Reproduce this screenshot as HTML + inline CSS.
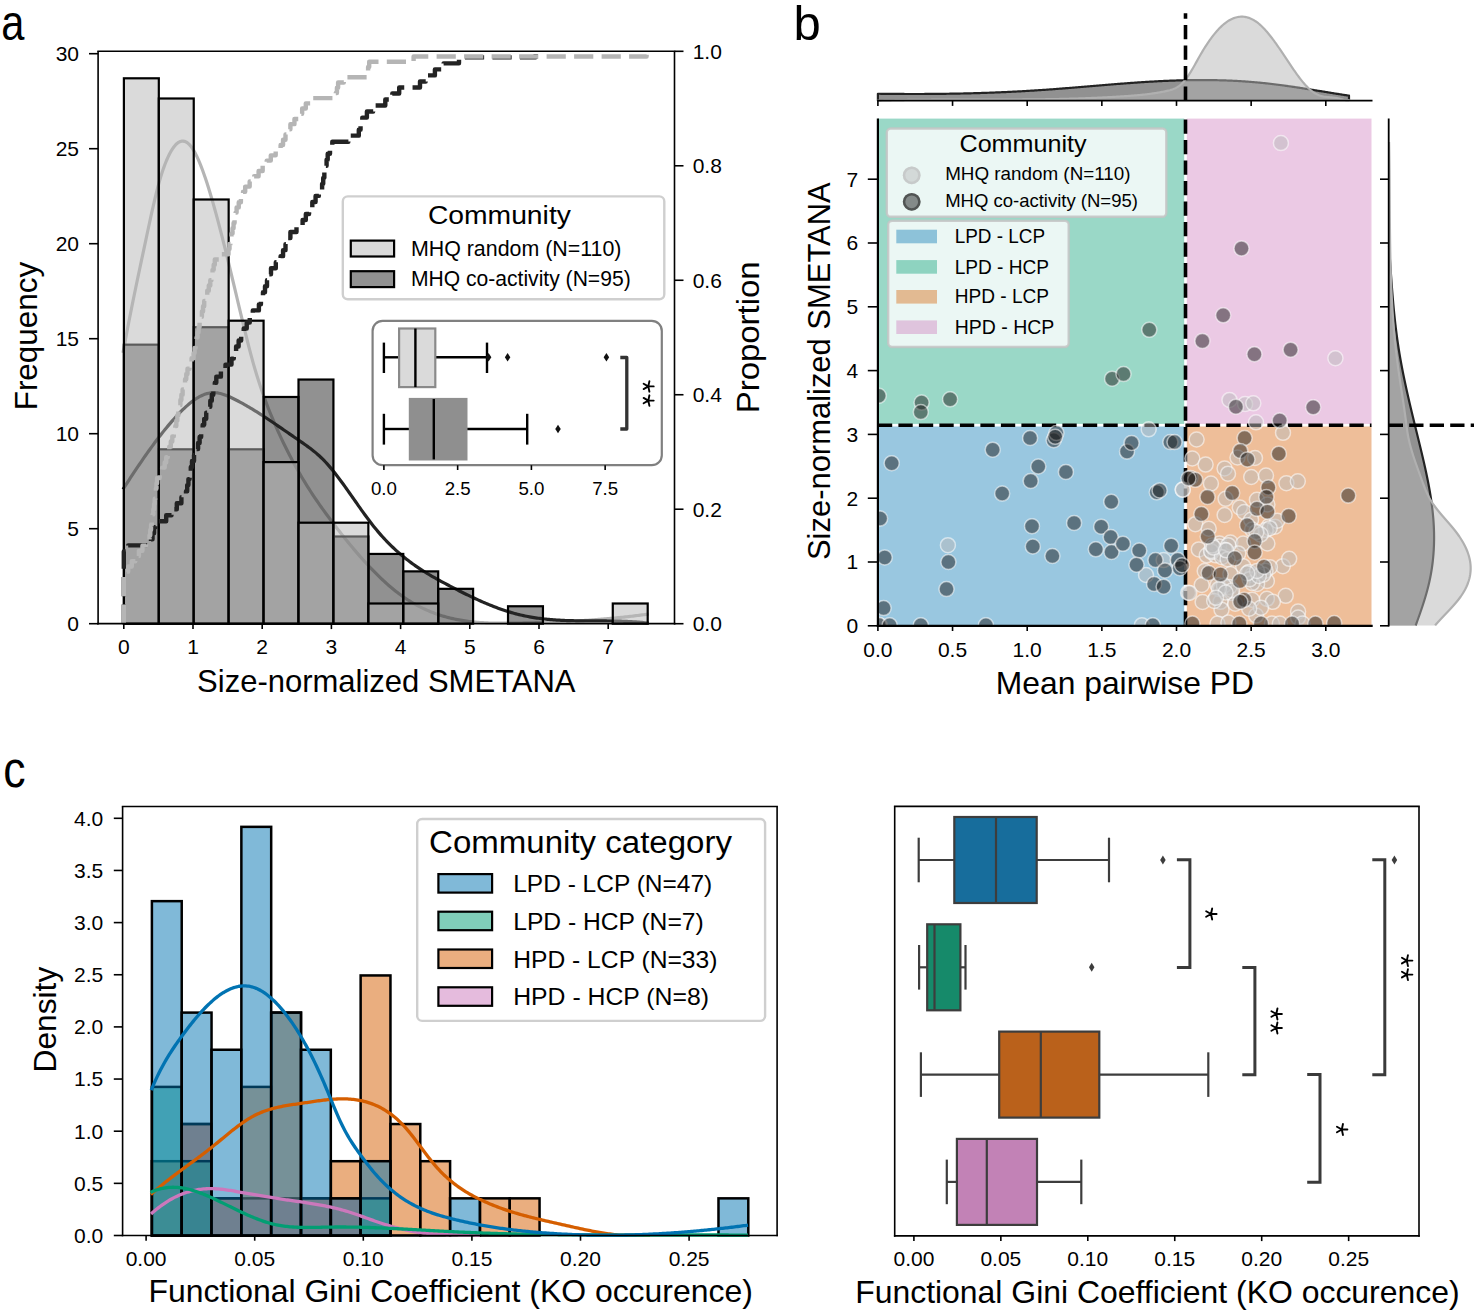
<!DOCTYPE html>
<html><head><meta charset="utf-8"><style>
html,body{margin:0;padding:0;background:#fff;}
svg{display:block;}
text{font-family:"Liberation Sans",sans-serif;}
</style></head><body>
<svg width="1474" height="1316" viewBox="0 0 1474 1316">
<rect x="0" y="0" width="1474" height="1316" fill="#fff"/>
<path d="M123.00,352.85 L124.50,344.66 L126.00,336.63 L127.50,328.76 L129.00,321.03 L130.50,313.42 L132.00,305.93 L133.50,298.54 L135.00,291.24 L136.50,284.02 L138.00,276.86 L139.50,269.74 L141.00,262.67 L142.50,255.62 L144.00,248.59 L145.50,241.55 L147.00,234.50 L148.50,227.48 L150.00,220.54 L151.50,213.70 L153.00,207.03 L154.50,200.56 L156.00,194.34 L157.50,188.42 L159.00,182.83 L160.50,177.62 L162.00,172.79 L163.50,168.34 L165.00,164.24 L166.50,160.49 L168.00,157.08 L169.50,154.00 L171.00,151.24 L172.50,148.81 L174.00,146.70 L175.50,144.93 L177.00,143.49 L178.50,142.39 L180.00,141.62 L181.50,141.19 L183.00,141.09 L184.50,141.35 L186.00,141.94 L187.50,142.88 L189.00,144.17 L190.50,145.81 L192.00,147.79 L193.50,150.10 L195.00,152.73 L196.50,155.66 L198.00,158.86 L199.50,162.33 L201.00,166.05 L202.50,170.01 L204.00,174.18 L205.50,178.55 L207.00,183.11 L208.50,187.84 L210.00,192.72 L211.50,197.75 L213.00,202.92 L214.50,208.22 L216.00,213.64 L217.50,219.18 L219.00,224.83 L220.50,230.57 L222.00,236.41 L223.50,242.32 L225.00,248.32 L226.50,254.38 L228.00,260.50 L229.50,266.67 L231.00,272.88 L232.50,279.13 L234.00,285.40 L235.50,291.70 L237.00,298.00 L238.50,304.31 L240.00,310.62 L241.50,316.91 L243.00,323.16 L244.50,329.36 L246.00,335.48 L247.50,341.50 L249.00,347.38 L250.50,353.12 L252.00,358.69 L253.50,364.06 L255.00,369.24 L256.50,374.24 L258.00,379.06 L259.50,383.72 L261.00,388.22 L262.50,392.58 L264.00,396.80 L265.50,400.89 L267.00,404.86 L268.50,408.72 L270.00,412.48 L271.50,416.14 L273.00,419.72 L274.50,423.23 L276.00,426.67 L277.50,430.04 L279.00,433.36 L280.50,436.62 L282.00,439.82 L283.50,442.96 L285.00,446.05 L286.50,449.08 L288.00,452.06 L289.50,454.99 L291.00,457.86 L292.50,460.69 L294.00,463.47 L295.50,466.20 L297.00,468.89 L298.50,471.53 L300.00,474.13 L301.50,476.69 L303.00,479.21 L304.50,481.69 L306.00,484.13 L307.50,486.53 L309.00,488.90 L310.50,491.24 L312.00,493.54 L313.50,495.81 L315.00,498.05 L316.50,500.26 L318.00,502.45 L319.50,504.60 L321.00,506.74 L322.50,508.85 L324.00,510.93 L325.50,513.00 L327.00,515.04 L328.50,517.07 L330.00,519.08 L331.50,521.07 L333.00,523.05 L334.50,525.01 L336.00,526.96 L337.50,528.90 L339.00,530.83 L340.50,532.75 L342.00,534.65 L343.50,536.54 L345.00,538.41 L346.50,540.27 L348.00,542.12 L349.50,543.95 L351.00,545.77 L352.50,547.57 L354.00,549.36 L355.50,551.13 L357.00,552.88 L358.50,554.62 L360.00,556.33 L361.50,558.03 L363.00,559.72 L364.50,561.38 L366.00,563.03 L367.50,564.65 L369.00,566.26 L370.50,567.85 L372.00,569.42 L373.50,570.96 L375.00,572.49 L376.50,573.99 L378.00,575.47 L379.50,576.93 L381.00,578.37 L382.50,579.78 L384.00,581.17 L385.50,582.54 L387.00,583.88 L388.50,585.20 L390.00,586.50 L391.50,587.77 L393.00,589.01 L394.50,590.23 L396.00,591.42 L397.50,592.59 L399.00,593.72 L400.50,594.83 L402.00,595.92 L403.50,596.97 L405.00,598.00 L406.50,599.00 L408.00,599.98 L409.50,600.93 L411.00,601.85 L412.50,602.75 L414.00,603.62 L415.50,604.47 L417.00,605.30 L418.50,606.10 L420.00,606.87 L421.50,607.63 L423.00,608.36 L424.50,609.07 L426.00,609.75 L427.50,610.41 L429.00,611.06 L430.50,611.68 L432.00,612.28 L433.50,612.86 L435.00,613.42 L436.50,613.95 L438.00,614.47 L439.50,614.98 L441.00,615.46 L442.50,615.92 L444.00,616.37 L445.50,616.79 L447.00,617.20 L448.50,617.60 L450.00,617.97 L451.50,618.33 L453.00,618.67 L454.50,619.00 L456.00,619.31 L457.50,619.61 L459.00,619.89 L460.50,620.16 L462.00,620.42 L463.50,620.66 L465.00,620.88 L466.50,621.10 L468.00,621.30 L469.50,621.49 L471.00,621.66 L472.50,621.83 L474.00,621.98 L475.50,622.13 L477.00,622.26 L478.50,622.38 L480.00,622.49 L481.50,622.60 L483.00,622.69 L484.50,622.77 L486.00,622.85 L487.50,622.92 L489.00,622.98 L490.50,623.00 L492.00,623.00 L493.50,623.00 L495.00,623.00 L496.50,623.00 L498.00,623.00 L499.50,623.00 L501.00,623.00 L502.50,623.00 L504.00,623.00 L505.50,623.00 L507.00,623.00 L508.50,623.00 L510.00,623.00 L511.50,623.00 L513.00,623.00 L514.50,623.00 L516.00,623.00 L517.50,623.00 L519.00,623.00 L520.50,623.00 L522.00,623.00 L523.50,622.97 L525.00,622.94 L526.50,622.91 L528.00,622.87 L529.50,622.84 L531.00,622.80 L532.50,622.76 L534.00,622.73 L535.50,622.69 L537.00,622.64 L538.50,622.60 L540.00,622.56 L541.50,622.51 L543.00,622.46 L544.50,622.41 L546.00,622.36 L547.50,622.31 L549.00,622.26 L550.50,622.20 L552.00,622.14 L553.50,622.09 L555.00,622.03 L556.50,621.96 L558.00,621.90 L559.50,621.83 L561.00,621.77 L562.50,621.70 L564.00,621.63 L565.50,621.55 L567.00,621.48 L568.50,621.40 L570.00,621.32 L571.50,621.24 L573.00,621.16 L574.50,621.08 L576.00,620.99 L577.50,620.90 L579.00,620.81 L580.50,620.72 L582.00,620.63 L583.50,620.53 L585.00,620.43 L586.50,620.33 L588.00,620.23 L589.50,620.12 L591.00,620.02 L592.50,619.91 L594.00,619.80 L595.50,619.68 L597.00,619.57 L598.50,619.45 L600.00,619.33 L601.50,619.21 L603.00,619.08 L604.50,618.95 L606.00,618.82 L607.50,618.69 L609.00,618.56 L610.50,618.42 L612.00,618.28 L613.50,618.14 L615.00,617.99 L616.50,617.85 L618.00,617.70 L619.50,617.54 L621.00,617.39 L622.50,617.23 L624.00,617.07 L625.50,616.91 L627.00,616.75 L628.50,616.58 L630.00,616.41 L631.50,616.23 L633.00,616.06 L634.50,615.88 L636.00,615.70 L637.50,615.51 L639.00,615.33 L640.50,615.14 L642.00,614.94 L643.50,614.75 L645.00,614.55 L646.50,614.35 L648.00,614.14 L648.80,614.03" fill="none" stroke="#b5b5b5" stroke-width="3.2" stroke-linejoin="round"/>
<path d="M123.00,489.35 L124.50,487.01 L126.00,484.68 L127.50,482.35 L129.00,480.04 L130.50,477.74 L132.00,475.46 L133.50,473.18 L135.00,470.92 L136.50,468.68 L138.00,466.45 L139.50,464.23 L141.00,462.03 L142.50,459.85 L144.00,457.68 L145.50,455.54 L147.00,453.41 L148.50,451.30 L150.00,449.21 L151.50,447.14 L153.00,445.09 L154.50,443.06 L156.00,441.06 L157.50,439.07 L159.00,437.11 L160.50,435.18 L162.00,433.27 L163.50,431.38 L165.00,429.52 L166.50,427.69 L168.00,425.88 L169.50,424.10 L171.00,422.35 L172.50,420.63 L174.00,418.94 L175.50,417.27 L177.00,415.64 L178.50,414.04 L180.00,412.48 L181.50,410.96 L183.00,409.48 L184.50,408.05 L186.00,406.66 L187.50,405.32 L189.00,404.03 L190.50,402.80 L192.00,401.62 L193.50,400.51 L195.00,399.46 L196.50,398.47 L198.00,397.55 L199.50,396.70 L201.00,395.93 L202.50,395.23 L204.00,394.61 L205.50,394.07 L207.00,393.61 L208.50,393.24 L210.00,392.96 L211.50,392.77 L213.00,392.67 L214.50,392.67 L216.00,392.76 L217.50,392.95 L219.00,393.21 L220.50,393.55 L222.00,393.95 L223.50,394.42 L225.00,394.95 L226.50,395.53 L228.00,396.15 L229.50,396.81 L231.00,397.51 L232.50,398.22 L234.00,398.96 L235.50,399.72 L237.00,400.48 L238.50,401.27 L240.00,402.07 L241.50,402.88 L243.00,403.71 L244.50,404.55 L246.00,405.41 L247.50,406.27 L249.00,407.15 L250.50,408.04 L252.00,408.94 L253.50,409.86 L255.00,410.78 L256.50,411.71 L258.00,412.65 L259.50,413.60 L261.00,414.56 L262.50,415.53 L264.00,416.51 L265.50,417.49 L267.00,418.48 L268.50,419.47 L270.00,420.48 L271.50,421.48 L273.00,422.49 L274.50,423.51 L276.00,424.53 L277.50,425.56 L279.00,426.59 L280.50,427.62 L282.00,428.65 L283.50,429.69 L285.00,430.72 L286.50,431.76 L288.00,432.80 L289.50,433.84 L291.00,434.88 L292.50,435.91 L294.00,436.95 L295.50,437.99 L297.00,439.02 L298.50,440.05 L300.00,441.08 L301.50,442.11 L303.00,443.15 L304.50,444.20 L306.00,445.26 L307.50,446.34 L309.00,447.44 L310.50,448.56 L312.00,449.72 L313.50,450.90 L315.00,452.13 L316.50,453.39 L318.00,454.70 L319.50,456.05 L321.00,457.46 L322.50,458.92 L324.00,460.44 L325.50,462.02 L327.00,463.66 L328.50,465.35 L330.00,467.09 L331.50,468.88 L333.00,470.72 L334.50,472.59 L336.00,474.51 L337.50,476.46 L339.00,478.44 L340.50,480.45 L342.00,482.49 L343.50,484.55 L345.00,486.64 L346.50,488.74 L348.00,490.85 L349.50,492.98 L351.00,495.12 L352.50,497.26 L354.00,499.40 L355.50,501.54 L357.00,503.69 L358.50,505.82 L360.00,507.94 L361.50,510.06 L363.00,512.15 L364.50,514.23 L366.00,516.29 L367.50,518.32 L369.00,520.33 L370.50,522.30 L372.00,524.24 L373.50,526.15 L375.00,528.02 L376.50,529.84 L378.00,531.63 L379.50,533.38 L381.00,535.09 L382.50,536.77 L384.00,538.40 L385.50,540.01 L387.00,541.58 L388.50,543.11 L390.00,544.62 L391.50,546.09 L393.00,547.52 L394.50,548.93 L396.00,550.31 L397.50,551.66 L399.00,552.98 L400.50,554.27 L402.00,555.53 L403.50,556.77 L405.00,557.98 L406.50,559.17 L408.00,560.34 L409.50,561.48 L411.00,562.59 L412.50,563.69 L414.00,564.76 L415.50,565.82 L417.00,566.85 L418.50,567.86 L420.00,568.86 L421.50,569.84 L423.00,570.80 L424.50,571.75 L426.00,572.68 L427.50,573.59 L429.00,574.50 L430.50,575.38 L432.00,576.26 L433.50,577.13 L435.00,577.98 L436.50,578.82 L438.00,579.66 L439.50,580.48 L441.00,581.30 L442.50,582.11 L444.00,582.91 L445.50,583.71 L447.00,584.50 L448.50,585.29 L450.00,586.08 L451.50,586.86 L453.00,587.64 L454.50,588.41 L456.00,589.18 L457.50,589.95 L459.00,590.71 L460.50,591.47 L462.00,592.22 L463.50,592.97 L465.00,593.71 L466.50,594.45 L468.00,595.18 L469.50,595.90 L471.00,596.62 L472.50,597.33 L474.00,598.04 L475.50,598.73 L477.00,599.42 L478.50,600.10 L480.00,600.78 L481.50,601.44 L483.00,602.10 L484.50,602.74 L486.00,603.38 L487.50,604.01 L489.00,604.63 L490.50,605.24 L492.00,605.84 L493.50,606.43 L495.00,607.01 L496.50,607.58 L498.00,608.13 L499.50,608.68 L501.00,609.21 L502.50,609.73 L504.00,610.24 L505.50,610.74 L507.00,611.22 L508.50,611.69 L510.00,612.15 L511.50,612.60 L513.00,613.03 L514.50,613.44 L516.00,613.84 L517.50,614.23 L519.00,614.60 L520.50,614.96 L522.00,615.31 L523.50,615.64 L525.00,615.96 L526.50,616.26 L528.00,616.55 L529.50,616.83 L531.00,617.10 L532.50,617.36 L534.00,617.60 L535.50,617.83 L537.00,618.05 L538.50,618.26 L540.00,618.46 L541.50,618.65 L543.00,618.83 L544.50,619.00 L546.00,619.16 L547.50,619.31 L549.00,619.45 L550.50,619.58 L552.00,619.70 L553.50,619.82 L555.00,619.93 L556.50,620.03 L558.00,620.12 L559.50,620.21 L561.00,620.29 L562.50,620.36 L564.00,620.43 L565.50,620.49 L567.00,620.55 L568.50,620.60 L570.00,620.65 L571.50,620.69 L573.00,620.72 L574.50,620.76 L576.00,620.78 L577.50,620.81 L579.00,620.83 L580.50,620.85 L582.00,620.86 L583.50,620.88 L585.00,620.89 L586.50,620.90 L588.00,620.91 L589.50,620.91 L591.00,620.92 L592.50,620.92 L594.00,620.92 L595.50,620.93 L597.00,620.93 L598.50,620.93 L600.00,620.94 L601.50,620.94 L603.00,620.95 L604.50,620.96 L606.00,620.97 L607.50,620.98 L609.00,620.99 L610.50,621.01 L612.00,621.03 L613.50,621.05 L615.00,621.07 L616.50,621.10 L618.00,621.14 L619.50,621.17 L621.00,621.22 L622.50,621.26 L624.00,621.31 L625.50,621.37 L627.00,621.43 L628.50,621.50 L630.00,621.58 L631.50,621.66 L633.00,621.74 L634.50,621.84 L636.00,621.94 L637.50,622.05 L639.00,622.17 L640.50,622.29 L642.00,622.43 L643.50,622.57 L645.00,622.72 L646.50,622.88 L648.00,623.00 L648.80,623.00" fill="none" stroke="#232323" stroke-width="3.2" stroke-linejoin="round"/>
<rect x="123.90" y="344.66" width="34.92" height="279.04" fill="#232323" stroke="#000" stroke-width="2.2" fill-opacity="0.5"/>
<rect x="158.82" y="449.30" width="34.92" height="174.40" fill="#232323" stroke="#000" stroke-width="2.2" fill-opacity="0.5"/>
<rect x="193.74" y="327.22" width="34.92" height="296.48" fill="#232323" stroke="#000" stroke-width="2.2" fill-opacity="0.5"/>
<rect x="228.66" y="449.30" width="34.92" height="174.40" fill="#232323" stroke="#000" stroke-width="2.2" fill-opacity="0.5"/>
<rect x="263.58" y="396.98" width="34.92" height="226.72" fill="#232323" stroke="#000" stroke-width="2.2" fill-opacity="0.5"/>
<rect x="298.50" y="379.54" width="34.92" height="244.16" fill="#232323" stroke="#000" stroke-width="2.2" fill-opacity="0.5"/>
<rect x="333.42" y="536.50" width="34.92" height="87.20" fill="#232323" stroke="#000" stroke-width="2.2" fill-opacity="0.5"/>
<rect x="368.34" y="553.94" width="34.92" height="69.76" fill="#232323" stroke="#000" stroke-width="2.2" fill-opacity="0.5"/>
<rect x="403.26" y="571.38" width="34.92" height="52.32" fill="#232323" stroke="#000" stroke-width="2.2" fill-opacity="0.5"/>
<rect x="438.18" y="588.82" width="34.92" height="34.88" fill="#232323" stroke="#000" stroke-width="2.2" fill-opacity="0.5"/>
<rect x="508.02" y="606.26" width="34.92" height="17.44" fill="#232323" stroke="#000" stroke-width="2.2" fill-opacity="0.5"/>
<rect x="123.90" y="78.30" width="34.92" height="545.40" fill="#b5b5b5" stroke="#000" stroke-width="2.2" fill-opacity="0.5"/>
<rect x="158.82" y="98.50" width="34.92" height="525.20" fill="#b5b5b5" stroke="#000" stroke-width="2.2" fill-opacity="0.5"/>
<rect x="193.74" y="199.50" width="34.92" height="424.20" fill="#b5b5b5" stroke="#000" stroke-width="2.2" fill-opacity="0.5"/>
<rect x="228.66" y="320.70" width="34.92" height="303.00" fill="#b5b5b5" stroke="#000" stroke-width="2.2" fill-opacity="0.5"/>
<rect x="263.58" y="462.10" width="34.92" height="161.60" fill="#b5b5b5" stroke="#000" stroke-width="2.2" fill-opacity="0.5"/>
<rect x="298.50" y="522.70" width="34.92" height="101.00" fill="#b5b5b5" stroke="#000" stroke-width="2.2" fill-opacity="0.5"/>
<rect x="333.42" y="522.70" width="34.92" height="101.00" fill="#b5b5b5" stroke="#000" stroke-width="2.2" fill-opacity="0.5"/>
<rect x="368.34" y="603.50" width="34.92" height="20.20" fill="#b5b5b5" stroke="#000" stroke-width="2.2" fill-opacity="0.5"/>
<rect x="403.26" y="603.50" width="34.92" height="20.20" fill="#b5b5b5" stroke="#000" stroke-width="2.2" fill-opacity="0.5"/>
<rect x="612.78" y="603.50" width="34.92" height="20.20" fill="#b5b5b5" stroke="#000" stroke-width="2.2" fill-opacity="0.5"/>
<path d="M123.80,623.70 L123.80,623.70 L123.80,617.67 L123.80,617.67 L123.80,611.65 L123.80,611.65 L123.80,605.62 L123.80,605.62 L123.80,599.60 L123.80,599.60 L123.80,593.57 L123.80,593.57 L123.80,587.55 L123.80,587.55 L123.80,581.52 L123.80,581.52 L123.80,575.50 L123.80,575.50 L123.80,569.47 L123.80,569.47 L123.80,563.45 L123.80,563.45 L123.80,557.42 L123.80,557.42 L123.80,551.40 L128.20,551.40 L128.20,545.37 L151.00,545.37 L151.00,539.35 L152.53,539.35 L152.53,533.32 L154.07,533.32 L154.07,527.30 L155.60,527.30 L155.60,521.27 L166.20,521.27 L166.20,515.25 L171.50,515.25 L171.50,509.22 L176.80,509.22 L176.80,503.19 L181.40,503.19 L181.40,497.17 L186.00,497.17 L186.00,491.14 L187.20,491.14 L187.20,485.12 L188.40,485.12 L188.40,479.09 L189.60,479.09 L189.60,473.07 L190.80,473.07 L190.80,467.04 L192.00,467.04 L192.00,461.02 L194.03,461.02 L194.03,454.99 L196.07,454.99 L196.07,448.97 L198.10,448.97 L198.10,442.94 L199.62,442.94 L199.62,436.92 L201.15,436.92 L201.15,430.89 L202.67,430.89 L202.67,424.87 L204.20,424.87 L204.20,418.84 L206.23,418.84 L206.23,412.82 L208.27,412.82 L208.27,406.79 L210.30,406.79 L210.30,400.77 L211.80,400.77 L211.80,394.74 L213.30,394.74 L213.30,388.71 L214.80,388.71 L214.80,382.69 L216.30,382.69 L216.30,376.66 L220.90,376.66 L220.90,370.64 L225.50,370.64 L225.50,364.61 L231.50,364.61 L231.50,358.59 L233.80,358.59 L233.80,352.56 L236.10,352.56 L236.10,346.54 L238.63,346.54 L238.63,340.51 L241.17,340.51 L241.17,334.49 L243.70,334.49 L243.70,328.46 L246.73,328.46 L246.73,322.44 L249.77,322.44 L249.77,316.41 L252.80,316.41 L252.80,310.39 L258.90,310.39 L258.90,304.36 L260.93,304.36 L260.93,298.34 L262.97,298.34 L262.97,292.31 L265.00,292.31 L265.00,286.29 L267.00,286.29 L267.00,280.26 L269.00,280.26 L269.00,274.23 L271.00,274.23 L271.00,268.21 L275.80,268.21 L275.80,262.18 L280.60,262.18 L280.60,256.16 L283.05,256.16 L283.05,250.13 L285.50,250.13 L285.50,244.11 L287.95,244.11 L287.95,238.08 L290.40,238.08 L290.40,232.06 L296.50,232.06 L296.50,226.03 L302.60,226.03 L302.60,220.01 L305.83,220.01 L305.83,213.98 L309.07,213.98 L309.07,207.96 L312.30,207.96 L312.30,201.93 L315.57,201.93 L315.57,195.91 L318.83,195.91 L318.83,189.88 L322.10,189.88 L322.10,183.86 L323.22,183.86 L323.22,177.83 L324.34,177.83 L324.34,171.81 L325.46,171.81 L325.46,165.78 L326.58,165.78 L326.58,159.75 L327.70,159.75 L327.70,153.73 L330.00,153.73 L330.00,147.70 L332.30,147.70 L332.30,141.68 L348.40,141.68 L348.40,135.65 L358.80,135.65 L358.80,129.63 L360.55,129.63 L360.55,123.60 L362.30,123.60 L362.30,117.58 L366.90,117.58 L366.90,111.55 L373.20,111.55 L373.20,105.53 L385.30,105.53 L385.30,99.50 L392.30,99.50 L392.30,93.48 L399.20,93.48 L399.20,87.45 L420.00,87.45 L420.00,81.43 L425.70,81.43 L425.70,75.40 L434.90,75.40 L434.90,69.38 L443.60,69.38 L443.60,63.35 L459.00,63.35 L459.00,57.33 L535.70,57.33 L535.70,51.30" fill="none" stroke="#232323" stroke-width="4.4" stroke-dasharray="19.2 8.3" stroke-linejoin="round"/>
<path d="M123.80,623.70 L123.80,623.70 L123.80,618.50 L123.80,618.50 L123.80,613.29 L123.80,613.29 L123.80,608.09 L123.80,608.09 L123.80,602.89 L123.80,602.89 L123.80,597.68 L123.80,597.68 L123.80,592.48 L123.80,592.48 L123.80,587.27 L123.80,587.27 L123.80,582.07 L123.80,582.07 L123.80,576.87 L126.00,576.87 L126.00,571.66 L128.20,571.66 L128.20,566.46 L131.77,566.46 L131.77,561.26 L135.33,561.26 L135.33,556.05 L138.90,556.05 L138.90,550.85 L142.43,550.85 L142.43,545.65 L145.97,545.65 L145.97,540.44 L149.50,540.44 L149.50,535.24 L150.27,535.24 L150.27,530.03 L151.03,530.03 L151.03,524.83 L151.80,524.83 L151.80,519.63 L152.57,519.63 L152.57,514.42 L153.33,514.42 L153.33,509.22 L154.10,509.22 L154.10,504.02 L154.70,504.02 L154.70,498.81 L155.30,498.81 L155.30,493.61 L155.90,493.61 L155.90,488.41 L156.50,488.41 L156.50,483.20 L157.10,483.20 L157.10,478.00 L159.63,478.00 L159.63,472.79 L162.17,472.79 L162.17,467.59 L164.70,467.59 L164.70,462.39 L166.22,462.39 L166.22,457.18 L167.75,457.18 L167.75,451.98 L169.28,451.98 L169.28,446.78 L170.80,446.78 L170.80,441.57 L172.30,441.57 L172.30,436.37 L173.80,436.37 L173.80,431.17 L175.30,431.17 L175.30,425.96 L176.32,425.96 L176.32,420.76 L177.33,420.76 L177.33,415.55 L178.35,415.55 L178.35,410.35 L179.37,410.35 L179.37,405.15 L180.38,405.15 L180.38,399.94 L181.40,399.94 L181.40,394.74 L182.62,394.74 L182.62,389.54 L183.84,389.54 L183.84,384.33 L185.06,384.33 L185.06,379.13 L186.28,379.13 L186.28,373.93 L187.50,373.93 L187.50,368.72 L189.53,368.72 L189.53,363.52 L191.57,363.52 L191.57,358.31 L193.60,358.31 L193.60,353.11 L194.60,353.11 L194.60,347.91 L195.60,347.91 L195.60,342.70 L196.60,342.70 L196.60,337.50 L197.60,337.50 L197.60,332.30 L198.60,332.30 L198.60,327.09 L199.60,327.09 L199.60,321.89 L200.75,321.89 L200.75,316.69 L201.90,316.69 L201.90,311.48 L203.05,311.48 L203.05,306.28 L204.20,306.28 L204.20,301.07 L205.72,301.07 L205.72,295.87 L207.25,295.87 L207.25,290.67 L208.78,290.67 L208.78,285.46 L210.30,285.46 L210.30,280.26 L211.43,280.26 L211.43,275.06 L212.55,275.06 L212.55,269.85 L213.68,269.85 L213.68,264.65 L214.80,264.65 L214.80,259.45 L221.65,259.45 L221.65,254.24 L228.50,254.24 L228.50,249.04 L229.51,249.04 L229.51,243.83 L230.53,243.83 L230.53,238.63 L231.54,238.63 L231.54,233.43 L232.55,233.43 L232.55,228.22 L233.56,228.22 L233.56,223.02 L234.57,223.02 L234.57,217.82 L235.59,217.82 L235.59,212.61 L236.60,212.61 L236.60,207.41 L238.75,207.41 L238.75,202.21 L240.90,202.21 L240.90,197.00 L243.05,197.00 L243.05,191.80 L245.20,191.80 L245.20,186.59 L249.67,186.59 L249.67,181.39 L254.13,181.39 L254.13,176.19 L258.60,176.19 L258.60,170.98 L262.67,170.98 L262.67,165.78 L266.73,165.78 L266.73,160.58 L270.80,160.58 L270.80,155.37 L275.70,155.37 L275.70,150.17 L280.60,150.17 L280.60,144.97 L283.05,144.97 L283.05,139.76 L285.50,139.76 L285.50,134.56 L287.95,134.56 L287.95,129.35 L290.40,129.35 L290.40,124.15 L294.45,124.15 L294.45,118.95 L298.50,118.95 L298.50,113.74 L302.15,113.74 L302.15,108.54 L305.80,108.54 L305.80,103.34 L311.50,103.34 L311.50,98.13 L335.77,98.13 L335.77,92.93 L336.93,92.93 L336.93,87.73 L338.10,87.73 L338.10,82.52 L343.80,82.52 L343.80,77.32 L367.00,77.32 L367.00,72.11 L368.10,72.11 L368.10,66.91 L369.20,66.91 L369.20,61.71 L413.60,61.71 L413.60,56.50 L646.60,56.50 L646.60,51.30" fill="none" stroke="#b5b5b5" stroke-width="4.4" stroke-dasharray="19.2 8.3" stroke-linejoin="round"/>
<line x1="98.10" y1="51.30" x2="98.10" y2="624.40" stroke="#000" stroke-width="1.6"/>
<line x1="674.50" y1="51.30" x2="674.50" y2="624.40" stroke="#000" stroke-width="1.6"/>
<line x1="97.30" y1="51.30" x2="675.30" y2="51.30" stroke="#000" stroke-width="1.6"/>
<line x1="97.30" y1="623.60" x2="675.30" y2="623.60" stroke="#000" stroke-width="1.6"/>
<line x1="89.00" y1="623.70" x2="98.10" y2="623.70" stroke="#000" stroke-width="1.6"/>
<text x="79.00" y="631.10" font-size="21" text-anchor="end" fill="#000">0</text>
<line x1="89.00" y1="528.70" x2="98.10" y2="528.70" stroke="#000" stroke-width="1.6"/>
<text x="79.00" y="536.10" font-size="21" text-anchor="end" fill="#000">5</text>
<line x1="89.00" y1="433.70" x2="98.10" y2="433.70" stroke="#000" stroke-width="1.6"/>
<text x="79.00" y="441.10" font-size="21" text-anchor="end" fill="#000">10</text>
<line x1="89.00" y1="338.70" x2="98.10" y2="338.70" stroke="#000" stroke-width="1.6"/>
<text x="79.00" y="346.10" font-size="21" text-anchor="end" fill="#000">15</text>
<line x1="89.00" y1="243.70" x2="98.10" y2="243.70" stroke="#000" stroke-width="1.6"/>
<text x="79.00" y="251.10" font-size="21" text-anchor="end" fill="#000">20</text>
<line x1="89.00" y1="148.70" x2="98.10" y2="148.70" stroke="#000" stroke-width="1.6"/>
<text x="79.00" y="156.10" font-size="21" text-anchor="end" fill="#000">25</text>
<line x1="89.00" y1="53.70" x2="98.10" y2="53.70" stroke="#000" stroke-width="1.6"/>
<text x="79.00" y="61.10" font-size="21" text-anchor="end" fill="#000">30</text>
<line x1="123.80" y1="623.60" x2="123.80" y2="629.10" stroke="#000" stroke-width="1.6"/>
<text x="123.80" y="653.90" font-size="21" text-anchor="middle" fill="#000">0</text>
<line x1="193.00" y1="623.60" x2="193.00" y2="629.10" stroke="#000" stroke-width="1.6"/>
<text x="193.00" y="653.90" font-size="21" text-anchor="middle" fill="#000">1</text>
<line x1="262.20" y1="623.60" x2="262.20" y2="629.10" stroke="#000" stroke-width="1.6"/>
<text x="262.20" y="653.90" font-size="21" text-anchor="middle" fill="#000">2</text>
<line x1="331.40" y1="623.60" x2="331.40" y2="629.10" stroke="#000" stroke-width="1.6"/>
<text x="331.40" y="653.90" font-size="21" text-anchor="middle" fill="#000">3</text>
<line x1="400.60" y1="623.60" x2="400.60" y2="629.10" stroke="#000" stroke-width="1.6"/>
<text x="400.60" y="653.90" font-size="21" text-anchor="middle" fill="#000">4</text>
<line x1="469.80" y1="623.60" x2="469.80" y2="629.10" stroke="#000" stroke-width="1.6"/>
<text x="469.80" y="653.90" font-size="21" text-anchor="middle" fill="#000">5</text>
<line x1="539.00" y1="623.60" x2="539.00" y2="629.10" stroke="#000" stroke-width="1.6"/>
<text x="539.00" y="653.90" font-size="21" text-anchor="middle" fill="#000">6</text>
<line x1="608.20" y1="623.60" x2="608.20" y2="629.10" stroke="#000" stroke-width="1.6"/>
<text x="608.20" y="653.90" font-size="21" text-anchor="middle" fill="#000">7</text>
<line x1="674.50" y1="623.70" x2="683.50" y2="623.70" stroke="#000" stroke-width="1.6"/>
<text x="692.70" y="631.10" font-size="21" text-anchor="start" fill="#000">0.0</text>
<line x1="674.50" y1="509.22" x2="683.50" y2="509.22" stroke="#000" stroke-width="1.6"/>
<text x="692.70" y="516.62" font-size="21" text-anchor="start" fill="#000">0.2</text>
<line x1="674.50" y1="394.74" x2="683.50" y2="394.74" stroke="#000" stroke-width="1.6"/>
<text x="692.70" y="402.14" font-size="21" text-anchor="start" fill="#000">0.4</text>
<line x1="674.50" y1="280.26" x2="683.50" y2="280.26" stroke="#000" stroke-width="1.6"/>
<text x="692.70" y="287.66" font-size="21" text-anchor="start" fill="#000">0.6</text>
<line x1="674.50" y1="165.78" x2="683.50" y2="165.78" stroke="#000" stroke-width="1.6"/>
<text x="692.70" y="173.18" font-size="21" text-anchor="start" fill="#000">0.8</text>
<line x1="674.50" y1="51.30" x2="683.50" y2="51.30" stroke="#000" stroke-width="1.6"/>
<text x="692.70" y="58.70" font-size="21" text-anchor="start" fill="#000">1.0</text>
<text x="386.30" y="691.70" font-size="31.5" text-anchor="middle" fill="#000" textLength="378.4" lengthAdjust="spacingAndGlyphs">Size-normalized SMETANA</text>
<text x="36.70" y="336.10" font-size="31.5" text-anchor="middle" fill="#000" textLength="148.4" lengthAdjust="spacingAndGlyphs" transform="rotate(-90 36.70 336.10)">Frequency</text>
<text x="759.00" y="337.30" font-size="31.5" text-anchor="middle" fill="#000" textLength="151.9" lengthAdjust="spacingAndGlyphs" transform="rotate(-90 759.00 337.30)">Proportion</text>
<text transform="translate(1.2,39.7) scale(0.85,1.02)" font-size="49" fill="#000">a</text>
<rect x="342.8" y="196.4" width="321.5" height="102.9" rx="5" ry="5" fill="#fff" fill-opacity="0.8" stroke="#cfcfcf" stroke-width="2.4"/>
<text x="499.40" y="223.90" font-size="26.5" text-anchor="middle" fill="#000" textLength="143.0" lengthAdjust="spacingAndGlyphs">Community</text>
<rect x="350.80" y="240.60" width="43.30" height="15.90" fill="#b5b5b5" stroke="#000" stroke-width="2.2" fill-opacity="0.5"/>
<rect x="350.80" y="271.20" width="43.30" height="15.90" fill="#232323" stroke="#000" stroke-width="2.2" fill-opacity="0.5"/>
<text x="410.90" y="255.90" font-size="21.3" text-anchor="start" fill="#000" textLength="210.6" lengthAdjust="spacingAndGlyphs">MHQ random (N=110)</text>
<text x="410.90" y="286.40" font-size="21.3" text-anchor="start" fill="#000" textLength="219.8" lengthAdjust="spacingAndGlyphs">MHQ co-activity (N=95)</text>
<rect x="372.6" y="320.9" width="289.2" height="144.3" rx="10" ry="10" fill="#fff" stroke="#808080" stroke-width="2.2"/>
<line x1="383.90" y1="357.30" x2="399.10" y2="357.30" stroke="#000" stroke-width="2.4"/>
<line x1="435.30" y1="357.30" x2="487.00" y2="357.30" stroke="#000" stroke-width="2.4"/>
<line x1="383.90" y1="342.60" x2="383.90" y2="373.00" stroke="#000" stroke-width="2.4"/>
<line x1="487.00" y1="342.60" x2="487.00" y2="373.00" stroke="#000" stroke-width="2.4"/>
<rect x="399.10" y="328.50" width="36.20" height="58.60" fill="#dadada" stroke="#8a8a8a" stroke-width="2.2"/>
<line x1="415.40" y1="328.50" x2="415.40" y2="387.10" stroke="#000" stroke-width="2.4"/>
<path d="M488.60,353.05 L491.35,357.30 L488.60,361.55 L485.85,357.30 Z" fill="#111"/>
<path d="M507.60,353.05 L510.35,357.30 L507.60,361.55 L504.85,357.30 Z" fill="#111"/>
<path d="M606.40,353.05 L609.15,357.30 L606.40,361.55 L603.65,357.30 Z" fill="#111"/>
<line x1="383.90" y1="429.00" x2="409.90" y2="429.00" stroke="#000" stroke-width="2.4"/>
<line x1="466.40" y1="429.00" x2="527.20" y2="429.00" stroke="#000" stroke-width="2.4"/>
<line x1="383.90" y1="413.80" x2="383.90" y2="444.60" stroke="#000" stroke-width="2.4"/>
<line x1="527.20" y1="413.80" x2="527.20" y2="444.60" stroke="#000" stroke-width="2.4"/>
<rect x="409.90" y="399.00" width="56.50" height="60.40" fill="#8f8f8f" stroke="#8f8f8f" stroke-width="2.2"/>
<line x1="433.80" y1="399.00" x2="433.80" y2="459.40" stroke="#000" stroke-width="2.4"/>
<path d="M558.00,424.75 L560.75,429.00 L558.00,433.25 L555.25,429.00 Z" fill="#111"/>
<line x1="383.90" y1="465.20" x2="383.90" y2="470.00" stroke="#000" stroke-width="1.6"/>
<text x="383.90" y="494.50" font-size="18.7" text-anchor="middle" fill="#000">0.0</text>
<line x1="457.65" y1="465.20" x2="457.65" y2="470.00" stroke="#000" stroke-width="1.6"/>
<text x="457.65" y="494.50" font-size="18.7" text-anchor="middle" fill="#000">2.5</text>
<line x1="531.40" y1="465.20" x2="531.40" y2="470.00" stroke="#000" stroke-width="1.6"/>
<text x="531.40" y="494.50" font-size="18.7" text-anchor="middle" fill="#000">5.0</text>
<line x1="605.15" y1="465.20" x2="605.15" y2="470.00" stroke="#000" stroke-width="1.6"/>
<text x="605.15" y="494.50" font-size="18.7" text-anchor="middle" fill="#000">7.5</text>
<path d="M620.3,357.5 L626.8,357.5 L626.8,429.0 L620.3,429.0" fill="none" stroke="#333" stroke-width="3.3" stroke-linejoin="round"/>
<path d="M648.30,386.40 L653.70,386.40 M648.30,386.40 L649.42,391.68 M648.30,386.40 L649.42,381.12 M648.30,386.40 L643.62,389.10 M648.30,386.40 L643.62,383.70 " stroke="#000" stroke-width="1.9" stroke-linecap="round" fill="none"/>
<path d="M648.30,400.60 L653.70,400.60 M648.30,400.60 L649.42,405.88 M648.30,400.60 L649.42,395.32 M648.30,400.60 L643.62,403.30 M648.30,400.60 L643.62,397.90 " stroke="#000" stroke-width="1.9" stroke-linecap="round" fill="none"/>
<rect x="877.90" y="118.60" width="306.30" height="305.30" fill="#9ad8c7" stroke="none" stroke-width="0"/>
<rect x="877.90" y="426.50" width="306.30" height="199.30" fill="#99c7e0" stroke="none" stroke-width="0"/>
<rect x="1186.80" y="118.60" width="184.70" height="305.30" fill="#ebc9e4" stroke="none" stroke-width="0"/>
<rect x="1186.80" y="426.50" width="184.70" height="199.30" fill="#eebe99" stroke="none" stroke-width="0"/>
<line x1="1185.5" y1="625.8" x2="1185.5" y2="118.6" stroke="#000" stroke-width="3.6" stroke-dasharray="14.3 6.2"/>
<line x1="877.9" y1="425.2" x2="1371.5" y2="425.2" stroke="#000" stroke-width="3.6" stroke-dasharray="14.3 6.2"/>
<clipPath id="clipb"><rect x="877.9" y="108.6" width="495.6" height="517.1999999999999"/></clipPath>
<g clip-path="url(#clipb)">
<circle cx="1280.9" cy="143.1" r="7.5" fill="#bbbbbb" fill-opacity="0.5" stroke="#fff" stroke-opacity="0.55" stroke-width="1.5"/>
<circle cx="1335.4" cy="358.2" r="7.5" fill="#bbbbbb" fill-opacity="0.5" stroke="#fff" stroke-opacity="0.55" stroke-width="1.5"/>
<circle cx="1229.5" cy="399.9" r="7.5" fill="#bbbbbb" fill-opacity="0.5" stroke="#fff" stroke-opacity="0.55" stroke-width="1.5"/>
<circle cx="1245.1" cy="404.0" r="7.5" fill="#bbbbbb" fill-opacity="0.5" stroke="#fff" stroke-opacity="0.55" stroke-width="1.5"/>
<circle cx="1253.3" cy="403.3" r="7.5" fill="#bbbbbb" fill-opacity="0.5" stroke="#fff" stroke-opacity="0.55" stroke-width="1.5"/>
<circle cx="1256.0" cy="422.3" r="7.5" fill="#bbbbbb" fill-opacity="0.5" stroke="#fff" stroke-opacity="0.55" stroke-width="1.5"/>
<circle cx="947.9" cy="545.2" r="7.5" fill="#bbbbbb" fill-opacity="0.5" stroke="#fff" stroke-opacity="0.55" stroke-width="1.5"/>
<circle cx="1148.7" cy="429.3" r="7.5" fill="#bbbbbb" fill-opacity="0.5" stroke="#fff" stroke-opacity="0.55" stroke-width="1.5"/>
<circle cx="1146.0" cy="575.0" r="7.5" fill="#bbbbbb" fill-opacity="0.5" stroke="#fff" stroke-opacity="0.55" stroke-width="1.5"/>
<circle cx="1141.9" cy="625.2" r="7.5" fill="#bbbbbb" fill-opacity="0.5" stroke="#fff" stroke-opacity="0.55" stroke-width="1.5"/>
<circle cx="1182.6" cy="489.6" r="7.5" fill="#bbbbbb" fill-opacity="0.5" stroke="#fff" stroke-opacity="0.55" stroke-width="1.5"/>
<circle cx="1188.1" cy="592.7" r="7.5" fill="#bbbbbb" fill-opacity="0.5" stroke="#fff" stroke-opacity="0.55" stroke-width="1.5"/>
<circle cx="1163.6" cy="560.1" r="7.5" fill="#bbbbbb" fill-opacity="0.5" stroke="#fff" stroke-opacity="0.55" stroke-width="1.5"/>
<circle cx="880.0" cy="625.5" r="7.5" fill="#bbbbbb" fill-opacity="0.5" stroke="#fff" stroke-opacity="0.55" stroke-width="1.5"/>
<circle cx="1283.0" cy="432.8" r="7.5" fill="#bbbbbb" fill-opacity="0.5" stroke="#fff" stroke-opacity="0.55" stroke-width="1.5"/>
<circle cx="1196.6" cy="439.5" r="7.5" fill="#bbbbbb" fill-opacity="0.5" stroke="#fff" stroke-opacity="0.55" stroke-width="1.5"/>
<circle cx="1192.3" cy="458.5" r="7.5" fill="#bbbbbb" fill-opacity="0.5" stroke="#fff" stroke-opacity="0.55" stroke-width="1.5"/>
<circle cx="1205.6" cy="464.6" r="7.5" fill="#bbbbbb" fill-opacity="0.5" stroke="#fff" stroke-opacity="0.55" stroke-width="1.5"/>
<circle cx="1237.5" cy="457.5" r="7.5" fill="#bbbbbb" fill-opacity="0.5" stroke="#fff" stroke-opacity="0.55" stroke-width="1.5"/>
<circle cx="1255.0" cy="458.0" r="7.5" fill="#bbbbbb" fill-opacity="0.5" stroke="#fff" stroke-opacity="0.55" stroke-width="1.5"/>
<circle cx="1224.6" cy="468.4" r="7.5" fill="#bbbbbb" fill-opacity="0.5" stroke="#fff" stroke-opacity="0.55" stroke-width="1.5"/>
<circle cx="1228.0" cy="473.7" r="7.5" fill="#bbbbbb" fill-opacity="0.5" stroke="#fff" stroke-opacity="0.55" stroke-width="1.5"/>
<circle cx="1251.2" cy="477.0" r="7.5" fill="#bbbbbb" fill-opacity="0.5" stroke="#fff" stroke-opacity="0.55" stroke-width="1.5"/>
<circle cx="1266.0" cy="475.6" r="7.5" fill="#bbbbbb" fill-opacity="0.5" stroke="#fff" stroke-opacity="0.55" stroke-width="1.5"/>
<circle cx="1286.4" cy="483.2" r="7.5" fill="#bbbbbb" fill-opacity="0.5" stroke="#fff" stroke-opacity="0.55" stroke-width="1.5"/>
<circle cx="1297.8" cy="481.3" r="7.5" fill="#bbbbbb" fill-opacity="0.5" stroke="#fff" stroke-opacity="0.55" stroke-width="1.5"/>
<circle cx="1210.9" cy="483.6" r="7.5" fill="#bbbbbb" fill-opacity="0.5" stroke="#fff" stroke-opacity="0.55" stroke-width="1.5"/>
<circle cx="1182.8" cy="489.8" r="7.5" fill="#bbbbbb" fill-opacity="0.5" stroke="#fff" stroke-opacity="0.55" stroke-width="1.5"/>
<circle cx="1225.6" cy="498.8" r="7.5" fill="#bbbbbb" fill-opacity="0.5" stroke="#fff" stroke-opacity="0.55" stroke-width="1.5"/>
<circle cx="1256.9" cy="499.8" r="7.5" fill="#bbbbbb" fill-opacity="0.5" stroke="#fff" stroke-opacity="0.55" stroke-width="1.5"/>
<circle cx="1239.8" cy="507.4" r="7.5" fill="#bbbbbb" fill-opacity="0.5" stroke="#fff" stroke-opacity="0.55" stroke-width="1.5"/>
<circle cx="1267.4" cy="504.5" r="7.5" fill="#bbbbbb" fill-opacity="0.5" stroke="#fff" stroke-opacity="0.55" stroke-width="1.5"/>
<circle cx="1224.6" cy="515.0" r="7.5" fill="#bbbbbb" fill-opacity="0.5" stroke="#fff" stroke-opacity="0.55" stroke-width="1.5"/>
<circle cx="1244.2" cy="512.1" r="7.5" fill="#bbbbbb" fill-opacity="0.5" stroke="#fff" stroke-opacity="0.55" stroke-width="1.5"/>
<circle cx="1195.3" cy="524.2" r="7.5" fill="#bbbbbb" fill-opacity="0.5" stroke="#fff" stroke-opacity="0.55" stroke-width="1.5"/>
<circle cx="1208.7" cy="528.7" r="7.5" fill="#bbbbbb" fill-opacity="0.5" stroke="#fff" stroke-opacity="0.55" stroke-width="1.5"/>
<circle cx="1251.1" cy="519.8" r="7.5" fill="#bbbbbb" fill-opacity="0.5" stroke="#fff" stroke-opacity="0.55" stroke-width="1.5"/>
<circle cx="1252.1" cy="529.6" r="7.5" fill="#bbbbbb" fill-opacity="0.5" stroke="#fff" stroke-opacity="0.55" stroke-width="1.5"/>
<circle cx="1268.9" cy="526.2" r="7.5" fill="#bbbbbb" fill-opacity="0.5" stroke="#fff" stroke-opacity="0.55" stroke-width="1.5"/>
<circle cx="1274.9" cy="526.7" r="7.5" fill="#bbbbbb" fill-opacity="0.5" stroke="#fff" stroke-opacity="0.55" stroke-width="1.5"/>
<circle cx="1277.3" cy="520.7" r="7.5" fill="#bbbbbb" fill-opacity="0.5" stroke="#fff" stroke-opacity="0.55" stroke-width="1.5"/>
<circle cx="1219.5" cy="543.5" r="7.5" fill="#bbbbbb" fill-opacity="0.5" stroke="#fff" stroke-opacity="0.55" stroke-width="1.5"/>
<circle cx="1230.4" cy="542.5" r="7.5" fill="#bbbbbb" fill-opacity="0.5" stroke="#fff" stroke-opacity="0.55" stroke-width="1.5"/>
<circle cx="1243.2" cy="543.5" r="7.5" fill="#bbbbbb" fill-opacity="0.5" stroke="#fff" stroke-opacity="0.55" stroke-width="1.5"/>
<circle cx="1267.4" cy="543.5" r="7.5" fill="#bbbbbb" fill-opacity="0.5" stroke="#fff" stroke-opacity="0.55" stroke-width="1.5"/>
<circle cx="1198.8" cy="549.4" r="7.5" fill="#bbbbbb" fill-opacity="0.5" stroke="#fff" stroke-opacity="0.55" stroke-width="1.5"/>
<circle cx="1206.7" cy="555.3" r="7.5" fill="#bbbbbb" fill-opacity="0.5" stroke="#fff" stroke-opacity="0.55" stroke-width="1.5"/>
<circle cx="1215.6" cy="555.3" r="7.5" fill="#bbbbbb" fill-opacity="0.5" stroke="#fff" stroke-opacity="0.55" stroke-width="1.5"/>
<circle cx="1221.5" cy="553.8" r="7.5" fill="#bbbbbb" fill-opacity="0.5" stroke="#fff" stroke-opacity="0.55" stroke-width="1.5"/>
<circle cx="1238.3" cy="553.4" r="7.5" fill="#bbbbbb" fill-opacity="0.5" stroke="#fff" stroke-opacity="0.55" stroke-width="1.5"/>
<circle cx="1204.7" cy="571.1" r="7.5" fill="#bbbbbb" fill-opacity="0.5" stroke="#fff" stroke-opacity="0.55" stroke-width="1.5"/>
<circle cx="1230.4" cy="574.1" r="7.5" fill="#bbbbbb" fill-opacity="0.5" stroke="#fff" stroke-opacity="0.55" stroke-width="1.5"/>
<circle cx="1243.2" cy="566.2" r="7.5" fill="#bbbbbb" fill-opacity="0.5" stroke="#fff" stroke-opacity="0.55" stroke-width="1.5"/>
<circle cx="1252.1" cy="575.1" r="7.5" fill="#bbbbbb" fill-opacity="0.5" stroke="#fff" stroke-opacity="0.55" stroke-width="1.5"/>
<circle cx="1266.9" cy="581.0" r="7.5" fill="#bbbbbb" fill-opacity="0.5" stroke="#fff" stroke-opacity="0.55" stroke-width="1.5"/>
<circle cx="1257.1" cy="584.0" r="7.5" fill="#bbbbbb" fill-opacity="0.5" stroke="#fff" stroke-opacity="0.55" stroke-width="1.5"/>
<circle cx="1282.8" cy="566.2" r="7.5" fill="#bbbbbb" fill-opacity="0.5" stroke="#fff" stroke-opacity="0.55" stroke-width="1.5"/>
<circle cx="1289.2" cy="558.8" r="7.5" fill="#bbbbbb" fill-opacity="0.5" stroke="#fff" stroke-opacity="0.55" stroke-width="1.5"/>
<circle cx="1269.9" cy="567.2" r="7.5" fill="#bbbbbb" fill-opacity="0.5" stroke="#fff" stroke-opacity="0.55" stroke-width="1.5"/>
<circle cx="1201.7" cy="585.0" r="7.5" fill="#bbbbbb" fill-opacity="0.5" stroke="#fff" stroke-opacity="0.55" stroke-width="1.5"/>
<circle cx="1217.5" cy="585.0" r="7.5" fill="#bbbbbb" fill-opacity="0.5" stroke="#fff" stroke-opacity="0.55" stroke-width="1.5"/>
<circle cx="1189.4" cy="592.9" r="7.5" fill="#bbbbbb" fill-opacity="0.5" stroke="#fff" stroke-opacity="0.55" stroke-width="1.5"/>
<circle cx="1231.4" cy="592.9" r="7.5" fill="#bbbbbb" fill-opacity="0.5" stroke="#fff" stroke-opacity="0.55" stroke-width="1.5"/>
<circle cx="1285.7" cy="595.8" r="7.5" fill="#bbbbbb" fill-opacity="0.5" stroke="#fff" stroke-opacity="0.55" stroke-width="1.5"/>
<circle cx="1266.9" cy="598.8" r="7.5" fill="#bbbbbb" fill-opacity="0.5" stroke="#fff" stroke-opacity="0.55" stroke-width="1.5"/>
<circle cx="1272.9" cy="601.8" r="7.5" fill="#bbbbbb" fill-opacity="0.5" stroke="#fff" stroke-opacity="0.55" stroke-width="1.5"/>
<circle cx="1220.5" cy="601.8" r="7.5" fill="#bbbbbb" fill-opacity="0.5" stroke="#fff" stroke-opacity="0.55" stroke-width="1.5"/>
<circle cx="1252.1" cy="599.8" r="7.5" fill="#bbbbbb" fill-opacity="0.5" stroke="#fff" stroke-opacity="0.55" stroke-width="1.5"/>
<circle cx="1221.5" cy="609.7" r="7.5" fill="#bbbbbb" fill-opacity="0.5" stroke="#fff" stroke-opacity="0.55" stroke-width="1.5"/>
<circle cx="1235.3" cy="603.7" r="7.5" fill="#bbbbbb" fill-opacity="0.5" stroke="#fff" stroke-opacity="0.55" stroke-width="1.5"/>
<circle cx="1256.1" cy="615.6" r="7.5" fill="#bbbbbb" fill-opacity="0.5" stroke="#fff" stroke-opacity="0.55" stroke-width="1.5"/>
<circle cx="1261.0" cy="607.7" r="7.5" fill="#bbbbbb" fill-opacity="0.5" stroke="#fff" stroke-opacity="0.55" stroke-width="1.5"/>
<circle cx="1298.1" cy="611.6" r="7.5" fill="#bbbbbb" fill-opacity="0.5" stroke="#fff" stroke-opacity="0.55" stroke-width="1.5"/>
<circle cx="1298.1" cy="617.6" r="7.5" fill="#bbbbbb" fill-opacity="0.5" stroke="#fff" stroke-opacity="0.55" stroke-width="1.5"/>
<circle cx="1249.2" cy="608.7" r="7.5" fill="#bbbbbb" fill-opacity="0.5" stroke="#fff" stroke-opacity="0.55" stroke-width="1.5"/>
<circle cx="1217.5" cy="623.5" r="7.5" fill="#bbbbbb" fill-opacity="0.5" stroke="#fff" stroke-opacity="0.55" stroke-width="1.5"/>
<circle cx="1228.4" cy="622.5" r="7.5" fill="#bbbbbb" fill-opacity="0.5" stroke="#fff" stroke-opacity="0.55" stroke-width="1.5"/>
<circle cx="1271.9" cy="623.5" r="7.5" fill="#bbbbbb" fill-opacity="0.5" stroke="#fff" stroke-opacity="0.55" stroke-width="1.5"/>
<circle cx="1279.8" cy="623.5" r="7.5" fill="#bbbbbb" fill-opacity="0.5" stroke="#fff" stroke-opacity="0.55" stroke-width="1.5"/>
<circle cx="1302.5" cy="623.5" r="7.5" fill="#bbbbbb" fill-opacity="0.5" stroke="#fff" stroke-opacity="0.55" stroke-width="1.5"/>
<circle cx="1219.1" cy="546.4" r="7.5" fill="#bbbbbb" fill-opacity="0.5" stroke="#fff" stroke-opacity="0.55" stroke-width="1.5"/>
<circle cx="1228.2" cy="545.2" r="7.5" fill="#bbbbbb" fill-opacity="0.5" stroke="#fff" stroke-opacity="0.55" stroke-width="1.5"/>
<circle cx="1225.0" cy="549.9" r="7.5" fill="#bbbbbb" fill-opacity="0.5" stroke="#fff" stroke-opacity="0.55" stroke-width="1.5"/>
<circle cx="1211.6" cy="552.1" r="7.5" fill="#bbbbbb" fill-opacity="0.5" stroke="#fff" stroke-opacity="0.55" stroke-width="1.5"/>
<circle cx="1211.0" cy="550.9" r="7.5" fill="#bbbbbb" fill-opacity="0.5" stroke="#fff" stroke-opacity="0.55" stroke-width="1.5"/>
<circle cx="1212.0" cy="545.5" r="7.5" fill="#bbbbbb" fill-opacity="0.5" stroke="#fff" stroke-opacity="0.55" stroke-width="1.5"/>
<circle cx="1221.9" cy="557.2" r="7.5" fill="#bbbbbb" fill-opacity="0.5" stroke="#fff" stroke-opacity="0.55" stroke-width="1.5"/>
<circle cx="1213.5" cy="547.6" r="7.5" fill="#bbbbbb" fill-opacity="0.5" stroke="#fff" stroke-opacity="0.55" stroke-width="1.5"/>
<circle cx="1227.6" cy="559.2" r="7.5" fill="#bbbbbb" fill-opacity="0.5" stroke="#fff" stroke-opacity="0.55" stroke-width="1.5"/>
<circle cx="1226.2" cy="550.3" r="7.5" fill="#bbbbbb" fill-opacity="0.5" stroke="#fff" stroke-opacity="0.55" stroke-width="1.5"/>
<circle cx="1265.5" cy="570.7" r="7.5" fill="#bbbbbb" fill-opacity="0.5" stroke="#fff" stroke-opacity="0.55" stroke-width="1.5"/>
<circle cx="1263.2" cy="574.6" r="7.5" fill="#bbbbbb" fill-opacity="0.5" stroke="#fff" stroke-opacity="0.55" stroke-width="1.5"/>
<circle cx="1248.9" cy="571.9" r="7.5" fill="#bbbbbb" fill-opacity="0.5" stroke="#fff" stroke-opacity="0.55" stroke-width="1.5"/>
<circle cx="1252.2" cy="583.1" r="7.5" fill="#bbbbbb" fill-opacity="0.5" stroke="#fff" stroke-opacity="0.55" stroke-width="1.5"/>
<circle cx="1249.6" cy="579.3" r="7.5" fill="#bbbbbb" fill-opacity="0.5" stroke="#fff" stroke-opacity="0.55" stroke-width="1.5"/>
<circle cx="1258.8" cy="576.0" r="7.5" fill="#bbbbbb" fill-opacity="0.5" stroke="#fff" stroke-opacity="0.55" stroke-width="1.5"/>
<circle cx="1257.0" cy="571.0" r="7.5" fill="#bbbbbb" fill-opacity="0.5" stroke="#fff" stroke-opacity="0.55" stroke-width="1.5"/>
<circle cx="1247.2" cy="573.3" r="7.5" fill="#bbbbbb" fill-opacity="0.5" stroke="#fff" stroke-opacity="0.55" stroke-width="1.5"/>
<circle cx="1229.3" cy="587.1" r="7.5" fill="#bbbbbb" fill-opacity="0.5" stroke="#fff" stroke-opacity="0.55" stroke-width="1.5"/>
<circle cx="1220.5" cy="589.0" r="7.5" fill="#bbbbbb" fill-opacity="0.5" stroke="#fff" stroke-opacity="0.55" stroke-width="1.5"/>
<circle cx="1223.9" cy="585.6" r="7.5" fill="#bbbbbb" fill-opacity="0.5" stroke="#fff" stroke-opacity="0.55" stroke-width="1.5"/>
<circle cx="1232.1" cy="590.4" r="7.5" fill="#bbbbbb" fill-opacity="0.5" stroke="#fff" stroke-opacity="0.55" stroke-width="1.5"/>
<circle cx="1218.9" cy="588.9" r="7.5" fill="#bbbbbb" fill-opacity="0.5" stroke="#fff" stroke-opacity="0.55" stroke-width="1.5"/>
<circle cx="1225.6" cy="592.5" r="7.5" fill="#bbbbbb" fill-opacity="0.5" stroke="#fff" stroke-opacity="0.55" stroke-width="1.5"/>
<circle cx="1265.7" cy="529.9" r="7.5" fill="#bbbbbb" fill-opacity="0.5" stroke="#fff" stroke-opacity="0.55" stroke-width="1.5"/>
<circle cx="1269.7" cy="528.2" r="7.5" fill="#bbbbbb" fill-opacity="0.5" stroke="#fff" stroke-opacity="0.55" stroke-width="1.5"/>
<circle cx="1260.7" cy="534.6" r="7.5" fill="#bbbbbb" fill-opacity="0.5" stroke="#fff" stroke-opacity="0.55" stroke-width="1.5"/>
<circle cx="1256.4" cy="531.9" r="7.5" fill="#bbbbbb" fill-opacity="0.5" stroke="#fff" stroke-opacity="0.55" stroke-width="1.5"/>
<circle cx="1202.6" cy="602.0" r="7.5" fill="#bbbbbb" fill-opacity="0.5" stroke="#fff" stroke-opacity="0.55" stroke-width="1.5"/>
<circle cx="1214.2" cy="600.9" r="7.5" fill="#bbbbbb" fill-opacity="0.5" stroke="#fff" stroke-opacity="0.55" stroke-width="1.5"/>
<circle cx="1216.0" cy="597.8" r="7.5" fill="#bbbbbb" fill-opacity="0.5" stroke="#fff" stroke-opacity="0.55" stroke-width="1.5"/>
<circle cx="1149.3" cy="329.8" r="7.5" fill="#1e1e1e" fill-opacity="0.5" stroke="#fff" stroke-opacity="0.55" stroke-width="1.5"/>
<circle cx="1112.1" cy="378.7" r="7.5" fill="#1e1e1e" fill-opacity="0.5" stroke="#fff" stroke-opacity="0.55" stroke-width="1.5"/>
<circle cx="1123.5" cy="374.1" r="7.5" fill="#1e1e1e" fill-opacity="0.5" stroke="#fff" stroke-opacity="0.55" stroke-width="1.5"/>
<circle cx="878.7" cy="395.8" r="7.5" fill="#1e1e1e" fill-opacity="0.5" stroke="#fff" stroke-opacity="0.55" stroke-width="1.5"/>
<circle cx="921.6" cy="402.6" r="7.5" fill="#1e1e1e" fill-opacity="0.5" stroke="#fff" stroke-opacity="0.55" stroke-width="1.5"/>
<circle cx="920.8" cy="412.1" r="7.5" fill="#1e1e1e" fill-opacity="0.5" stroke="#fff" stroke-opacity="0.55" stroke-width="1.5"/>
<circle cx="950.1" cy="399.3" r="7.5" fill="#1e1e1e" fill-opacity="0.5" stroke="#fff" stroke-opacity="0.55" stroke-width="1.5"/>
<circle cx="1241.5" cy="248.4" r="7.5" fill="#1e1e1e" fill-opacity="0.5" stroke="#fff" stroke-opacity="0.55" stroke-width="1.5"/>
<circle cx="1223.2" cy="315.3" r="7.5" fill="#1e1e1e" fill-opacity="0.5" stroke="#fff" stroke-opacity="0.55" stroke-width="1.5"/>
<circle cx="1202.4" cy="340.9" r="7.5" fill="#1e1e1e" fill-opacity="0.5" stroke="#fff" stroke-opacity="0.55" stroke-width="1.5"/>
<circle cx="1254.4" cy="354.2" r="7.5" fill="#1e1e1e" fill-opacity="0.5" stroke="#fff" stroke-opacity="0.55" stroke-width="1.5"/>
<circle cx="1290.6" cy="349.7" r="7.5" fill="#1e1e1e" fill-opacity="0.5" stroke="#fff" stroke-opacity="0.55" stroke-width="1.5"/>
<circle cx="1235.9" cy="406.7" r="7.5" fill="#1e1e1e" fill-opacity="0.5" stroke="#fff" stroke-opacity="0.55" stroke-width="1.5"/>
<circle cx="1313.2" cy="407.3" r="7.5" fill="#1e1e1e" fill-opacity="0.5" stroke="#fff" stroke-opacity="0.55" stroke-width="1.5"/>
<circle cx="1279.7" cy="420.6" r="7.5" fill="#1e1e1e" fill-opacity="0.5" stroke="#fff" stroke-opacity="0.55" stroke-width="1.5"/>
<circle cx="880.1" cy="518.6" r="7.5" fill="#1e1e1e" fill-opacity="0.5" stroke="#fff" stroke-opacity="0.55" stroke-width="1.5"/>
<circle cx="891.7" cy="463.2" r="7.5" fill="#1e1e1e" fill-opacity="0.5" stroke="#fff" stroke-opacity="0.55" stroke-width="1.5"/>
<circle cx="884.7" cy="557.4" r="7.5" fill="#1e1e1e" fill-opacity="0.5" stroke="#fff" stroke-opacity="0.55" stroke-width="1.5"/>
<circle cx="883.6" cy="608.1" r="7.5" fill="#1e1e1e" fill-opacity="0.5" stroke="#fff" stroke-opacity="0.55" stroke-width="1.5"/>
<circle cx="878.7" cy="624.7" r="7.5" fill="#1e1e1e" fill-opacity="0.5" stroke="#fff" stroke-opacity="0.55" stroke-width="1.5"/>
<circle cx="889.6" cy="625.2" r="7.5" fill="#1e1e1e" fill-opacity="0.5" stroke="#fff" stroke-opacity="0.55" stroke-width="1.5"/>
<circle cx="920.8" cy="625.2" r="7.5" fill="#1e1e1e" fill-opacity="0.5" stroke="#fff" stroke-opacity="0.55" stroke-width="1.5"/>
<circle cx="992.7" cy="449.7" r="7.5" fill="#1e1e1e" fill-opacity="0.5" stroke="#fff" stroke-opacity="0.55" stroke-width="1.5"/>
<circle cx="1002.2" cy="493.6" r="7.5" fill="#1e1e1e" fill-opacity="0.5" stroke="#fff" stroke-opacity="0.55" stroke-width="1.5"/>
<circle cx="946.5" cy="589.1" r="7.5" fill="#1e1e1e" fill-opacity="0.5" stroke="#fff" stroke-opacity="0.55" stroke-width="1.5"/>
<circle cx="948.4" cy="562.0" r="7.5" fill="#1e1e1e" fill-opacity="0.5" stroke="#fff" stroke-opacity="0.55" stroke-width="1.5"/>
<circle cx="985.9" cy="625.2" r="7.5" fill="#1e1e1e" fill-opacity="0.5" stroke="#fff" stroke-opacity="0.55" stroke-width="1.5"/>
<circle cx="1030.1" cy="438.0" r="7.5" fill="#1e1e1e" fill-opacity="0.5" stroke="#fff" stroke-opacity="0.55" stroke-width="1.5"/>
<circle cx="1038.3" cy="466.5" r="7.5" fill="#1e1e1e" fill-opacity="0.5" stroke="#fff" stroke-opacity="0.55" stroke-width="1.5"/>
<circle cx="1030.7" cy="480.9" r="7.5" fill="#1e1e1e" fill-opacity="0.5" stroke="#fff" stroke-opacity="0.55" stroke-width="1.5"/>
<circle cx="1032.0" cy="526.2" r="7.5" fill="#1e1e1e" fill-opacity="0.5" stroke="#fff" stroke-opacity="0.55" stroke-width="1.5"/>
<circle cx="1032.8" cy="546.5" r="7.5" fill="#1e1e1e" fill-opacity="0.5" stroke="#fff" stroke-opacity="0.55" stroke-width="1.5"/>
<circle cx="1052.4" cy="556.0" r="7.5" fill="#1e1e1e" fill-opacity="0.5" stroke="#fff" stroke-opacity="0.55" stroke-width="1.5"/>
<circle cx="1053.7" cy="440.2" r="7.5" fill="#1e1e1e" fill-opacity="0.5" stroke="#fff" stroke-opacity="0.55" stroke-width="1.5"/>
<circle cx="1056.4" cy="433.1" r="7.5" fill="#1e1e1e" fill-opacity="0.5" stroke="#fff" stroke-opacity="0.55" stroke-width="1.5"/>
<circle cx="1055.2" cy="436.8" r="7.5" fill="#1e1e1e" fill-opacity="0.5" stroke="#fff" stroke-opacity="0.55" stroke-width="1.5"/>
<circle cx="1065.9" cy="471.9" r="7.5" fill="#1e1e1e" fill-opacity="0.5" stroke="#fff" stroke-opacity="0.55" stroke-width="1.5"/>
<circle cx="1074.1" cy="522.9" r="7.5" fill="#1e1e1e" fill-opacity="0.5" stroke="#fff" stroke-opacity="0.55" stroke-width="1.5"/>
<circle cx="1101.2" cy="526.7" r="7.5" fill="#1e1e1e" fill-opacity="0.5" stroke="#fff" stroke-opacity="0.55" stroke-width="1.5"/>
<circle cx="1095.8" cy="549.3" r="7.5" fill="#1e1e1e" fill-opacity="0.5" stroke="#fff" stroke-opacity="0.55" stroke-width="1.5"/>
<circle cx="1110.7" cy="537.0" r="7.5" fill="#1e1e1e" fill-opacity="0.5" stroke="#fff" stroke-opacity="0.55" stroke-width="1.5"/>
<circle cx="1111.5" cy="552.0" r="7.5" fill="#1e1e1e" fill-opacity="0.5" stroke="#fff" stroke-opacity="0.55" stroke-width="1.5"/>
<circle cx="1111.3" cy="501.8" r="7.5" fill="#1e1e1e" fill-opacity="0.5" stroke="#fff" stroke-opacity="0.55" stroke-width="1.5"/>
<circle cx="1122.9" cy="543.8" r="7.5" fill="#1e1e1e" fill-opacity="0.5" stroke="#fff" stroke-opacity="0.55" stroke-width="1.5"/>
<circle cx="1127.0" cy="451.6" r="7.5" fill="#1e1e1e" fill-opacity="0.5" stroke="#fff" stroke-opacity="0.55" stroke-width="1.5"/>
<circle cx="1131.6" cy="442.9" r="7.5" fill="#1e1e1e" fill-opacity="0.5" stroke="#fff" stroke-opacity="0.55" stroke-width="1.5"/>
<circle cx="1139.2" cy="550.6" r="7.5" fill="#1e1e1e" fill-opacity="0.5" stroke="#fff" stroke-opacity="0.55" stroke-width="1.5"/>
<circle cx="1136.5" cy="564.7" r="7.5" fill="#1e1e1e" fill-opacity="0.5" stroke="#fff" stroke-opacity="0.55" stroke-width="1.5"/>
<circle cx="1154.1" cy="584.0" r="7.5" fill="#1e1e1e" fill-opacity="0.5" stroke="#fff" stroke-opacity="0.55" stroke-width="1.5"/>
<circle cx="1163.6" cy="586.7" r="7.5" fill="#1e1e1e" fill-opacity="0.5" stroke="#fff" stroke-opacity="0.55" stroke-width="1.5"/>
<circle cx="1155.5" cy="560.1" r="7.5" fill="#1e1e1e" fill-opacity="0.5" stroke="#fff" stroke-opacity="0.55" stroke-width="1.5"/>
<circle cx="1165.0" cy="570.4" r="7.5" fill="#1e1e1e" fill-opacity="0.5" stroke="#fff" stroke-opacity="0.55" stroke-width="1.5"/>
<circle cx="1171.2" cy="545.7" r="7.5" fill="#1e1e1e" fill-opacity="0.5" stroke="#fff" stroke-opacity="0.55" stroke-width="1.5"/>
<circle cx="1177.7" cy="560.1" r="7.5" fill="#1e1e1e" fill-opacity="0.5" stroke="#fff" stroke-opacity="0.55" stroke-width="1.5"/>
<circle cx="1179.9" cy="568.2" r="7.5" fill="#1e1e1e" fill-opacity="0.5" stroke="#fff" stroke-opacity="0.55" stroke-width="1.5"/>
<circle cx="1156.8" cy="492.3" r="7.5" fill="#1e1e1e" fill-opacity="0.5" stroke="#fff" stroke-opacity="0.55" stroke-width="1.5"/>
<circle cx="1159.6" cy="490.4" r="7.5" fill="#1e1e1e" fill-opacity="0.5" stroke="#fff" stroke-opacity="0.55" stroke-width="1.5"/>
<circle cx="1170.4" cy="442.1" r="7.5" fill="#1e1e1e" fill-opacity="0.5" stroke="#fff" stroke-opacity="0.55" stroke-width="1.5"/>
<circle cx="1174.5" cy="442.1" r="7.5" fill="#1e1e1e" fill-opacity="0.5" stroke="#fff" stroke-opacity="0.55" stroke-width="1.5"/>
<circle cx="1152.8" cy="625.2" r="7.5" fill="#1e1e1e" fill-opacity="0.5" stroke="#fff" stroke-opacity="0.55" stroke-width="1.5"/>
<circle cx="1182.0" cy="565.2" r="7.5" fill="#1e1e1e" fill-opacity="0.5" stroke="#fff" stroke-opacity="0.55" stroke-width="1.5"/>
<circle cx="1244.6" cy="438.0" r="7.5" fill="#1e1e1e" fill-opacity="0.5" stroke="#fff" stroke-opacity="0.55" stroke-width="1.5"/>
<circle cx="1240.3" cy="450.9" r="7.5" fill="#1e1e1e" fill-opacity="0.5" stroke="#fff" stroke-opacity="0.55" stroke-width="1.5"/>
<circle cx="1247.4" cy="459.4" r="7.5" fill="#1e1e1e" fill-opacity="0.5" stroke="#fff" stroke-opacity="0.55" stroke-width="1.5"/>
<circle cx="1278.8" cy="453.7" r="7.5" fill="#1e1e1e" fill-opacity="0.5" stroke="#fff" stroke-opacity="0.55" stroke-width="1.5"/>
<circle cx="1190.4" cy="477.9" r="7.5" fill="#1e1e1e" fill-opacity="0.5" stroke="#fff" stroke-opacity="0.55" stroke-width="1.5"/>
<circle cx="1195.2" cy="479.8" r="7.5" fill="#1e1e1e" fill-opacity="0.5" stroke="#fff" stroke-opacity="0.55" stroke-width="1.5"/>
<circle cx="1207.5" cy="496.9" r="7.5" fill="#1e1e1e" fill-opacity="0.5" stroke="#fff" stroke-opacity="0.55" stroke-width="1.5"/>
<circle cx="1232.2" cy="493.1" r="7.5" fill="#1e1e1e" fill-opacity="0.5" stroke="#fff" stroke-opacity="0.55" stroke-width="1.5"/>
<circle cx="1268.3" cy="487.4" r="7.5" fill="#1e1e1e" fill-opacity="0.5" stroke="#fff" stroke-opacity="0.55" stroke-width="1.5"/>
<circle cx="1266.4" cy="496.9" r="7.5" fill="#1e1e1e" fill-opacity="0.5" stroke="#fff" stroke-opacity="0.55" stroke-width="1.5"/>
<circle cx="1256.9" cy="508.8" r="7.5" fill="#1e1e1e" fill-opacity="0.5" stroke="#fff" stroke-opacity="0.55" stroke-width="1.5"/>
<circle cx="1267.4" cy="511.7" r="7.5" fill="#1e1e1e" fill-opacity="0.5" stroke="#fff" stroke-opacity="0.55" stroke-width="1.5"/>
<circle cx="1201.4" cy="514.0" r="7.5" fill="#1e1e1e" fill-opacity="0.5" stroke="#fff" stroke-opacity="0.55" stroke-width="1.5"/>
<circle cx="1288.7" cy="515.9" r="7.5" fill="#1e1e1e" fill-opacity="0.5" stroke="#fff" stroke-opacity="0.55" stroke-width="1.5"/>
<circle cx="1247.2" cy="525.2" r="7.5" fill="#1e1e1e" fill-opacity="0.5" stroke="#fff" stroke-opacity="0.55" stroke-width="1.5"/>
<circle cx="1207.7" cy="536.6" r="7.5" fill="#1e1e1e" fill-opacity="0.5" stroke="#fff" stroke-opacity="0.55" stroke-width="1.5"/>
<circle cx="1254.6" cy="541.0" r="7.5" fill="#1e1e1e" fill-opacity="0.5" stroke="#fff" stroke-opacity="0.55" stroke-width="1.5"/>
<circle cx="1254.6" cy="552.4" r="7.5" fill="#1e1e1e" fill-opacity="0.5" stroke="#fff" stroke-opacity="0.55" stroke-width="1.5"/>
<circle cx="1234.8" cy="558.3" r="7.5" fill="#1e1e1e" fill-opacity="0.5" stroke="#fff" stroke-opacity="0.55" stroke-width="1.5"/>
<circle cx="1264.0" cy="566.7" r="7.5" fill="#1e1e1e" fill-opacity="0.5" stroke="#fff" stroke-opacity="0.55" stroke-width="1.5"/>
<circle cx="1208.7" cy="573.1" r="7.5" fill="#1e1e1e" fill-opacity="0.5" stroke="#fff" stroke-opacity="0.55" stroke-width="1.5"/>
<circle cx="1220.5" cy="574.6" r="7.5" fill="#1e1e1e" fill-opacity="0.5" stroke="#fff" stroke-opacity="0.55" stroke-width="1.5"/>
<circle cx="1239.8" cy="581.0" r="7.5" fill="#1e1e1e" fill-opacity="0.5" stroke="#fff" stroke-opacity="0.55" stroke-width="1.5"/>
<circle cx="1244.2" cy="599.8" r="7.5" fill="#1e1e1e" fill-opacity="0.5" stroke="#fff" stroke-opacity="0.55" stroke-width="1.5"/>
<circle cx="1240.3" cy="601.8" r="7.5" fill="#1e1e1e" fill-opacity="0.5" stroke="#fff" stroke-opacity="0.55" stroke-width="1.5"/>
<circle cx="1192.4" cy="623.5" r="7.5" fill="#1e1e1e" fill-opacity="0.5" stroke="#fff" stroke-opacity="0.55" stroke-width="1.5"/>
<circle cx="1239.3" cy="623.5" r="7.5" fill="#1e1e1e" fill-opacity="0.5" stroke="#fff" stroke-opacity="0.55" stroke-width="1.5"/>
<circle cx="1261.0" cy="623.5" r="7.5" fill="#1e1e1e" fill-opacity="0.5" stroke="#fff" stroke-opacity="0.55" stroke-width="1.5"/>
<circle cx="1292.1" cy="623.5" r="7.5" fill="#1e1e1e" fill-opacity="0.5" stroke="#fff" stroke-opacity="0.55" stroke-width="1.5"/>
<circle cx="1315.4" cy="623.5" r="7.5" fill="#1e1e1e" fill-opacity="0.5" stroke="#fff" stroke-opacity="0.55" stroke-width="1.5"/>
<circle cx="1334.2" cy="623.1" r="7.5" fill="#1e1e1e" fill-opacity="0.5" stroke="#fff" stroke-opacity="0.55" stroke-width="1.5"/>
<circle cx="1348.2" cy="495.6" r="7.5" fill="#1e1e1e" fill-opacity="0.5" stroke="#fff" stroke-opacity="0.55" stroke-width="1.5"/>
<circle cx="1188.5" cy="478.5" r="7.5" fill="#1e1e1e" fill-opacity="0.5" stroke="#fff" stroke-opacity="0.55" stroke-width="1.5"/>
</g>
<line x1="877.90" y1="118.60" x2="877.90" y2="626.90" stroke="#000" stroke-width="2.2"/>
<line x1="876.80" y1="625.80" x2="1372.70" y2="625.80" stroke="#000" stroke-width="2.2"/>
<line x1="867.80" y1="625.80" x2="877.90" y2="625.80" stroke="#000" stroke-width="1.6"/>
<text x="858.30" y="633.20" font-size="21" text-anchor="end" fill="#000">0</text>
<line x1="867.80" y1="562.00" x2="877.90" y2="562.00" stroke="#000" stroke-width="1.6"/>
<text x="858.30" y="569.40" font-size="21" text-anchor="end" fill="#000">1</text>
<line x1="867.80" y1="498.20" x2="877.90" y2="498.20" stroke="#000" stroke-width="1.6"/>
<text x="858.30" y="505.60" font-size="21" text-anchor="end" fill="#000">2</text>
<line x1="867.80" y1="434.40" x2="877.90" y2="434.40" stroke="#000" stroke-width="1.6"/>
<text x="858.30" y="441.80" font-size="21" text-anchor="end" fill="#000">3</text>
<line x1="867.80" y1="370.60" x2="877.90" y2="370.60" stroke="#000" stroke-width="1.6"/>
<text x="858.30" y="378.00" font-size="21" text-anchor="end" fill="#000">4</text>
<line x1="867.80" y1="306.80" x2="877.90" y2="306.80" stroke="#000" stroke-width="1.6"/>
<text x="858.30" y="314.20" font-size="21" text-anchor="end" fill="#000">5</text>
<line x1="867.80" y1="243.00" x2="877.90" y2="243.00" stroke="#000" stroke-width="1.6"/>
<text x="858.30" y="250.40" font-size="21" text-anchor="end" fill="#000">6</text>
<line x1="867.80" y1="179.20" x2="877.90" y2="179.20" stroke="#000" stroke-width="1.6"/>
<text x="858.30" y="186.60" font-size="21" text-anchor="end" fill="#000">7</text>
<line x1="877.90" y1="625.80" x2="877.90" y2="631.00" stroke="#000" stroke-width="1.6"/>
<text x="877.90" y="656.60" font-size="21" text-anchor="middle" fill="#000">0.0</text>
<line x1="952.55" y1="625.80" x2="952.55" y2="631.00" stroke="#000" stroke-width="1.6"/>
<text x="952.55" y="656.60" font-size="21" text-anchor="middle" fill="#000">0.5</text>
<line x1="1027.20" y1="625.80" x2="1027.20" y2="631.00" stroke="#000" stroke-width="1.6"/>
<text x="1027.20" y="656.60" font-size="21" text-anchor="middle" fill="#000">1.0</text>
<line x1="1101.85" y1="625.80" x2="1101.85" y2="631.00" stroke="#000" stroke-width="1.6"/>
<text x="1101.85" y="656.60" font-size="21" text-anchor="middle" fill="#000">1.5</text>
<line x1="1176.50" y1="625.80" x2="1176.50" y2="631.00" stroke="#000" stroke-width="1.6"/>
<text x="1176.50" y="656.60" font-size="21" text-anchor="middle" fill="#000">2.0</text>
<line x1="1251.15" y1="625.80" x2="1251.15" y2="631.00" stroke="#000" stroke-width="1.6"/>
<text x="1251.15" y="656.60" font-size="21" text-anchor="middle" fill="#000">2.5</text>
<line x1="1325.80" y1="625.80" x2="1325.80" y2="631.00" stroke="#000" stroke-width="1.6"/>
<text x="1325.80" y="656.60" font-size="21" text-anchor="middle" fill="#000">3.0</text>
<text x="830.30" y="371.20" font-size="31.5" text-anchor="middle" fill="#000" textLength="377.7" lengthAdjust="spacingAndGlyphs" transform="rotate(-90 830.30 371.20)">Size-normalized SMETANA</text>
<text x="1124.90" y="694.20" font-size="31.5" text-anchor="middle" fill="#000" textLength="258.2" lengthAdjust="spacingAndGlyphs">Mean pairwise PD</text>
<text x="793.50" y="39.80" font-size="49" text-anchor="start" fill="#000">b</text>
<path d="M877.90,100.70 L877.90,93.74 L878.90,93.76 L879.90,93.77 L880.90,93.78 L881.90,93.79 L882.90,93.80 L883.90,93.82 L884.90,93.83 L885.90,93.84 L886.90,93.85 L887.90,93.86 L888.90,93.87 L889.90,93.88 L890.90,93.89 L891.90,93.90 L892.90,93.91 L893.90,93.91 L894.90,93.92 L895.90,93.93 L896.90,93.94 L897.90,93.94 L898.90,93.95 L899.90,93.95 L900.90,93.96 L901.90,93.96 L902.90,93.97 L903.90,93.97 L904.90,93.98 L905.90,93.98 L906.90,93.98 L907.90,93.99 L908.90,93.99 L909.90,93.99 L910.90,93.99 L911.90,93.99 L912.90,93.99 L913.90,93.99 L914.90,93.99 L915.90,93.99 L916.90,93.99 L917.90,93.99 L918.90,93.99 L919.90,93.99 L920.90,93.99 L921.90,93.98 L922.90,93.98 L923.90,93.98 L924.90,93.97 L925.90,93.97 L926.90,93.96 L927.90,93.96 L928.90,93.95 L929.90,93.94 L930.90,93.94 L931.90,93.93 L932.90,93.92 L933.90,93.91 L934.90,93.90 L935.90,93.90 L936.90,93.89 L937.90,93.88 L938.90,93.87 L939.90,93.85 L940.90,93.84 L941.90,93.83 L942.90,93.82 L943.90,93.81 L944.90,93.79 L945.90,93.78 L946.90,93.77 L947.90,93.75 L948.90,93.74 L949.90,93.72 L950.90,93.70 L951.90,93.69 L952.90,93.67 L953.90,93.65 L954.90,93.64 L955.90,93.62 L956.90,93.60 L957.90,93.58 L958.90,93.56 L959.90,93.54 L960.90,93.52 L961.90,93.50 L962.90,93.48 L963.90,93.45 L964.90,93.43 L965.90,93.41 L966.90,93.38 L967.90,93.36 L968.90,93.33 L969.90,93.31 L970.90,93.28 L971.90,93.26 L972.90,93.23 L973.90,93.20 L974.90,93.17 L975.90,93.14 L976.90,93.12 L977.90,93.09 L978.90,93.06 L979.90,93.03 L980.90,92.99 L981.90,92.96 L982.90,92.93 L983.90,92.90 L984.90,92.86 L985.90,92.83 L986.90,92.80 L987.90,92.76 L988.90,92.73 L989.90,92.69 L990.90,92.65 L991.90,92.62 L992.90,92.58 L993.90,92.54 L994.90,92.50 L995.90,92.46 L996.90,92.42 L997.90,92.38 L998.90,92.34 L999.90,92.30 L1000.90,92.26 L1001.90,92.21 L1002.90,92.17 L1003.90,92.13 L1004.90,92.08 L1005.90,92.04 L1006.90,91.99 L1007.90,91.94 L1008.90,91.90 L1009.90,91.85 L1010.90,91.80 L1011.90,91.75 L1012.90,91.70 L1013.90,91.65 L1014.90,91.60 L1015.90,91.55 L1016.90,91.50 L1017.90,91.45 L1018.90,91.40 L1019.90,91.34 L1020.90,91.29 L1021.90,91.23 L1022.90,91.18 L1023.90,91.12 L1024.90,91.07 L1025.90,91.01 L1026.90,90.95 L1027.90,90.89 L1028.90,90.83 L1029.90,90.77 L1030.90,90.71 L1031.90,90.65 L1032.90,90.59 L1033.90,90.53 L1034.90,90.47 L1035.90,90.40 L1036.90,90.34 L1037.90,90.27 L1038.90,90.21 L1039.90,90.14 L1040.90,90.08 L1041.90,90.01 L1042.90,89.94 L1043.90,89.87 L1044.90,89.80 L1045.90,89.73 L1046.90,89.66 L1047.90,89.59 L1048.90,89.52 L1049.90,89.45 L1050.90,89.37 L1051.90,89.30 L1052.90,89.23 L1053.90,89.15 L1054.90,89.08 L1055.90,89.00 L1056.90,88.93 L1057.90,88.85 L1058.90,88.77 L1059.90,88.69 L1060.90,88.62 L1061.90,88.54 L1062.90,88.46 L1063.90,88.38 L1064.90,88.30 L1065.90,88.22 L1066.90,88.14 L1067.90,88.06 L1068.90,87.98 L1069.90,87.90 L1070.90,87.82 L1071.90,87.74 L1072.90,87.66 L1073.90,87.57 L1074.90,87.49 L1075.90,87.41 L1076.90,87.33 L1077.90,87.24 L1078.90,87.16 L1079.90,87.08 L1080.90,87.00 L1081.90,86.91 L1082.90,86.83 L1083.90,86.74 L1084.90,86.66 L1085.90,86.58 L1086.90,86.49 L1087.90,86.41 L1088.90,86.33 L1089.90,86.24 L1090.90,86.16 L1091.90,86.07 L1092.90,85.99 L1093.90,85.91 L1094.90,85.82 L1095.90,85.74 L1096.90,85.66 L1097.90,85.57 L1098.90,85.49 L1099.90,85.40 L1100.90,85.32 L1101.90,85.24 L1102.90,85.16 L1103.90,85.07 L1104.90,84.99 L1105.90,84.91 L1106.90,84.83 L1107.90,84.74 L1108.90,84.66 L1109.90,84.58 L1110.90,84.50 L1111.90,84.42 L1112.90,84.34 L1113.90,84.26 L1114.90,84.18 L1115.90,84.10 L1116.90,84.02 L1117.90,83.94 L1118.90,83.86 L1119.90,83.79 L1120.90,83.71 L1121.90,83.63 L1122.90,83.56 L1123.90,83.48 L1124.90,83.40 L1125.90,83.33 L1126.90,83.25 L1127.90,83.18 L1128.90,83.11 L1129.90,83.03 L1130.90,82.96 L1131.90,82.89 L1132.90,82.82 L1133.90,82.75 L1134.90,82.68 L1135.90,82.61 L1136.90,82.54 L1137.90,82.47 L1138.90,82.40 L1139.90,82.34 L1140.90,82.27 L1141.90,82.20 L1142.90,82.14 L1143.90,82.08 L1144.90,82.01 L1145.90,81.95 L1146.90,81.89 L1147.90,81.83 L1148.90,81.77 L1149.90,81.71 L1150.90,81.65 L1151.90,81.59 L1152.90,81.53 L1153.90,81.48 L1154.90,81.42 L1155.90,81.37 L1156.90,81.32 L1157.90,81.26 L1158.90,81.21 L1159.90,81.16 L1160.90,81.11 L1161.90,81.07 L1162.90,81.02 L1163.90,80.97 L1164.90,80.93 L1165.90,80.88 L1166.90,80.84 L1167.90,80.80 L1168.90,80.76 L1169.90,80.72 L1170.90,80.68 L1171.90,80.64 L1172.90,80.60 L1173.90,80.57 L1174.90,80.53 L1175.90,80.50 L1176.90,80.47 L1177.90,80.43 L1178.90,80.40 L1179.90,80.38 L1180.90,80.35 L1181.90,80.32 L1182.90,80.30 L1183.90,80.27 L1184.90,80.25 L1185.90,80.23 L1186.90,80.21 L1187.90,80.19 L1188.90,80.17 L1189.90,80.15 L1190.90,80.14 L1191.90,80.12 L1192.90,80.11 L1193.90,80.10 L1194.90,80.09 L1195.90,80.08 L1196.90,80.07 L1197.90,80.07 L1198.90,80.06 L1199.90,80.06 L1200.90,80.06 L1201.90,80.05 L1202.90,80.06 L1203.90,80.06 L1204.90,80.06 L1205.90,80.07 L1206.90,80.07 L1207.90,80.08 L1208.90,80.09 L1209.90,80.10 L1210.90,80.11 L1211.90,80.12 L1212.90,80.14 L1213.90,80.16 L1214.90,80.17 L1215.90,80.19 L1216.90,80.21 L1217.90,80.24 L1218.90,80.26 L1219.90,80.29 L1220.90,80.31 L1221.90,80.34 L1222.90,80.37 L1223.90,80.40 L1224.90,80.44 L1225.90,80.47 L1226.90,80.51 L1227.90,80.55 L1228.90,80.59 L1229.90,80.63 L1230.90,80.67 L1231.90,80.72 L1232.90,80.76 L1233.90,80.81 L1234.90,80.86 L1235.90,80.91 L1236.90,80.97 L1237.90,81.02 L1238.90,81.08 L1239.90,81.14 L1240.90,81.20 L1241.90,81.26 L1242.90,81.32 L1243.90,81.39 L1244.90,81.46 L1245.90,81.53 L1246.90,81.60 L1247.90,81.67 L1248.90,81.74 L1249.90,81.82 L1250.90,81.90 L1251.90,81.98 L1252.90,82.06 L1253.90,82.15 L1254.90,82.23 L1255.90,82.32 L1256.90,82.41 L1257.90,82.50 L1258.90,82.59 L1259.90,82.69 L1260.90,82.79 L1261.90,82.89 L1262.90,82.99 L1263.90,83.09 L1264.90,83.20 L1265.90,83.30 L1266.90,83.41 L1267.90,83.52 L1268.90,83.64 L1269.90,83.75 L1270.90,83.87 L1271.90,83.99 L1272.90,84.11 L1273.90,84.23 L1274.90,84.35 L1275.90,84.48 L1276.90,84.60 L1277.90,84.73 L1278.90,84.86 L1279.90,84.99 L1280.90,85.12 L1281.90,85.26 L1282.90,85.39 L1283.90,85.53 L1284.90,85.66 L1285.90,85.80 L1286.90,85.94 L1287.90,86.09 L1288.90,86.23 L1289.90,86.37 L1290.90,86.52 L1291.90,86.66 L1292.90,86.81 L1293.90,86.96 L1294.90,87.11 L1295.90,87.26 L1296.90,87.41 L1297.90,87.56 L1298.90,87.71 L1299.90,87.86 L1300.90,88.02 L1301.90,88.17 L1302.90,88.33 L1303.90,88.48 L1304.90,88.64 L1305.90,88.80 L1306.90,88.95 L1307.90,89.11 L1308.90,89.27 L1309.90,89.43 L1310.90,89.59 L1311.90,89.75 L1312.90,89.91 L1313.90,90.07 L1314.90,90.23 L1315.90,90.39 L1316.90,90.56 L1317.90,90.72 L1318.90,90.88 L1319.90,91.04 L1320.90,91.20 L1321.90,91.37 L1322.90,91.53 L1323.90,91.69 L1324.90,91.85 L1325.90,92.02 L1326.90,92.18 L1327.90,92.34 L1328.90,92.50 L1329.90,92.66 L1330.90,92.82 L1331.90,92.99 L1332.90,93.15 L1333.90,93.31 L1334.90,93.47 L1335.90,93.63 L1336.90,93.79 L1337.90,93.94 L1338.90,94.10 L1339.90,94.26 L1340.90,94.42 L1341.90,94.57 L1342.90,94.73 L1343.90,94.88 L1344.90,95.04 L1345.90,95.19 L1346.90,95.35 L1347.90,95.50 L1348.90,95.65 L1349.00,95.66 L1349.00,100.70 Z" fill="#232323" fill-opacity="0.5" stroke="none"/>
<path d="M877.90,100.70 L877.90,93.74 L878.90,93.76 L879.90,93.77 L880.90,93.78 L881.90,93.79 L882.90,93.80 L883.90,93.82 L884.90,93.83 L885.90,93.84 L886.90,93.85 L887.90,93.86 L888.90,93.87 L889.90,93.88 L890.90,93.89 L891.90,93.90 L892.90,93.91 L893.90,93.91 L894.90,93.92 L895.90,93.93 L896.90,93.94 L897.90,93.94 L898.90,93.95 L899.90,93.95 L900.90,93.96 L901.90,93.96 L902.90,93.97 L903.90,93.97 L904.90,93.98 L905.90,93.98 L906.90,93.98 L907.90,93.99 L908.90,93.99 L909.90,93.99 L910.90,93.99 L911.90,93.99 L912.90,93.99 L913.90,93.99 L914.90,93.99 L915.90,93.99 L916.90,93.99 L917.90,93.99 L918.90,93.99 L919.90,93.99 L920.90,93.99 L921.90,93.98 L922.90,93.98 L923.90,93.98 L924.90,93.97 L925.90,93.97 L926.90,93.96 L927.90,93.96 L928.90,93.95 L929.90,93.94 L930.90,93.94 L931.90,93.93 L932.90,93.92 L933.90,93.91 L934.90,93.90 L935.90,93.90 L936.90,93.89 L937.90,93.88 L938.90,93.87 L939.90,93.85 L940.90,93.84 L941.90,93.83 L942.90,93.82 L943.90,93.81 L944.90,93.79 L945.90,93.78 L946.90,93.77 L947.90,93.75 L948.90,93.74 L949.90,93.72 L950.90,93.70 L951.90,93.69 L952.90,93.67 L953.90,93.65 L954.90,93.64 L955.90,93.62 L956.90,93.60 L957.90,93.58 L958.90,93.56 L959.90,93.54 L960.90,93.52 L961.90,93.50 L962.90,93.48 L963.90,93.45 L964.90,93.43 L965.90,93.41 L966.90,93.38 L967.90,93.36 L968.90,93.33 L969.90,93.31 L970.90,93.28 L971.90,93.26 L972.90,93.23 L973.90,93.20 L974.90,93.17 L975.90,93.14 L976.90,93.12 L977.90,93.09 L978.90,93.06 L979.90,93.03 L980.90,92.99 L981.90,92.96 L982.90,92.93 L983.90,92.90 L984.90,92.86 L985.90,92.83 L986.90,92.80 L987.90,92.76 L988.90,92.73 L989.90,92.69 L990.90,92.65 L991.90,92.62 L992.90,92.58 L993.90,92.54 L994.90,92.50 L995.90,92.46 L996.90,92.42 L997.90,92.38 L998.90,92.34 L999.90,92.30 L1000.90,92.26 L1001.90,92.21 L1002.90,92.17 L1003.90,92.13 L1004.90,92.08 L1005.90,92.04 L1006.90,91.99 L1007.90,91.94 L1008.90,91.90 L1009.90,91.85 L1010.90,91.80 L1011.90,91.75 L1012.90,91.70 L1013.90,91.65 L1014.90,91.60 L1015.90,91.55 L1016.90,91.50 L1017.90,91.45 L1018.90,91.40 L1019.90,91.34 L1020.90,91.29 L1021.90,91.23 L1022.90,91.18 L1023.90,91.12 L1024.90,91.07 L1025.90,91.01 L1026.90,90.95 L1027.90,90.89 L1028.90,90.83 L1029.90,90.77 L1030.90,90.71 L1031.90,90.65 L1032.90,90.59 L1033.90,90.53 L1034.90,90.47 L1035.90,90.40 L1036.90,90.34 L1037.90,90.27 L1038.90,90.21 L1039.90,90.14 L1040.90,90.08 L1041.90,90.01 L1042.90,89.94 L1043.90,89.87 L1044.90,89.80 L1045.90,89.73 L1046.90,89.66 L1047.90,89.59 L1048.90,89.52 L1049.90,89.45 L1050.90,89.37 L1051.90,89.30 L1052.90,89.23 L1053.90,89.15 L1054.90,89.08 L1055.90,89.00 L1056.90,88.93 L1057.90,88.85 L1058.90,88.77 L1059.90,88.69 L1060.90,88.62 L1061.90,88.54 L1062.90,88.46 L1063.90,88.38 L1064.90,88.30 L1065.90,88.22 L1066.90,88.14 L1067.90,88.06 L1068.90,87.98 L1069.90,87.90 L1070.90,87.82 L1071.90,87.74 L1072.90,87.66 L1073.90,87.57 L1074.90,87.49 L1075.90,87.41 L1076.90,87.33 L1077.90,87.24 L1078.90,87.16 L1079.90,87.08 L1080.90,87.00 L1081.90,86.91 L1082.90,86.83 L1083.90,86.74 L1084.90,86.66 L1085.90,86.58 L1086.90,86.49 L1087.90,86.41 L1088.90,86.33 L1089.90,86.24 L1090.90,86.16 L1091.90,86.07 L1092.90,85.99 L1093.90,85.91 L1094.90,85.82 L1095.90,85.74 L1096.90,85.66 L1097.90,85.57 L1098.90,85.49 L1099.90,85.40 L1100.90,85.32 L1101.90,85.24 L1102.90,85.16 L1103.90,85.07 L1104.90,84.99 L1105.90,84.91 L1106.90,84.83 L1107.90,84.74 L1108.90,84.66 L1109.90,84.58 L1110.90,84.50 L1111.90,84.42 L1112.90,84.34 L1113.90,84.26 L1114.90,84.18 L1115.90,84.10 L1116.90,84.02 L1117.90,83.94 L1118.90,83.86 L1119.90,83.79 L1120.90,83.71 L1121.90,83.63 L1122.90,83.56 L1123.90,83.48 L1124.90,83.40 L1125.90,83.33 L1126.90,83.25 L1127.90,83.18 L1128.90,83.11 L1129.90,83.03 L1130.90,82.96 L1131.90,82.89 L1132.90,82.82 L1133.90,82.75 L1134.90,82.68 L1135.90,82.61 L1136.90,82.54 L1137.90,82.47 L1138.90,82.40 L1139.90,82.34 L1140.90,82.27 L1141.90,82.20 L1142.90,82.14 L1143.90,82.08 L1144.90,82.01 L1145.90,81.95 L1146.90,81.89 L1147.90,81.83 L1148.90,81.77 L1149.90,81.71 L1150.90,81.65 L1151.90,81.59 L1152.90,81.53 L1153.90,81.48 L1154.90,81.42 L1155.90,81.37 L1156.90,81.32 L1157.90,81.26 L1158.90,81.21 L1159.90,81.16 L1160.90,81.11 L1161.90,81.07 L1162.90,81.02 L1163.90,80.97 L1164.90,80.93 L1165.90,80.88 L1166.90,80.84 L1167.90,80.80 L1168.90,80.76 L1169.90,80.72 L1170.90,80.68 L1171.90,80.64 L1172.90,80.60 L1173.90,80.57 L1174.90,80.53 L1175.90,80.50 L1176.90,80.47 L1177.90,80.43 L1178.90,80.40 L1179.90,80.38 L1180.90,80.35 L1181.90,80.32 L1182.90,80.30 L1183.90,80.27 L1184.90,80.25 L1185.90,80.23 L1186.90,80.21 L1187.90,80.19 L1188.90,80.17 L1189.90,80.15 L1190.90,80.14 L1191.90,80.12 L1192.90,80.11 L1193.90,80.10 L1194.90,80.09 L1195.90,80.08 L1196.90,80.07 L1197.90,80.07 L1198.90,80.06 L1199.90,80.06 L1200.90,80.06 L1201.90,80.05 L1202.90,80.06 L1203.90,80.06 L1204.90,80.06 L1205.90,80.07 L1206.90,80.07 L1207.90,80.08 L1208.90,80.09 L1209.90,80.10 L1210.90,80.11 L1211.90,80.12 L1212.90,80.14 L1213.90,80.16 L1214.90,80.17 L1215.90,80.19 L1216.90,80.21 L1217.90,80.24 L1218.90,80.26 L1219.90,80.29 L1220.90,80.31 L1221.90,80.34 L1222.90,80.37 L1223.90,80.40 L1224.90,80.44 L1225.90,80.47 L1226.90,80.51 L1227.90,80.55 L1228.90,80.59 L1229.90,80.63 L1230.90,80.67 L1231.90,80.72 L1232.90,80.76 L1233.90,80.81 L1234.90,80.86 L1235.90,80.91 L1236.90,80.97 L1237.90,81.02 L1238.90,81.08 L1239.90,81.14 L1240.90,81.20 L1241.90,81.26 L1242.90,81.32 L1243.90,81.39 L1244.90,81.46 L1245.90,81.53 L1246.90,81.60 L1247.90,81.67 L1248.90,81.74 L1249.90,81.82 L1250.90,81.90 L1251.90,81.98 L1252.90,82.06 L1253.90,82.15 L1254.90,82.23 L1255.90,82.32 L1256.90,82.41 L1257.90,82.50 L1258.90,82.59 L1259.90,82.69 L1260.90,82.79 L1261.90,82.89 L1262.90,82.99 L1263.90,83.09 L1264.90,83.20 L1265.90,83.30 L1266.90,83.41 L1267.90,83.52 L1268.90,83.64 L1269.90,83.75 L1270.90,83.87 L1271.90,83.99 L1272.90,84.11 L1273.90,84.23 L1274.90,84.35 L1275.90,84.48 L1276.90,84.60 L1277.90,84.73 L1278.90,84.86 L1279.90,84.99 L1280.90,85.12 L1281.90,85.26 L1282.90,85.39 L1283.90,85.53 L1284.90,85.66 L1285.90,85.80 L1286.90,85.94 L1287.90,86.09 L1288.90,86.23 L1289.90,86.37 L1290.90,86.52 L1291.90,86.66 L1292.90,86.81 L1293.90,86.96 L1294.90,87.11 L1295.90,87.26 L1296.90,87.41 L1297.90,87.56 L1298.90,87.71 L1299.90,87.86 L1300.90,88.02 L1301.90,88.17 L1302.90,88.33 L1303.90,88.48 L1304.90,88.64 L1305.90,88.80 L1306.90,88.95 L1307.90,89.11 L1308.90,89.27 L1309.90,89.43 L1310.90,89.59 L1311.90,89.75 L1312.90,89.91 L1313.90,90.07 L1314.90,90.23 L1315.90,90.39 L1316.90,90.56 L1317.90,90.72 L1318.90,90.88 L1319.90,91.04 L1320.90,91.20 L1321.90,91.37 L1322.90,91.53 L1323.90,91.69 L1324.90,91.85 L1325.90,92.02 L1326.90,92.18 L1327.90,92.34 L1328.90,92.50 L1329.90,92.66 L1330.90,92.82 L1331.90,92.99 L1332.90,93.15 L1333.90,93.31 L1334.90,93.47 L1335.90,93.63 L1336.90,93.79 L1337.90,93.94 L1338.90,94.10 L1339.90,94.26 L1340.90,94.42 L1341.90,94.57 L1342.90,94.73 L1343.90,94.88 L1344.90,95.04 L1345.90,95.19 L1346.90,95.35 L1347.90,95.50 L1348.90,95.65 L1349.00,95.66 L1349.00,100.70" fill="none" stroke="#232323" stroke-width="2.2" stroke-linejoin="round"/>
<path d="M877.90,100.70 L877.90,100.64 L878.90,100.61 L879.90,100.58 L880.90,100.55 L881.90,100.52 L882.90,100.49 L883.90,100.46 L884.90,100.44 L885.90,100.41 L886.90,100.39 L887.90,100.36 L888.90,100.34 L889.90,100.31 L890.90,100.29 L891.90,100.27 L892.90,100.25 L893.90,100.23 L894.90,100.20 L895.90,100.18 L896.90,100.16 L897.90,100.14 L898.90,100.12 L899.90,100.11 L900.90,100.09 L901.90,100.07 L902.90,100.05 L903.90,100.04 L904.90,100.02 L905.90,100.00 L906.90,99.99 L907.90,99.97 L908.90,99.96 L909.90,99.94 L910.90,99.93 L911.90,99.92 L912.90,99.90 L913.90,99.89 L914.90,99.88 L915.90,99.87 L916.90,99.86 L917.90,99.84 L918.90,99.83 L919.90,99.82 L920.90,99.81 L921.90,99.80 L922.90,99.79 L923.90,99.78 L924.90,99.77 L925.90,99.77 L926.90,99.76 L927.90,99.75 L928.90,99.74 L929.90,99.74 L930.90,99.73 L931.90,99.72 L932.90,99.71 L933.90,99.71 L934.90,99.70 L935.90,99.70 L936.90,99.69 L937.90,99.69 L938.90,99.68 L939.90,99.68 L940.90,99.67 L941.90,99.67 L942.90,99.66 L943.90,99.66 L944.90,99.66 L945.90,99.65 L946.90,99.65 L947.90,99.65 L948.90,99.64 L949.90,99.64 L950.90,99.64 L951.90,99.63 L952.90,99.63 L953.90,99.63 L954.90,99.63 L955.90,99.63 L956.90,99.62 L957.90,99.62 L958.90,99.62 L959.90,99.62 L960.90,99.62 L961.90,99.62 L962.90,99.62 L963.90,99.61 L964.90,99.61 L965.90,99.61 L966.90,99.61 L967.90,99.61 L968.90,99.61 L969.90,99.61 L970.90,99.61 L971.90,99.61 L972.90,99.61 L973.90,99.61 L974.90,99.61 L975.90,99.60 L976.90,99.60 L977.90,99.60 L978.90,99.60 L979.90,99.60 L980.90,99.60 L981.90,99.60 L982.90,99.60 L983.90,99.60 L984.90,99.60 L985.90,99.60 L986.90,99.60 L987.90,99.60 L988.90,99.59 L989.90,99.59 L990.90,99.59 L991.90,99.59 L992.90,99.59 L993.90,99.59 L994.90,99.59 L995.90,99.58 L996.90,99.58 L997.90,99.58 L998.90,99.58 L999.90,99.58 L1000.90,99.57 L1001.90,99.57 L1002.90,99.57 L1003.90,99.57 L1004.90,99.56 L1005.90,99.56 L1006.90,99.56 L1007.90,99.55 L1008.90,99.55 L1009.90,99.55 L1010.90,99.54 L1011.90,99.54 L1012.90,99.53 L1013.90,99.53 L1014.90,99.52 L1015.90,99.52 L1016.90,99.51 L1017.90,99.51 L1018.90,99.50 L1019.90,99.49 L1020.90,99.49 L1021.90,99.48 L1022.90,99.47 L1023.90,99.47 L1024.90,99.46 L1025.90,99.45 L1026.90,99.44 L1027.90,99.43 L1028.90,99.42 L1029.90,99.42 L1030.90,99.41 L1031.90,99.40 L1032.90,99.39 L1033.90,99.38 L1034.90,99.36 L1035.90,99.35 L1036.90,99.34 L1037.90,99.33 L1038.90,99.32 L1039.90,99.30 L1040.90,99.29 L1041.90,99.28 L1042.90,99.26 L1043.90,99.25 L1044.90,99.24 L1045.90,99.22 L1046.90,99.20 L1047.90,99.19 L1048.90,99.17 L1049.90,99.16 L1050.90,99.14 L1051.90,99.12 L1052.90,99.10 L1053.90,99.08 L1054.90,99.06 L1055.90,99.04 L1056.90,99.02 L1057.90,99.00 L1058.90,98.98 L1059.90,98.96 L1060.90,98.94 L1061.90,98.92 L1062.90,98.89 L1063.90,98.87 L1064.90,98.85 L1065.90,98.82 L1066.90,98.80 L1067.90,98.77 L1068.90,98.74 L1069.90,98.72 L1070.90,98.69 L1071.90,98.66 L1072.90,98.63 L1073.90,98.60 L1074.90,98.57 L1075.90,98.54 L1076.90,98.51 L1077.90,98.48 L1078.90,98.45 L1079.90,98.41 L1080.90,98.38 L1081.90,98.35 L1082.90,98.31 L1083.90,98.28 L1084.90,98.24 L1085.90,98.20 L1086.90,98.17 L1087.90,98.13 L1088.90,98.09 L1089.90,98.05 L1090.90,98.01 L1091.90,97.97 L1092.90,97.93 L1093.90,97.88 L1094.90,97.84 L1095.90,97.80 L1096.90,97.75 L1097.90,97.71 L1098.90,97.66 L1099.90,97.61 L1100.90,97.57 L1101.90,97.52 L1102.90,97.47 L1103.90,97.42 L1104.90,97.37 L1105.90,97.32 L1106.90,97.27 L1107.90,97.21 L1108.90,97.16 L1109.90,97.10 L1110.90,97.05 L1111.90,96.99 L1112.90,96.94 L1113.90,96.88 L1114.90,96.82 L1115.90,96.76 L1116.90,96.70 L1117.90,96.64 L1118.90,96.58 L1119.90,96.51 L1120.90,96.45 L1121.90,96.39 L1122.90,96.32 L1123.90,96.25 L1124.90,96.19 L1125.90,96.12 L1126.90,96.05 L1127.90,95.98 L1128.90,95.91 L1129.90,95.83 L1130.90,95.76 L1131.90,95.68 L1132.90,95.60 L1133.90,95.52 L1134.90,95.44 L1135.90,95.35 L1136.90,95.27 L1137.90,95.18 L1138.90,95.09 L1139.90,94.99 L1140.90,94.89 L1141.90,94.79 L1142.90,94.69 L1143.90,94.58 L1144.90,94.47 L1145.90,94.35 L1146.90,94.24 L1147.90,94.12 L1148.90,93.99 L1149.90,93.86 L1150.90,93.73 L1151.90,93.59 L1152.90,93.45 L1153.90,93.30 L1154.90,93.15 L1155.90,92.99 L1156.90,92.83 L1157.90,92.66 L1158.90,92.49 L1159.90,92.31 L1160.90,92.13 L1161.90,91.94 L1162.90,91.75 L1163.90,91.55 L1164.90,91.34 L1165.90,91.13 L1166.90,90.91 L1167.90,90.69 L1168.90,90.45 L1169.90,90.19 L1170.90,89.90 L1171.90,89.59 L1172.90,89.24 L1173.90,88.85 L1174.90,88.41 L1175.90,87.93 L1176.90,87.39 L1177.90,86.78 L1178.90,86.11 L1179.90,85.37 L1180.90,84.55 L1181.90,83.64 L1182.90,82.65 L1183.90,81.56 L1184.90,80.38 L1185.90,79.10 L1186.90,77.73 L1187.90,76.29 L1188.90,74.78 L1189.90,73.21 L1190.90,71.58 L1191.90,69.90 L1192.90,68.19 L1193.90,66.44 L1194.90,64.68 L1195.90,62.89 L1196.90,61.10 L1197.90,59.31 L1198.90,57.54 L1199.90,55.77 L1200.90,54.03 L1201.90,52.33 L1202.90,50.65 L1203.90,49.01 L1204.90,47.41 L1205.90,45.84 L1206.90,44.31 L1207.90,42.81 L1208.90,41.35 L1209.90,39.92 L1210.90,38.53 L1211.90,37.19 L1212.90,35.88 L1213.90,34.60 L1214.90,33.37 L1215.90,32.18 L1216.90,31.03 L1217.90,29.92 L1218.90,28.85 L1219.90,27.82 L1220.90,26.84 L1221.90,25.90 L1222.90,25.00 L1223.90,24.15 L1224.90,23.34 L1225.90,22.57 L1226.90,21.85 L1227.90,21.18 L1228.90,20.55 L1229.90,19.97 L1230.90,19.43 L1231.90,18.95 L1232.90,18.51 L1233.90,18.11 L1234.90,17.76 L1235.90,17.46 L1236.90,17.21 L1237.90,17.01 L1238.90,16.85 L1239.90,16.74 L1240.90,16.67 L1241.90,16.66 L1242.90,16.69 L1243.90,16.77 L1244.90,16.90 L1245.90,17.07 L1246.90,17.30 L1247.90,17.57 L1248.90,17.89 L1249.90,18.26 L1250.90,18.68 L1251.90,19.14 L1252.90,19.66 L1253.90,20.22 L1254.90,20.83 L1255.90,21.49 L1256.90,22.20 L1257.90,22.96 L1258.90,23.76 L1259.90,24.62 L1260.90,25.52 L1261.90,26.47 L1262.90,27.46 L1263.90,28.49 L1264.90,29.56 L1265.90,30.67 L1266.90,31.81 L1267.90,32.99 L1268.90,34.20 L1269.90,35.44 L1270.90,36.71 L1271.90,38.01 L1272.90,39.34 L1273.90,40.69 L1274.90,42.06 L1275.90,43.46 L1276.90,44.87 L1277.90,46.30 L1278.90,47.75 L1279.90,49.21 L1280.90,50.68 L1281.90,52.17 L1282.90,53.66 L1283.90,55.16 L1284.90,56.66 L1285.90,58.17 L1286.90,59.68 L1287.90,61.18 L1288.90,62.68 L1289.90,64.18 L1290.90,65.67 L1291.90,67.14 L1292.90,68.61 L1293.90,70.05 L1294.90,71.49 L1295.90,72.90 L1296.90,74.29 L1297.90,75.66 L1298.90,77.00 L1299.90,78.32 L1300.90,79.60 L1301.90,80.86 L1302.90,82.08 L1303.90,83.26 L1304.90,84.40 L1305.90,85.51 L1306.90,86.57 L1307.90,87.59 L1308.90,88.56 L1309.90,89.48 L1310.90,90.35 L1311.90,91.16 L1312.90,91.92 L1313.90,92.63 L1314.90,93.27 L1315.90,93.85 L1316.90,94.37 L1317.90,94.83 L1318.90,95.23 L1319.90,95.58 L1320.90,95.88 L1321.90,96.15 L1322.90,96.37 L1323.90,96.56 L1324.90,96.72 L1325.90,96.86 L1326.90,96.98 L1327.90,97.09 L1328.90,97.18 L1329.90,97.27 L1330.90,97.36 L1331.90,97.45 L1332.90,97.54 L1333.90,97.65 L1334.90,97.78 L1335.90,97.93 L1336.90,98.10 L1337.90,98.31 L1338.90,98.54 L1339.90,98.79 L1340.90,99.05 L1341.90,99.31 L1342.90,99.56 L1343.90,99.78 L1344.90,99.97 L1345.90,100.11 L1346.90,100.19 L1347.90,100.21 L1348.90,100.15 L1349.00,100.14 L1349.00,100.70 Z" fill="#b5b5b5" fill-opacity="0.5" stroke="none"/>
<path d="M877.90,100.70 L877.90,100.64 L878.90,100.61 L879.90,100.58 L880.90,100.55 L881.90,100.52 L882.90,100.49 L883.90,100.46 L884.90,100.44 L885.90,100.41 L886.90,100.39 L887.90,100.36 L888.90,100.34 L889.90,100.31 L890.90,100.29 L891.90,100.27 L892.90,100.25 L893.90,100.23 L894.90,100.20 L895.90,100.18 L896.90,100.16 L897.90,100.14 L898.90,100.12 L899.90,100.11 L900.90,100.09 L901.90,100.07 L902.90,100.05 L903.90,100.04 L904.90,100.02 L905.90,100.00 L906.90,99.99 L907.90,99.97 L908.90,99.96 L909.90,99.94 L910.90,99.93 L911.90,99.92 L912.90,99.90 L913.90,99.89 L914.90,99.88 L915.90,99.87 L916.90,99.86 L917.90,99.84 L918.90,99.83 L919.90,99.82 L920.90,99.81 L921.90,99.80 L922.90,99.79 L923.90,99.78 L924.90,99.77 L925.90,99.77 L926.90,99.76 L927.90,99.75 L928.90,99.74 L929.90,99.74 L930.90,99.73 L931.90,99.72 L932.90,99.71 L933.90,99.71 L934.90,99.70 L935.90,99.70 L936.90,99.69 L937.90,99.69 L938.90,99.68 L939.90,99.68 L940.90,99.67 L941.90,99.67 L942.90,99.66 L943.90,99.66 L944.90,99.66 L945.90,99.65 L946.90,99.65 L947.90,99.65 L948.90,99.64 L949.90,99.64 L950.90,99.64 L951.90,99.63 L952.90,99.63 L953.90,99.63 L954.90,99.63 L955.90,99.63 L956.90,99.62 L957.90,99.62 L958.90,99.62 L959.90,99.62 L960.90,99.62 L961.90,99.62 L962.90,99.62 L963.90,99.61 L964.90,99.61 L965.90,99.61 L966.90,99.61 L967.90,99.61 L968.90,99.61 L969.90,99.61 L970.90,99.61 L971.90,99.61 L972.90,99.61 L973.90,99.61 L974.90,99.61 L975.90,99.60 L976.90,99.60 L977.90,99.60 L978.90,99.60 L979.90,99.60 L980.90,99.60 L981.90,99.60 L982.90,99.60 L983.90,99.60 L984.90,99.60 L985.90,99.60 L986.90,99.60 L987.90,99.60 L988.90,99.59 L989.90,99.59 L990.90,99.59 L991.90,99.59 L992.90,99.59 L993.90,99.59 L994.90,99.59 L995.90,99.58 L996.90,99.58 L997.90,99.58 L998.90,99.58 L999.90,99.58 L1000.90,99.57 L1001.90,99.57 L1002.90,99.57 L1003.90,99.57 L1004.90,99.56 L1005.90,99.56 L1006.90,99.56 L1007.90,99.55 L1008.90,99.55 L1009.90,99.55 L1010.90,99.54 L1011.90,99.54 L1012.90,99.53 L1013.90,99.53 L1014.90,99.52 L1015.90,99.52 L1016.90,99.51 L1017.90,99.51 L1018.90,99.50 L1019.90,99.49 L1020.90,99.49 L1021.90,99.48 L1022.90,99.47 L1023.90,99.47 L1024.90,99.46 L1025.90,99.45 L1026.90,99.44 L1027.90,99.43 L1028.90,99.42 L1029.90,99.42 L1030.90,99.41 L1031.90,99.40 L1032.90,99.39 L1033.90,99.38 L1034.90,99.36 L1035.90,99.35 L1036.90,99.34 L1037.90,99.33 L1038.90,99.32 L1039.90,99.30 L1040.90,99.29 L1041.90,99.28 L1042.90,99.26 L1043.90,99.25 L1044.90,99.24 L1045.90,99.22 L1046.90,99.20 L1047.90,99.19 L1048.90,99.17 L1049.90,99.16 L1050.90,99.14 L1051.90,99.12 L1052.90,99.10 L1053.90,99.08 L1054.90,99.06 L1055.90,99.04 L1056.90,99.02 L1057.90,99.00 L1058.90,98.98 L1059.90,98.96 L1060.90,98.94 L1061.90,98.92 L1062.90,98.89 L1063.90,98.87 L1064.90,98.85 L1065.90,98.82 L1066.90,98.80 L1067.90,98.77 L1068.90,98.74 L1069.90,98.72 L1070.90,98.69 L1071.90,98.66 L1072.90,98.63 L1073.90,98.60 L1074.90,98.57 L1075.90,98.54 L1076.90,98.51 L1077.90,98.48 L1078.90,98.45 L1079.90,98.41 L1080.90,98.38 L1081.90,98.35 L1082.90,98.31 L1083.90,98.28 L1084.90,98.24 L1085.90,98.20 L1086.90,98.17 L1087.90,98.13 L1088.90,98.09 L1089.90,98.05 L1090.90,98.01 L1091.90,97.97 L1092.90,97.93 L1093.90,97.88 L1094.90,97.84 L1095.90,97.80 L1096.90,97.75 L1097.90,97.71 L1098.90,97.66 L1099.90,97.61 L1100.90,97.57 L1101.90,97.52 L1102.90,97.47 L1103.90,97.42 L1104.90,97.37 L1105.90,97.32 L1106.90,97.27 L1107.90,97.21 L1108.90,97.16 L1109.90,97.10 L1110.90,97.05 L1111.90,96.99 L1112.90,96.94 L1113.90,96.88 L1114.90,96.82 L1115.90,96.76 L1116.90,96.70 L1117.90,96.64 L1118.90,96.58 L1119.90,96.51 L1120.90,96.45 L1121.90,96.39 L1122.90,96.32 L1123.90,96.25 L1124.90,96.19 L1125.90,96.12 L1126.90,96.05 L1127.90,95.98 L1128.90,95.91 L1129.90,95.83 L1130.90,95.76 L1131.90,95.68 L1132.90,95.60 L1133.90,95.52 L1134.90,95.44 L1135.90,95.35 L1136.90,95.27 L1137.90,95.18 L1138.90,95.09 L1139.90,94.99 L1140.90,94.89 L1141.90,94.79 L1142.90,94.69 L1143.90,94.58 L1144.90,94.47 L1145.90,94.35 L1146.90,94.24 L1147.90,94.12 L1148.90,93.99 L1149.90,93.86 L1150.90,93.73 L1151.90,93.59 L1152.90,93.45 L1153.90,93.30 L1154.90,93.15 L1155.90,92.99 L1156.90,92.83 L1157.90,92.66 L1158.90,92.49 L1159.90,92.31 L1160.90,92.13 L1161.90,91.94 L1162.90,91.75 L1163.90,91.55 L1164.90,91.34 L1165.90,91.13 L1166.90,90.91 L1167.90,90.69 L1168.90,90.45 L1169.90,90.19 L1170.90,89.90 L1171.90,89.59 L1172.90,89.24 L1173.90,88.85 L1174.90,88.41 L1175.90,87.93 L1176.90,87.39 L1177.90,86.78 L1178.90,86.11 L1179.90,85.37 L1180.90,84.55 L1181.90,83.64 L1182.90,82.65 L1183.90,81.56 L1184.90,80.38 L1185.90,79.10 L1186.90,77.73 L1187.90,76.29 L1188.90,74.78 L1189.90,73.21 L1190.90,71.58 L1191.90,69.90 L1192.90,68.19 L1193.90,66.44 L1194.90,64.68 L1195.90,62.89 L1196.90,61.10 L1197.90,59.31 L1198.90,57.54 L1199.90,55.77 L1200.90,54.03 L1201.90,52.33 L1202.90,50.65 L1203.90,49.01 L1204.90,47.41 L1205.90,45.84 L1206.90,44.31 L1207.90,42.81 L1208.90,41.35 L1209.90,39.92 L1210.90,38.53 L1211.90,37.19 L1212.90,35.88 L1213.90,34.60 L1214.90,33.37 L1215.90,32.18 L1216.90,31.03 L1217.90,29.92 L1218.90,28.85 L1219.90,27.82 L1220.90,26.84 L1221.90,25.90 L1222.90,25.00 L1223.90,24.15 L1224.90,23.34 L1225.90,22.57 L1226.90,21.85 L1227.90,21.18 L1228.90,20.55 L1229.90,19.97 L1230.90,19.43 L1231.90,18.95 L1232.90,18.51 L1233.90,18.11 L1234.90,17.76 L1235.90,17.46 L1236.90,17.21 L1237.90,17.01 L1238.90,16.85 L1239.90,16.74 L1240.90,16.67 L1241.90,16.66 L1242.90,16.69 L1243.90,16.77 L1244.90,16.90 L1245.90,17.07 L1246.90,17.30 L1247.90,17.57 L1248.90,17.89 L1249.90,18.26 L1250.90,18.68 L1251.90,19.14 L1252.90,19.66 L1253.90,20.22 L1254.90,20.83 L1255.90,21.49 L1256.90,22.20 L1257.90,22.96 L1258.90,23.76 L1259.90,24.62 L1260.90,25.52 L1261.90,26.47 L1262.90,27.46 L1263.90,28.49 L1264.90,29.56 L1265.90,30.67 L1266.90,31.81 L1267.90,32.99 L1268.90,34.20 L1269.90,35.44 L1270.90,36.71 L1271.90,38.01 L1272.90,39.34 L1273.90,40.69 L1274.90,42.06 L1275.90,43.46 L1276.90,44.87 L1277.90,46.30 L1278.90,47.75 L1279.90,49.21 L1280.90,50.68 L1281.90,52.17 L1282.90,53.66 L1283.90,55.16 L1284.90,56.66 L1285.90,58.17 L1286.90,59.68 L1287.90,61.18 L1288.90,62.68 L1289.90,64.18 L1290.90,65.67 L1291.90,67.14 L1292.90,68.61 L1293.90,70.05 L1294.90,71.49 L1295.90,72.90 L1296.90,74.29 L1297.90,75.66 L1298.90,77.00 L1299.90,78.32 L1300.90,79.60 L1301.90,80.86 L1302.90,82.08 L1303.90,83.26 L1304.90,84.40 L1305.90,85.51 L1306.90,86.57 L1307.90,87.59 L1308.90,88.56 L1309.90,89.48 L1310.90,90.35 L1311.90,91.16 L1312.90,91.92 L1313.90,92.63 L1314.90,93.27 L1315.90,93.85 L1316.90,94.37 L1317.90,94.83 L1318.90,95.23 L1319.90,95.58 L1320.90,95.88 L1321.90,96.15 L1322.90,96.37 L1323.90,96.56 L1324.90,96.72 L1325.90,96.86 L1326.90,96.98 L1327.90,97.09 L1328.90,97.18 L1329.90,97.27 L1330.90,97.36 L1331.90,97.45 L1332.90,97.54 L1333.90,97.65 L1334.90,97.78 L1335.90,97.93 L1336.90,98.10 L1337.90,98.31 L1338.90,98.54 L1339.90,98.79 L1340.90,99.05 L1341.90,99.31 L1342.90,99.56 L1343.90,99.78 L1344.90,99.97 L1345.90,100.11 L1346.90,100.19 L1347.90,100.21 L1348.90,100.15 L1349.00,100.14 L1349.00,100.70" fill="none" stroke="#b0b0b0" stroke-width="2.2" stroke-linejoin="round"/>
<line x1="1185.5" y1="100.7" x2="1185.5" y2="13.2" stroke="#000" stroke-width="3.6" stroke-dasharray="14.3 6.2"/>
<line x1="877.10" y1="100.70" x2="1372.50" y2="100.70" stroke="#000" stroke-width="1.8"/>
<line x1="877.90" y1="100.70" x2="877.90" y2="105.90" stroke="#000" stroke-width="1.6"/>
<line x1="952.55" y1="100.70" x2="952.55" y2="105.90" stroke="#000" stroke-width="1.6"/>
<line x1="1027.20" y1="100.70" x2="1027.20" y2="105.90" stroke="#000" stroke-width="1.6"/>
<line x1="1101.85" y1="100.70" x2="1101.85" y2="105.90" stroke="#000" stroke-width="1.6"/>
<line x1="1176.50" y1="100.70" x2="1176.50" y2="105.90" stroke="#000" stroke-width="1.6"/>
<line x1="1251.15" y1="100.70" x2="1251.15" y2="105.90" stroke="#000" stroke-width="1.6"/>
<line x1="1325.80" y1="100.70" x2="1325.80" y2="105.90" stroke="#000" stroke-width="1.6"/>
<path d="M1388.70,246.00 L1389.02,246.00 L1389.09,247.00 L1389.16,248.00 L1389.23,249.00 L1389.30,250.00 L1389.37,251.00 L1389.43,252.00 L1389.50,253.00 L1389.57,254.00 L1389.64,255.00 L1389.71,256.00 L1389.77,257.00 L1389.84,258.00 L1389.91,259.00 L1389.98,260.00 L1390.05,261.00 L1390.11,262.00 L1390.18,263.00 L1390.25,264.00 L1390.32,265.00 L1390.39,266.00 L1390.46,267.00 L1390.52,268.00 L1390.59,269.00 L1390.66,270.00 L1390.73,271.00 L1390.80,272.00 L1390.87,273.00 L1390.94,274.00 L1391.01,275.00 L1391.08,276.00 L1391.16,277.00 L1391.23,278.00 L1391.30,279.00 L1391.37,280.00 L1391.45,281.00 L1391.52,282.00 L1391.59,283.00 L1391.67,284.00 L1391.74,285.00 L1391.82,286.00 L1391.90,287.00 L1391.97,288.00 L1392.05,289.00 L1392.13,290.00 L1392.21,291.00 L1392.29,292.00 L1392.37,293.00 L1392.45,294.00 L1392.53,295.00 L1392.62,296.00 L1392.70,297.00 L1392.79,298.00 L1392.87,299.00 L1392.96,300.00 L1393.05,301.00 L1393.13,302.00 L1393.22,303.00 L1393.31,304.00 L1393.40,305.00 L1393.50,306.00 L1393.59,307.00 L1393.68,308.00 L1393.78,309.00 L1393.88,310.00 L1393.97,311.00 L1394.07,312.00 L1394.17,313.00 L1394.27,314.00 L1394.38,315.00 L1394.48,316.00 L1394.58,317.00 L1394.69,318.00 L1394.80,319.00 L1394.91,320.00 L1395.02,321.00 L1395.13,322.00 L1395.24,323.00 L1395.35,324.00 L1395.47,325.00 L1395.59,326.00 L1395.70,327.00 L1395.82,328.00 L1395.95,329.00 L1396.07,330.00 L1396.19,331.00 L1396.32,332.00 L1396.45,333.00 L1396.58,334.00 L1396.71,335.00 L1396.84,336.00 L1396.98,337.00 L1397.11,338.00 L1397.25,339.00 L1397.39,340.00 L1397.53,341.00 L1397.67,342.00 L1397.82,343.00 L1397.97,344.00 L1398.11,345.00 L1398.27,346.00 L1398.42,347.00 L1398.57,348.00 L1398.73,349.00 L1398.89,350.00 L1399.05,351.00 L1399.21,352.00 L1399.37,353.00 L1399.54,354.00 L1399.71,355.00 L1399.88,356.00 L1400.05,357.00 L1400.22,358.00 L1400.40,359.00 L1400.58,360.00 L1400.76,361.00 L1400.94,362.00 L1401.12,363.00 L1401.31,364.00 L1401.49,365.00 L1401.68,366.00 L1401.87,367.00 L1402.06,368.00 L1402.25,369.00 L1402.45,370.00 L1402.64,371.00 L1402.84,372.00 L1403.04,373.00 L1403.24,374.00 L1403.44,375.00 L1403.65,376.00 L1403.85,377.00 L1404.06,378.00 L1404.27,379.00 L1404.48,380.00 L1404.69,381.00 L1404.90,382.00 L1405.11,383.00 L1405.32,384.00 L1405.54,385.00 L1405.76,386.00 L1405.97,387.00 L1406.19,388.00 L1406.41,389.00 L1406.63,390.00 L1406.85,391.00 L1407.08,392.00 L1407.30,393.00 L1407.53,394.00 L1407.75,395.00 L1407.98,396.00 L1408.21,397.00 L1408.44,398.00 L1408.67,399.00 L1408.90,400.00 L1409.13,401.00 L1409.36,402.00 L1409.59,403.00 L1409.83,404.00 L1410.06,405.00 L1410.30,406.00 L1410.53,407.00 L1410.77,408.00 L1411.01,409.00 L1411.25,410.00 L1411.48,411.00 L1411.72,412.00 L1411.96,413.00 L1412.20,414.00 L1412.44,415.00 L1412.68,416.00 L1412.93,417.00 L1413.17,418.00 L1413.41,419.00 L1413.65,420.00 L1413.90,421.00 L1414.14,422.00 L1414.38,423.00 L1414.63,424.00 L1414.87,425.00 L1415.11,426.00 L1415.36,427.00 L1415.60,428.00 L1415.85,429.00 L1416.09,430.00 L1416.34,431.00 L1416.58,432.00 L1416.83,433.00 L1417.08,434.00 L1417.32,435.00 L1417.57,436.00 L1417.81,437.00 L1418.06,438.00 L1418.30,439.00 L1418.55,440.00 L1418.79,441.00 L1419.04,442.00 L1419.28,443.00 L1419.52,444.00 L1419.77,445.00 L1420.01,446.00 L1420.25,447.00 L1420.50,448.00 L1420.74,449.00 L1420.98,450.00 L1421.22,451.00 L1421.46,452.00 L1421.70,453.00 L1421.94,454.00 L1422.17,455.00 L1422.41,456.00 L1422.64,457.00 L1422.88,458.00 L1423.11,459.00 L1423.34,460.00 L1423.58,461.00 L1423.81,462.00 L1424.03,463.00 L1424.26,464.00 L1424.49,465.00 L1424.71,466.00 L1424.93,467.00 L1425.16,468.00 L1425.38,469.00 L1425.59,470.00 L1425.81,471.00 L1426.03,472.00 L1426.24,473.00 L1426.45,474.00 L1426.66,475.00 L1426.87,476.00 L1427.07,477.00 L1427.28,478.00 L1427.48,479.00 L1427.68,480.00 L1427.88,481.00 L1428.07,482.00 L1428.27,483.00 L1428.46,484.00 L1428.65,485.00 L1428.83,486.00 L1429.02,487.00 L1429.20,488.00 L1429.38,489.00 L1429.55,490.00 L1429.73,491.00 L1429.90,492.00 L1430.07,493.00 L1430.23,494.00 L1430.40,495.00 L1430.56,496.00 L1430.71,497.00 L1430.87,498.00 L1431.02,499.00 L1431.17,500.00 L1431.31,501.00 L1431.45,502.00 L1431.59,503.00 L1431.73,504.00 L1431.86,505.00 L1431.99,506.00 L1432.12,507.00 L1432.24,508.00 L1432.36,509.00 L1432.47,510.00 L1432.58,511.00 L1432.69,512.00 L1432.79,513.00 L1432.89,514.00 L1432.99,515.00 L1433.08,516.00 L1433.17,517.00 L1433.26,518.00 L1433.34,519.00 L1433.42,520.00 L1433.49,521.00 L1433.56,522.00 L1433.62,523.00 L1433.68,524.00 L1433.74,525.00 L1433.79,526.00 L1433.84,527.00 L1433.88,528.00 L1433.92,529.00 L1433.96,530.00 L1433.99,531.00 L1434.02,532.00 L1434.04,533.00 L1434.06,534.00 L1434.07,535.00 L1434.08,536.00 L1434.08,537.00 L1434.08,538.00 L1434.08,539.00 L1434.07,540.00 L1434.06,541.00 L1434.04,542.00 L1434.02,543.00 L1433.99,544.00 L1433.96,545.00 L1433.92,546.00 L1433.88,547.00 L1433.83,548.00 L1433.78,549.00 L1433.73,550.00 L1433.67,551.00 L1433.60,552.00 L1433.53,553.00 L1433.46,554.00 L1433.38,555.00 L1433.29,556.00 L1433.20,557.00 L1433.11,558.00 L1433.01,559.00 L1432.90,560.00 L1432.80,561.00 L1432.68,562.00 L1432.56,563.00 L1432.44,564.00 L1432.31,565.00 L1432.17,566.00 L1432.03,567.00 L1431.89,568.00 L1431.73,569.00 L1431.58,570.00 L1431.42,571.00 L1431.25,572.00 L1431.08,573.00 L1430.90,574.00 L1430.72,575.00 L1430.53,576.00 L1430.34,577.00 L1430.14,578.00 L1429.93,579.00 L1429.72,580.00 L1429.51,581.00 L1429.29,582.00 L1429.06,583.00 L1428.83,584.00 L1428.59,585.00 L1428.35,586.00 L1428.10,587.00 L1427.85,588.00 L1427.59,589.00 L1427.32,590.00 L1427.06,591.00 L1426.78,592.00 L1426.50,593.00 L1426.22,594.00 L1425.93,595.00 L1425.64,596.00 L1425.35,597.00 L1425.05,598.00 L1424.74,599.00 L1424.44,600.00 L1424.13,601.00 L1423.81,602.00 L1423.49,603.00 L1423.17,604.00 L1422.85,605.00 L1422.52,606.00 L1422.19,607.00 L1421.85,608.00 L1421.52,609.00 L1421.18,610.00 L1420.84,611.00 L1420.49,612.00 L1420.15,613.00 L1419.80,614.00 L1419.45,615.00 L1419.09,616.00 L1418.74,617.00 L1418.38,618.00 L1418.03,619.00 L1417.67,620.00 L1417.31,621.00 L1416.95,622.00 L1416.58,623.00 L1416.22,624.00 L1415.85,625.00 L1415.71,625.40 L1388.70,625.40 Z" fill="#232323" fill-opacity="0.5" stroke="none"/>
<path d="M1389.02,246.00 L1389.09,247.00 L1389.16,248.00 L1389.23,249.00 L1389.30,250.00 L1389.37,251.00 L1389.43,252.00 L1389.50,253.00 L1389.57,254.00 L1389.64,255.00 L1389.71,256.00 L1389.77,257.00 L1389.84,258.00 L1389.91,259.00 L1389.98,260.00 L1390.05,261.00 L1390.11,262.00 L1390.18,263.00 L1390.25,264.00 L1390.32,265.00 L1390.39,266.00 L1390.46,267.00 L1390.52,268.00 L1390.59,269.00 L1390.66,270.00 L1390.73,271.00 L1390.80,272.00 L1390.87,273.00 L1390.94,274.00 L1391.01,275.00 L1391.08,276.00 L1391.16,277.00 L1391.23,278.00 L1391.30,279.00 L1391.37,280.00 L1391.45,281.00 L1391.52,282.00 L1391.59,283.00 L1391.67,284.00 L1391.74,285.00 L1391.82,286.00 L1391.90,287.00 L1391.97,288.00 L1392.05,289.00 L1392.13,290.00 L1392.21,291.00 L1392.29,292.00 L1392.37,293.00 L1392.45,294.00 L1392.53,295.00 L1392.62,296.00 L1392.70,297.00 L1392.79,298.00 L1392.87,299.00 L1392.96,300.00 L1393.05,301.00 L1393.13,302.00 L1393.22,303.00 L1393.31,304.00 L1393.40,305.00 L1393.50,306.00 L1393.59,307.00 L1393.68,308.00 L1393.78,309.00 L1393.88,310.00 L1393.97,311.00 L1394.07,312.00 L1394.17,313.00 L1394.27,314.00 L1394.38,315.00 L1394.48,316.00 L1394.58,317.00 L1394.69,318.00 L1394.80,319.00 L1394.91,320.00 L1395.02,321.00 L1395.13,322.00 L1395.24,323.00 L1395.35,324.00 L1395.47,325.00 L1395.59,326.00 L1395.70,327.00 L1395.82,328.00 L1395.95,329.00 L1396.07,330.00 L1396.19,331.00 L1396.32,332.00 L1396.45,333.00 L1396.58,334.00 L1396.71,335.00 L1396.84,336.00 L1396.98,337.00 L1397.11,338.00 L1397.25,339.00 L1397.39,340.00 L1397.53,341.00 L1397.67,342.00 L1397.82,343.00 L1397.97,344.00 L1398.11,345.00 L1398.27,346.00 L1398.42,347.00 L1398.57,348.00 L1398.73,349.00 L1398.89,350.00 L1399.05,351.00 L1399.21,352.00 L1399.37,353.00 L1399.54,354.00 L1399.71,355.00 L1399.88,356.00 L1400.05,357.00 L1400.22,358.00 L1400.40,359.00 L1400.58,360.00 L1400.76,361.00 L1400.94,362.00 L1401.12,363.00 L1401.31,364.00 L1401.49,365.00 L1401.68,366.00 L1401.87,367.00 L1402.06,368.00 L1402.25,369.00 L1402.45,370.00 L1402.64,371.00 L1402.84,372.00 L1403.04,373.00 L1403.24,374.00 L1403.44,375.00 L1403.65,376.00 L1403.85,377.00 L1404.06,378.00 L1404.27,379.00 L1404.48,380.00 L1404.69,381.00 L1404.90,382.00 L1405.11,383.00 L1405.32,384.00 L1405.54,385.00 L1405.76,386.00 L1405.97,387.00 L1406.19,388.00 L1406.41,389.00 L1406.63,390.00 L1406.85,391.00 L1407.08,392.00 L1407.30,393.00 L1407.53,394.00 L1407.75,395.00 L1407.98,396.00 L1408.21,397.00 L1408.44,398.00 L1408.67,399.00 L1408.90,400.00 L1409.13,401.00 L1409.36,402.00 L1409.59,403.00 L1409.83,404.00 L1410.06,405.00 L1410.30,406.00 L1410.53,407.00 L1410.77,408.00 L1411.01,409.00 L1411.25,410.00 L1411.48,411.00 L1411.72,412.00 L1411.96,413.00 L1412.20,414.00 L1412.44,415.00 L1412.68,416.00 L1412.93,417.00 L1413.17,418.00 L1413.41,419.00 L1413.65,420.00 L1413.90,421.00 L1414.14,422.00 L1414.38,423.00 L1414.63,424.00 L1414.87,425.00 L1415.11,426.00 L1415.36,427.00 L1415.60,428.00 L1415.85,429.00 L1416.09,430.00 L1416.34,431.00 L1416.58,432.00 L1416.83,433.00 L1417.08,434.00 L1417.32,435.00 L1417.57,436.00 L1417.81,437.00 L1418.06,438.00 L1418.30,439.00 L1418.55,440.00 L1418.79,441.00 L1419.04,442.00 L1419.28,443.00 L1419.52,444.00 L1419.77,445.00 L1420.01,446.00 L1420.25,447.00 L1420.50,448.00 L1420.74,449.00 L1420.98,450.00 L1421.22,451.00 L1421.46,452.00 L1421.70,453.00 L1421.94,454.00 L1422.17,455.00 L1422.41,456.00 L1422.64,457.00 L1422.88,458.00 L1423.11,459.00 L1423.34,460.00 L1423.58,461.00 L1423.81,462.00 L1424.03,463.00 L1424.26,464.00 L1424.49,465.00 L1424.71,466.00 L1424.93,467.00 L1425.16,468.00 L1425.38,469.00 L1425.59,470.00 L1425.81,471.00 L1426.03,472.00 L1426.24,473.00 L1426.45,474.00 L1426.66,475.00 L1426.87,476.00 L1427.07,477.00 L1427.28,478.00 L1427.48,479.00 L1427.68,480.00 L1427.88,481.00 L1428.07,482.00 L1428.27,483.00 L1428.46,484.00 L1428.65,485.00 L1428.83,486.00 L1429.02,487.00 L1429.20,488.00 L1429.38,489.00 L1429.55,490.00 L1429.73,491.00 L1429.90,492.00 L1430.07,493.00 L1430.23,494.00 L1430.40,495.00 L1430.56,496.00 L1430.71,497.00 L1430.87,498.00 L1431.02,499.00 L1431.17,500.00 L1431.31,501.00 L1431.45,502.00 L1431.59,503.00 L1431.73,504.00 L1431.86,505.00 L1431.99,506.00 L1432.12,507.00 L1432.24,508.00 L1432.36,509.00 L1432.47,510.00 L1432.58,511.00 L1432.69,512.00 L1432.79,513.00 L1432.89,514.00 L1432.99,515.00 L1433.08,516.00 L1433.17,517.00 L1433.26,518.00 L1433.34,519.00 L1433.42,520.00 L1433.49,521.00 L1433.56,522.00 L1433.62,523.00 L1433.68,524.00 L1433.74,525.00 L1433.79,526.00 L1433.84,527.00 L1433.88,528.00 L1433.92,529.00 L1433.96,530.00 L1433.99,531.00 L1434.02,532.00 L1434.04,533.00 L1434.06,534.00 L1434.07,535.00 L1434.08,536.00 L1434.08,537.00 L1434.08,538.00 L1434.08,539.00 L1434.07,540.00 L1434.06,541.00 L1434.04,542.00 L1434.02,543.00 L1433.99,544.00 L1433.96,545.00 L1433.92,546.00 L1433.88,547.00 L1433.83,548.00 L1433.78,549.00 L1433.73,550.00 L1433.67,551.00 L1433.60,552.00 L1433.53,553.00 L1433.46,554.00 L1433.38,555.00 L1433.29,556.00 L1433.20,557.00 L1433.11,558.00 L1433.01,559.00 L1432.90,560.00 L1432.80,561.00 L1432.68,562.00 L1432.56,563.00 L1432.44,564.00 L1432.31,565.00 L1432.17,566.00 L1432.03,567.00 L1431.89,568.00 L1431.73,569.00 L1431.58,570.00 L1431.42,571.00 L1431.25,572.00 L1431.08,573.00 L1430.90,574.00 L1430.72,575.00 L1430.53,576.00 L1430.34,577.00 L1430.14,578.00 L1429.93,579.00 L1429.72,580.00 L1429.51,581.00 L1429.29,582.00 L1429.06,583.00 L1428.83,584.00 L1428.59,585.00 L1428.35,586.00 L1428.10,587.00 L1427.85,588.00 L1427.59,589.00 L1427.32,590.00 L1427.06,591.00 L1426.78,592.00 L1426.50,593.00 L1426.22,594.00 L1425.93,595.00 L1425.64,596.00 L1425.35,597.00 L1425.05,598.00 L1424.74,599.00 L1424.44,600.00 L1424.13,601.00 L1423.81,602.00 L1423.49,603.00 L1423.17,604.00 L1422.85,605.00 L1422.52,606.00 L1422.19,607.00 L1421.85,608.00 L1421.52,609.00 L1421.18,610.00 L1420.84,611.00 L1420.49,612.00 L1420.15,613.00 L1419.80,614.00 L1419.45,615.00 L1419.09,616.00 L1418.74,617.00 L1418.38,618.00 L1418.03,619.00 L1417.67,620.00 L1417.31,621.00 L1416.95,622.00 L1416.58,623.00 L1416.22,624.00 L1415.85,625.00 L1415.71,625.40" fill="none" stroke="#232323" stroke-width="2.2" stroke-linejoin="round"/>
<path d="M1388.70,142.00 L1389.07,142.00 L1389.09,143.00 L1389.11,144.00 L1389.13,145.00 L1389.15,146.00 L1389.17,147.00 L1389.19,148.00 L1389.20,149.00 L1389.22,150.00 L1389.24,151.00 L1389.26,152.00 L1389.27,153.00 L1389.29,154.00 L1389.31,155.00 L1389.32,156.00 L1389.34,157.00 L1389.35,158.00 L1389.36,159.00 L1389.38,160.00 L1389.39,161.00 L1389.40,162.00 L1389.42,163.00 L1389.43,164.00 L1389.44,165.00 L1389.45,166.00 L1389.46,167.00 L1389.47,168.00 L1389.49,169.00 L1389.50,170.00 L1389.51,171.00 L1389.52,172.00 L1389.53,173.00 L1389.53,174.00 L1389.54,175.00 L1389.55,176.00 L1389.56,177.00 L1389.57,178.00 L1389.58,179.00 L1389.59,180.00 L1389.59,181.00 L1389.60,182.00 L1389.61,183.00 L1389.62,184.00 L1389.62,185.00 L1389.63,186.00 L1389.64,187.00 L1389.64,188.00 L1389.65,189.00 L1389.66,190.00 L1389.66,191.00 L1389.67,192.00 L1389.68,193.00 L1389.68,194.00 L1389.69,195.00 L1389.69,196.00 L1389.70,197.00 L1389.71,198.00 L1389.71,199.00 L1389.72,200.00 L1389.73,201.00 L1389.73,202.00 L1389.74,203.00 L1389.74,204.00 L1389.75,205.00 L1389.76,206.00 L1389.76,207.00 L1389.77,208.00 L1389.78,209.00 L1389.78,210.00 L1389.79,211.00 L1389.80,212.00 L1389.80,213.00 L1389.81,214.00 L1389.82,215.00 L1389.82,216.00 L1389.83,217.00 L1389.84,218.00 L1389.85,219.00 L1389.85,220.00 L1389.86,221.00 L1389.87,222.00 L1389.88,223.00 L1389.89,224.00 L1389.90,225.00 L1389.91,226.00 L1389.92,227.00 L1389.92,228.00 L1389.93,229.00 L1389.95,230.00 L1389.96,231.00 L1389.97,232.00 L1389.98,233.00 L1389.99,234.00 L1390.00,235.00 L1390.01,236.00 L1390.03,237.00 L1390.04,238.00 L1390.05,239.00 L1390.06,240.00 L1390.08,241.00 L1390.09,242.00 L1390.11,243.00 L1390.12,244.00 L1390.14,245.00 L1390.15,246.00 L1390.17,247.00 L1390.19,248.00 L1390.20,249.00 L1390.22,250.00 L1390.24,251.00 L1390.26,252.00 L1390.28,253.00 L1390.30,254.00 L1390.32,255.00 L1390.34,256.00 L1390.36,257.00 L1390.38,258.00 L1390.40,259.00 L1390.43,260.00 L1390.45,261.00 L1390.47,262.00 L1390.50,263.00 L1390.52,264.00 L1390.55,265.00 L1390.58,266.00 L1390.60,267.00 L1390.63,268.00 L1390.66,269.00 L1390.69,270.00 L1390.72,271.00 L1390.75,272.00 L1390.78,273.00 L1390.81,274.00 L1390.84,275.00 L1390.87,276.00 L1390.91,277.00 L1390.94,278.00 L1390.98,279.00 L1391.01,280.00 L1391.05,281.00 L1391.09,282.00 L1391.13,283.00 L1391.16,284.00 L1391.20,285.00 L1391.25,286.00 L1391.29,287.00 L1391.33,288.00 L1391.37,289.00 L1391.42,290.00 L1391.46,291.00 L1391.51,292.00 L1391.55,293.00 L1391.60,294.00 L1391.65,295.00 L1391.70,296.00 L1391.75,297.00 L1391.80,298.00 L1391.85,299.00 L1391.90,300.00 L1391.96,301.00 L1392.01,302.00 L1392.07,303.00 L1392.12,304.00 L1392.18,305.00 L1392.24,306.00 L1392.30,307.00 L1392.36,308.00 L1392.42,309.00 L1392.48,310.00 L1392.55,311.00 L1392.61,312.00 L1392.68,313.00 L1392.74,314.00 L1392.81,315.00 L1392.88,316.00 L1392.95,317.00 L1393.02,318.00 L1393.09,319.00 L1393.17,320.00 L1393.24,321.00 L1393.32,322.00 L1393.39,323.00 L1393.47,324.00 L1393.55,325.00 L1393.63,326.00 L1393.71,327.00 L1393.79,328.00 L1393.88,329.00 L1393.96,330.00 L1394.05,331.00 L1394.14,332.00 L1394.23,333.00 L1394.32,334.00 L1394.41,335.00 L1394.50,336.00 L1394.59,337.00 L1394.69,338.00 L1394.78,339.00 L1394.88,340.00 L1394.98,341.00 L1395.08,342.00 L1395.18,343.00 L1395.29,344.00 L1395.39,345.00 L1395.49,346.00 L1395.60,347.00 L1395.71,348.00 L1395.82,349.00 L1395.93,350.00 L1396.04,351.00 L1396.16,352.00 L1396.27,353.00 L1396.39,354.00 L1396.51,355.00 L1396.63,356.00 L1396.75,357.00 L1396.87,358.00 L1397.00,359.00 L1397.12,360.00 L1397.25,361.00 L1397.38,362.00 L1397.51,363.00 L1397.64,364.00 L1397.77,365.00 L1397.91,366.00 L1398.04,367.00 L1398.18,368.00 L1398.32,369.00 L1398.46,370.00 L1398.60,371.00 L1398.74,372.00 L1398.89,373.00 L1399.03,374.00 L1399.17,375.00 L1399.32,376.00 L1399.47,377.00 L1399.61,378.00 L1399.76,379.00 L1399.91,380.00 L1400.06,381.00 L1400.21,382.00 L1400.36,383.00 L1400.51,384.00 L1400.66,385.00 L1400.81,386.00 L1400.97,387.00 L1401.12,388.00 L1401.27,389.00 L1401.42,390.00 L1401.57,391.00 L1401.73,392.00 L1401.88,393.00 L1402.03,394.00 L1402.18,395.00 L1402.34,396.00 L1402.49,397.00 L1402.64,398.00 L1402.79,399.00 L1402.94,400.00 L1403.09,401.00 L1403.24,402.00 L1403.39,403.00 L1403.54,404.00 L1403.68,405.00 L1403.83,406.00 L1403.98,407.00 L1404.12,408.00 L1404.27,409.00 L1404.41,410.00 L1404.55,411.00 L1404.69,412.00 L1404.83,413.00 L1404.97,414.00 L1405.11,415.00 L1405.24,416.00 L1405.38,417.00 L1405.51,418.00 L1405.64,419.00 L1405.78,420.00 L1405.90,421.00 L1406.03,422.00 L1406.16,423.00 L1406.29,424.00 L1406.42,425.00 L1406.55,426.00 L1406.68,427.00 L1406.82,428.00 L1406.96,429.00 L1407.10,430.00 L1407.25,431.00 L1407.40,432.00 L1407.56,433.00 L1407.73,434.00 L1407.90,435.00 L1408.08,436.00 L1408.27,437.00 L1408.47,438.00 L1408.68,439.00 L1408.90,440.00 L1409.12,441.00 L1409.36,442.00 L1409.60,443.00 L1409.85,444.00 L1410.10,445.00 L1410.37,446.00 L1410.64,447.00 L1410.91,448.00 L1411.20,449.00 L1411.49,450.00 L1411.78,451.00 L1412.08,452.00 L1412.39,453.00 L1412.70,454.00 L1413.02,455.00 L1413.34,456.00 L1413.67,457.00 L1414.00,458.00 L1414.33,459.00 L1414.67,460.00 L1415.01,461.00 L1415.35,462.00 L1415.70,463.00 L1416.05,464.00 L1416.40,465.00 L1416.76,466.00 L1417.11,467.00 L1417.47,468.00 L1417.83,469.00 L1418.19,470.00 L1418.55,471.00 L1418.91,472.00 L1419.28,473.00 L1419.64,474.00 L1420.00,475.00 L1420.36,476.00 L1420.72,477.00 L1421.08,478.00 L1421.44,479.00 L1421.80,480.00 L1422.16,481.00 L1422.52,482.00 L1422.88,483.00 L1423.25,484.00 L1423.62,485.00 L1424.00,486.00 L1424.38,487.00 L1424.77,488.00 L1425.18,489.00 L1425.59,490.00 L1426.01,491.00 L1426.45,492.00 L1426.90,493.00 L1427.37,494.00 L1427.85,495.00 L1428.35,496.00 L1428.87,497.00 L1429.40,498.00 L1429.96,499.00 L1430.54,500.00 L1431.14,501.00 L1431.77,502.00 L1432.42,503.00 L1433.09,504.00 L1433.79,505.00 L1434.51,506.00 L1435.24,507.00 L1436.00,508.00 L1436.77,509.00 L1437.56,510.00 L1438.37,511.00 L1439.18,512.00 L1440.01,513.00 L1440.85,514.00 L1441.70,515.00 L1442.56,516.00 L1443.42,517.00 L1444.29,518.00 L1445.16,519.00 L1446.04,520.00 L1446.91,521.00 L1447.79,522.00 L1448.66,523.00 L1449.52,524.00 L1450.38,525.00 L1451.23,526.00 L1452.08,527.00 L1452.91,528.00 L1453.73,529.00 L1454.53,530.00 L1455.31,531.00 L1456.08,532.00 L1456.84,533.00 L1457.57,534.00 L1458.29,535.00 L1458.99,536.00 L1459.67,537.00 L1460.33,538.00 L1460.97,539.00 L1461.60,540.00 L1462.20,541.00 L1462.79,542.00 L1463.36,543.00 L1463.90,544.00 L1464.43,545.00 L1464.94,546.00 L1465.43,547.00 L1465.90,548.00 L1466.34,549.00 L1466.77,550.00 L1467.17,551.00 L1467.56,552.00 L1467.92,553.00 L1468.26,554.00 L1468.58,555.00 L1468.88,556.00 L1469.15,557.00 L1469.40,558.00 L1469.63,559.00 L1469.84,560.00 L1470.03,561.00 L1470.19,562.00 L1470.33,563.00 L1470.44,564.00 L1470.53,565.00 L1470.60,566.00 L1470.64,567.00 L1470.66,568.00 L1470.65,569.00 L1470.62,570.00 L1470.57,571.00 L1470.49,572.00 L1470.38,573.00 L1470.25,574.00 L1470.10,575.00 L1469.92,576.00 L1469.72,577.00 L1469.49,578.00 L1469.24,579.00 L1468.96,580.00 L1468.66,581.00 L1468.33,582.00 L1467.98,583.00 L1467.60,584.00 L1467.20,585.00 L1466.77,586.00 L1466.32,587.00 L1465.84,588.00 L1465.34,589.00 L1464.81,590.00 L1464.25,591.00 L1463.67,592.00 L1463.07,593.00 L1462.44,594.00 L1461.78,595.00 L1461.10,596.00 L1460.39,597.00 L1459.66,598.00 L1458.90,599.00 L1458.12,600.00 L1457.32,601.00 L1456.50,602.00 L1455.65,603.00 L1454.80,604.00 L1453.92,605.00 L1453.03,606.00 L1452.13,607.00 L1451.22,608.00 L1450.30,609.00 L1449.37,610.00 L1448.43,611.00 L1447.49,612.00 L1446.54,613.00 L1445.59,614.00 L1444.64,615.00 L1443.69,616.00 L1442.75,617.00 L1441.80,618.00 L1440.86,619.00 L1439.93,620.00 L1439.01,621.00 L1438.10,622.00 L1437.19,623.00 L1436.30,624.00 L1435.43,625.00 L1435.08,625.40 L1388.70,625.40 Z" fill="#b5b5b5" fill-opacity="0.5" stroke="none"/>
<path d="M1389.07,142.00 L1389.09,143.00 L1389.11,144.00 L1389.13,145.00 L1389.15,146.00 L1389.17,147.00 L1389.19,148.00 L1389.20,149.00 L1389.22,150.00 L1389.24,151.00 L1389.26,152.00 L1389.27,153.00 L1389.29,154.00 L1389.31,155.00 L1389.32,156.00 L1389.34,157.00 L1389.35,158.00 L1389.36,159.00 L1389.38,160.00 L1389.39,161.00 L1389.40,162.00 L1389.42,163.00 L1389.43,164.00 L1389.44,165.00 L1389.45,166.00 L1389.46,167.00 L1389.47,168.00 L1389.49,169.00 L1389.50,170.00 L1389.51,171.00 L1389.52,172.00 L1389.53,173.00 L1389.53,174.00 L1389.54,175.00 L1389.55,176.00 L1389.56,177.00 L1389.57,178.00 L1389.58,179.00 L1389.59,180.00 L1389.59,181.00 L1389.60,182.00 L1389.61,183.00 L1389.62,184.00 L1389.62,185.00 L1389.63,186.00 L1389.64,187.00 L1389.64,188.00 L1389.65,189.00 L1389.66,190.00 L1389.66,191.00 L1389.67,192.00 L1389.68,193.00 L1389.68,194.00 L1389.69,195.00 L1389.69,196.00 L1389.70,197.00 L1389.71,198.00 L1389.71,199.00 L1389.72,200.00 L1389.73,201.00 L1389.73,202.00 L1389.74,203.00 L1389.74,204.00 L1389.75,205.00 L1389.76,206.00 L1389.76,207.00 L1389.77,208.00 L1389.78,209.00 L1389.78,210.00 L1389.79,211.00 L1389.80,212.00 L1389.80,213.00 L1389.81,214.00 L1389.82,215.00 L1389.82,216.00 L1389.83,217.00 L1389.84,218.00 L1389.85,219.00 L1389.85,220.00 L1389.86,221.00 L1389.87,222.00 L1389.88,223.00 L1389.89,224.00 L1389.90,225.00 L1389.91,226.00 L1389.92,227.00 L1389.92,228.00 L1389.93,229.00 L1389.95,230.00 L1389.96,231.00 L1389.97,232.00 L1389.98,233.00 L1389.99,234.00 L1390.00,235.00 L1390.01,236.00 L1390.03,237.00 L1390.04,238.00 L1390.05,239.00 L1390.06,240.00 L1390.08,241.00 L1390.09,242.00 L1390.11,243.00 L1390.12,244.00 L1390.14,245.00 L1390.15,246.00 L1390.17,247.00 L1390.19,248.00 L1390.20,249.00 L1390.22,250.00 L1390.24,251.00 L1390.26,252.00 L1390.28,253.00 L1390.30,254.00 L1390.32,255.00 L1390.34,256.00 L1390.36,257.00 L1390.38,258.00 L1390.40,259.00 L1390.43,260.00 L1390.45,261.00 L1390.47,262.00 L1390.50,263.00 L1390.52,264.00 L1390.55,265.00 L1390.58,266.00 L1390.60,267.00 L1390.63,268.00 L1390.66,269.00 L1390.69,270.00 L1390.72,271.00 L1390.75,272.00 L1390.78,273.00 L1390.81,274.00 L1390.84,275.00 L1390.87,276.00 L1390.91,277.00 L1390.94,278.00 L1390.98,279.00 L1391.01,280.00 L1391.05,281.00 L1391.09,282.00 L1391.13,283.00 L1391.16,284.00 L1391.20,285.00 L1391.25,286.00 L1391.29,287.00 L1391.33,288.00 L1391.37,289.00 L1391.42,290.00 L1391.46,291.00 L1391.51,292.00 L1391.55,293.00 L1391.60,294.00 L1391.65,295.00 L1391.70,296.00 L1391.75,297.00 L1391.80,298.00 L1391.85,299.00 L1391.90,300.00 L1391.96,301.00 L1392.01,302.00 L1392.07,303.00 L1392.12,304.00 L1392.18,305.00 L1392.24,306.00 L1392.30,307.00 L1392.36,308.00 L1392.42,309.00 L1392.48,310.00 L1392.55,311.00 L1392.61,312.00 L1392.68,313.00 L1392.74,314.00 L1392.81,315.00 L1392.88,316.00 L1392.95,317.00 L1393.02,318.00 L1393.09,319.00 L1393.17,320.00 L1393.24,321.00 L1393.32,322.00 L1393.39,323.00 L1393.47,324.00 L1393.55,325.00 L1393.63,326.00 L1393.71,327.00 L1393.79,328.00 L1393.88,329.00 L1393.96,330.00 L1394.05,331.00 L1394.14,332.00 L1394.23,333.00 L1394.32,334.00 L1394.41,335.00 L1394.50,336.00 L1394.59,337.00 L1394.69,338.00 L1394.78,339.00 L1394.88,340.00 L1394.98,341.00 L1395.08,342.00 L1395.18,343.00 L1395.29,344.00 L1395.39,345.00 L1395.49,346.00 L1395.60,347.00 L1395.71,348.00 L1395.82,349.00 L1395.93,350.00 L1396.04,351.00 L1396.16,352.00 L1396.27,353.00 L1396.39,354.00 L1396.51,355.00 L1396.63,356.00 L1396.75,357.00 L1396.87,358.00 L1397.00,359.00 L1397.12,360.00 L1397.25,361.00 L1397.38,362.00 L1397.51,363.00 L1397.64,364.00 L1397.77,365.00 L1397.91,366.00 L1398.04,367.00 L1398.18,368.00 L1398.32,369.00 L1398.46,370.00 L1398.60,371.00 L1398.74,372.00 L1398.89,373.00 L1399.03,374.00 L1399.17,375.00 L1399.32,376.00 L1399.47,377.00 L1399.61,378.00 L1399.76,379.00 L1399.91,380.00 L1400.06,381.00 L1400.21,382.00 L1400.36,383.00 L1400.51,384.00 L1400.66,385.00 L1400.81,386.00 L1400.97,387.00 L1401.12,388.00 L1401.27,389.00 L1401.42,390.00 L1401.57,391.00 L1401.73,392.00 L1401.88,393.00 L1402.03,394.00 L1402.18,395.00 L1402.34,396.00 L1402.49,397.00 L1402.64,398.00 L1402.79,399.00 L1402.94,400.00 L1403.09,401.00 L1403.24,402.00 L1403.39,403.00 L1403.54,404.00 L1403.68,405.00 L1403.83,406.00 L1403.98,407.00 L1404.12,408.00 L1404.27,409.00 L1404.41,410.00 L1404.55,411.00 L1404.69,412.00 L1404.83,413.00 L1404.97,414.00 L1405.11,415.00 L1405.24,416.00 L1405.38,417.00 L1405.51,418.00 L1405.64,419.00 L1405.78,420.00 L1405.90,421.00 L1406.03,422.00 L1406.16,423.00 L1406.29,424.00 L1406.42,425.00 L1406.55,426.00 L1406.68,427.00 L1406.82,428.00 L1406.96,429.00 L1407.10,430.00 L1407.25,431.00 L1407.40,432.00 L1407.56,433.00 L1407.73,434.00 L1407.90,435.00 L1408.08,436.00 L1408.27,437.00 L1408.47,438.00 L1408.68,439.00 L1408.90,440.00 L1409.12,441.00 L1409.36,442.00 L1409.60,443.00 L1409.85,444.00 L1410.10,445.00 L1410.37,446.00 L1410.64,447.00 L1410.91,448.00 L1411.20,449.00 L1411.49,450.00 L1411.78,451.00 L1412.08,452.00 L1412.39,453.00 L1412.70,454.00 L1413.02,455.00 L1413.34,456.00 L1413.67,457.00 L1414.00,458.00 L1414.33,459.00 L1414.67,460.00 L1415.01,461.00 L1415.35,462.00 L1415.70,463.00 L1416.05,464.00 L1416.40,465.00 L1416.76,466.00 L1417.11,467.00 L1417.47,468.00 L1417.83,469.00 L1418.19,470.00 L1418.55,471.00 L1418.91,472.00 L1419.28,473.00 L1419.64,474.00 L1420.00,475.00 L1420.36,476.00 L1420.72,477.00 L1421.08,478.00 L1421.44,479.00 L1421.80,480.00 L1422.16,481.00 L1422.52,482.00 L1422.88,483.00 L1423.25,484.00 L1423.62,485.00 L1424.00,486.00 L1424.38,487.00 L1424.77,488.00 L1425.18,489.00 L1425.59,490.00 L1426.01,491.00 L1426.45,492.00 L1426.90,493.00 L1427.37,494.00 L1427.85,495.00 L1428.35,496.00 L1428.87,497.00 L1429.40,498.00 L1429.96,499.00 L1430.54,500.00 L1431.14,501.00 L1431.77,502.00 L1432.42,503.00 L1433.09,504.00 L1433.79,505.00 L1434.51,506.00 L1435.24,507.00 L1436.00,508.00 L1436.77,509.00 L1437.56,510.00 L1438.37,511.00 L1439.18,512.00 L1440.01,513.00 L1440.85,514.00 L1441.70,515.00 L1442.56,516.00 L1443.42,517.00 L1444.29,518.00 L1445.16,519.00 L1446.04,520.00 L1446.91,521.00 L1447.79,522.00 L1448.66,523.00 L1449.52,524.00 L1450.38,525.00 L1451.23,526.00 L1452.08,527.00 L1452.91,528.00 L1453.73,529.00 L1454.53,530.00 L1455.31,531.00 L1456.08,532.00 L1456.84,533.00 L1457.57,534.00 L1458.29,535.00 L1458.99,536.00 L1459.67,537.00 L1460.33,538.00 L1460.97,539.00 L1461.60,540.00 L1462.20,541.00 L1462.79,542.00 L1463.36,543.00 L1463.90,544.00 L1464.43,545.00 L1464.94,546.00 L1465.43,547.00 L1465.90,548.00 L1466.34,549.00 L1466.77,550.00 L1467.17,551.00 L1467.56,552.00 L1467.92,553.00 L1468.26,554.00 L1468.58,555.00 L1468.88,556.00 L1469.15,557.00 L1469.40,558.00 L1469.63,559.00 L1469.84,560.00 L1470.03,561.00 L1470.19,562.00 L1470.33,563.00 L1470.44,564.00 L1470.53,565.00 L1470.60,566.00 L1470.64,567.00 L1470.66,568.00 L1470.65,569.00 L1470.62,570.00 L1470.57,571.00 L1470.49,572.00 L1470.38,573.00 L1470.25,574.00 L1470.10,575.00 L1469.92,576.00 L1469.72,577.00 L1469.49,578.00 L1469.24,579.00 L1468.96,580.00 L1468.66,581.00 L1468.33,582.00 L1467.98,583.00 L1467.60,584.00 L1467.20,585.00 L1466.77,586.00 L1466.32,587.00 L1465.84,588.00 L1465.34,589.00 L1464.81,590.00 L1464.25,591.00 L1463.67,592.00 L1463.07,593.00 L1462.44,594.00 L1461.78,595.00 L1461.10,596.00 L1460.39,597.00 L1459.66,598.00 L1458.90,599.00 L1458.12,600.00 L1457.32,601.00 L1456.50,602.00 L1455.65,603.00 L1454.80,604.00 L1453.92,605.00 L1453.03,606.00 L1452.13,607.00 L1451.22,608.00 L1450.30,609.00 L1449.37,610.00 L1448.43,611.00 L1447.49,612.00 L1446.54,613.00 L1445.59,614.00 L1444.64,615.00 L1443.69,616.00 L1442.75,617.00 L1441.80,618.00 L1440.86,619.00 L1439.93,620.00 L1439.01,621.00 L1438.10,622.00 L1437.19,623.00 L1436.30,624.00 L1435.43,625.00 L1435.08,625.40" fill="none" stroke="#b0b0b0" stroke-width="2.2" stroke-linejoin="round"/>
<line x1="1388.70" y1="118.60" x2="1388.70" y2="626.60" stroke="#000" stroke-width="1.8"/>
<line x1="1380.00" y1="625.80" x2="1388.70" y2="625.80" stroke="#000" stroke-width="1.6"/>
<line x1="1380.00" y1="562.00" x2="1388.70" y2="562.00" stroke="#000" stroke-width="1.6"/>
<line x1="1380.00" y1="498.20" x2="1388.70" y2="498.20" stroke="#000" stroke-width="1.6"/>
<line x1="1380.00" y1="434.40" x2="1388.70" y2="434.40" stroke="#000" stroke-width="1.6"/>
<line x1="1380.00" y1="370.60" x2="1388.70" y2="370.60" stroke="#000" stroke-width="1.6"/>
<line x1="1380.00" y1="306.80" x2="1388.70" y2="306.80" stroke="#000" stroke-width="1.6"/>
<line x1="1380.00" y1="243.00" x2="1388.70" y2="243.00" stroke="#000" stroke-width="1.6"/>
<line x1="1380.00" y1="179.20" x2="1388.70" y2="179.20" stroke="#000" stroke-width="1.6"/>
<line x1="1388.7" y1="425.2" x2="1480" y2="425.2" stroke="#000" stroke-width="3.6" stroke-dasharray="14.3 6.2"/>
<rect x="886.8" y="128.5" width="279.5" height="88.2" rx="4" ry="4" fill="#fff" fill-opacity="0.8" stroke="#c4c4c4" stroke-opacity="0.85" stroke-width="2.4"/>
<text x="1023.00" y="151.60" font-size="23.7" text-anchor="middle" fill="#000" textLength="127.0" lengthAdjust="spacingAndGlyphs">Community</text>
<circle cx="911.7" cy="175.3" r="8.9" fill="#bbbbbb" fill-opacity="0.5"/>
<circle cx="911.7" cy="175.3" r="7.65" fill="none" stroke="#bbbbbb" stroke-opacity="0.5" stroke-width="2.5"/>
<circle cx="911.7" cy="201.8" r="8.9" fill="#1e1e1e" fill-opacity="0.5"/>
<circle cx="911.7" cy="201.8" r="7.65" fill="none" stroke="#1e1e1e" stroke-opacity="0.5" stroke-width="2.5"/>
<text x="945.20" y="180.00" font-size="17.7" text-anchor="start" fill="#000" textLength="185.3" lengthAdjust="spacingAndGlyphs">MHQ random (N=110)</text>
<text x="945.20" y="206.60" font-size="17.7" text-anchor="start" fill="#000" textLength="192.7" lengthAdjust="spacingAndGlyphs">MHQ co-activity (N=95)</text>
<rect x="888.2" y="220.8" width="180.5" height="126.2" rx="4" ry="4" fill="#fff" fill-opacity="0.8" stroke="#c4c4c4" stroke-opacity="0.85" stroke-width="2.4"/>
<rect x="896.30" y="229.70" width="40.70" height="13.60" fill="#0173b2" stroke="none" stroke-width="0" fill-opacity="0.4"/>
<text x="954.70" y="243.10" font-size="20.5" text-anchor="start" fill="#000" textLength="90.3" lengthAdjust="spacingAndGlyphs">LPD - LCP</text>
<rect x="896.30" y="260.10" width="40.70" height="13.60" fill="#029e73" stroke="none" stroke-width="0" fill-opacity="0.4"/>
<text x="954.70" y="273.50" font-size="20.5" text-anchor="start" fill="#000" textLength="94.4" lengthAdjust="spacingAndGlyphs">LPD - HCP</text>
<rect x="896.30" y="290.00" width="40.70" height="13.60" fill="#d55e00" stroke="none" stroke-width="0" fill-opacity="0.4"/>
<text x="954.70" y="303.40" font-size="20.5" text-anchor="start" fill="#000" textLength="94.4" lengthAdjust="spacingAndGlyphs">HPD - LCP</text>
<rect x="896.30" y="320.40" width="40.70" height="13.60" fill="#cc78bc" stroke="none" stroke-width="0" fill-opacity="0.4"/>
<text x="954.70" y="333.80" font-size="20.5" text-anchor="start" fill="#000" textLength="99.6" lengthAdjust="spacingAndGlyphs">HPD - HCP</text>
<rect x="181.72" y="1124.05" width="29.82" height="111.45" fill="#cc78bc" stroke="#000" stroke-width="2.5" fill-opacity="0.5"/>
<rect x="211.54" y="1198.35" width="29.82" height="37.15" fill="#cc78bc" stroke="#000" stroke-width="2.5" fill-opacity="0.5"/>
<rect x="241.36" y="1198.35" width="29.82" height="37.15" fill="#cc78bc" stroke="#000" stroke-width="2.5" fill-opacity="0.5"/>
<rect x="271.18" y="1198.35" width="29.82" height="37.15" fill="#cc78bc" stroke="#000" stroke-width="2.5" fill-opacity="0.5"/>
<rect x="301.00" y="1198.35" width="29.82" height="37.15" fill="#cc78bc" stroke="#000" stroke-width="2.5" fill-opacity="0.5"/>
<rect x="330.82" y="1198.35" width="29.82" height="37.15" fill="#cc78bc" stroke="#000" stroke-width="2.5" fill-opacity="0.5"/>
<rect x="151.90" y="1161.20" width="29.82" height="74.30" fill="#d55e00" stroke="#000" stroke-width="2.5" fill-opacity="0.5"/>
<rect x="181.72" y="1124.05" width="29.82" height="111.45" fill="#d55e00" stroke="#000" stroke-width="2.5" fill-opacity="0.5"/>
<rect x="211.54" y="1198.35" width="29.82" height="37.15" fill="#d55e00" stroke="#000" stroke-width="2.5" fill-opacity="0.5"/>
<rect x="241.36" y="1086.90" width="29.82" height="148.60" fill="#d55e00" stroke="#000" stroke-width="2.5" fill-opacity="0.5"/>
<rect x="271.18" y="1012.60" width="29.82" height="222.90" fill="#d55e00" stroke="#000" stroke-width="2.5" fill-opacity="0.5"/>
<rect x="301.00" y="1198.35" width="29.82" height="37.15" fill="#d55e00" stroke="#000" stroke-width="2.5" fill-opacity="0.5"/>
<rect x="330.82" y="1161.20" width="29.82" height="74.30" fill="#d55e00" stroke="#000" stroke-width="2.5" fill-opacity="0.5"/>
<rect x="360.64" y="975.45" width="29.82" height="260.05" fill="#d55e00" stroke="#000" stroke-width="2.5" fill-opacity="0.5"/>
<rect x="390.46" y="1124.05" width="29.82" height="111.45" fill="#d55e00" stroke="#000" stroke-width="2.5" fill-opacity="0.5"/>
<rect x="420.28" y="1161.20" width="29.82" height="74.30" fill="#d55e00" stroke="#000" stroke-width="2.5" fill-opacity="0.5"/>
<rect x="479.92" y="1198.35" width="29.82" height="37.15" fill="#d55e00" stroke="#000" stroke-width="2.5" fill-opacity="0.5"/>
<rect x="509.74" y="1198.35" width="29.82" height="37.15" fill="#d55e00" stroke="#000" stroke-width="2.5" fill-opacity="0.5"/>
<rect x="151.90" y="1086.90" width="29.82" height="148.60" fill="#029e73" stroke="#000" stroke-width="2.5" fill-opacity="0.5"/>
<rect x="181.72" y="1161.20" width="29.82" height="74.30" fill="#029e73" stroke="#000" stroke-width="2.5" fill-opacity="0.5"/>
<rect x="360.64" y="1198.35" width="29.82" height="37.15" fill="#029e73" stroke="#000" stroke-width="2.5" fill-opacity="0.5"/>
<rect x="151.90" y="901.15" width="29.82" height="334.35" fill="#0173b2" stroke="#000" stroke-width="2.5" fill-opacity="0.5"/>
<rect x="181.72" y="1012.60" width="29.82" height="222.90" fill="#0173b2" stroke="#000" stroke-width="2.5" fill-opacity="0.5"/>
<rect x="211.54" y="1049.75" width="29.82" height="185.75" fill="#0173b2" stroke="#000" stroke-width="2.5" fill-opacity="0.5"/>
<rect x="241.36" y="826.85" width="29.82" height="408.65" fill="#0173b2" stroke="#000" stroke-width="2.5" fill-opacity="0.5"/>
<rect x="271.18" y="1012.60" width="29.82" height="222.90" fill="#0173b2" stroke="#000" stroke-width="2.5" fill-opacity="0.5"/>
<rect x="301.00" y="1049.75" width="29.82" height="185.75" fill="#0173b2" stroke="#000" stroke-width="2.5" fill-opacity="0.5"/>
<rect x="330.82" y="1198.35" width="29.82" height="37.15" fill="#0173b2" stroke="#000" stroke-width="2.5" fill-opacity="0.5"/>
<rect x="360.64" y="1161.20" width="29.82" height="74.30" fill="#0173b2" stroke="#000" stroke-width="2.5" fill-opacity="0.5"/>
<rect x="450.10" y="1198.35" width="29.82" height="37.15" fill="#0173b2" stroke="#000" stroke-width="2.5" fill-opacity="0.5"/>
<rect x="718.48" y="1198.35" width="29.82" height="37.15" fill="#0173b2" stroke="#000" stroke-width="2.5" fill-opacity="0.5"/>
<path d="M151.10,1213.94 L152.60,1212.59 L154.10,1211.28 L155.60,1210.02 L157.10,1208.80 L158.60,1207.61 L160.10,1206.47 L161.60,1205.36 L163.10,1204.30 L164.60,1203.27 L166.10,1202.28 L167.60,1201.33 L169.10,1200.42 L170.60,1199.54 L172.10,1198.71 L173.60,1197.90 L175.10,1197.14 L176.60,1196.41 L178.10,1195.71 L179.60,1195.05 L181.10,1194.43 L182.60,1193.84 L184.10,1193.28 L185.60,1192.76 L187.10,1192.27 L188.60,1191.81 L190.10,1191.38 L191.60,1190.99 L193.10,1190.63 L194.60,1190.30 L196.10,1190.00 L197.60,1189.73 L199.10,1189.50 L200.60,1189.29 L202.10,1189.11 L203.60,1188.96 L205.10,1188.84 L206.60,1188.75 L208.10,1188.68 L209.60,1188.65 L211.10,1188.64 L212.60,1188.65 L214.10,1188.70 L215.60,1188.77 L217.10,1188.86 L218.60,1188.97 L220.10,1189.10 L221.60,1189.26 L223.10,1189.43 L224.60,1189.61 L226.10,1189.82 L227.60,1190.03 L229.10,1190.26 L230.60,1190.49 L232.10,1190.74 L233.60,1190.99 L235.10,1191.25 L236.60,1191.51 L238.10,1191.78 L239.60,1192.04 L241.10,1192.31 L242.60,1192.58 L244.10,1192.84 L245.60,1193.11 L247.10,1193.37 L248.60,1193.64 L250.10,1193.90 L251.60,1194.16 L253.10,1194.42 L254.60,1194.68 L256.10,1194.94 L257.60,1195.20 L259.10,1195.45 L260.60,1195.71 L262.10,1195.96 L263.60,1196.21 L265.10,1196.47 L266.60,1196.71 L268.10,1196.96 L269.60,1197.21 L271.10,1197.45 L272.60,1197.69 L274.10,1197.93 L275.60,1198.17 L277.10,1198.41 L278.60,1198.64 L280.10,1198.87 L281.60,1199.10 L283.10,1199.33 L284.60,1199.56 L286.10,1199.78 L287.60,1200.00 L289.10,1200.22 L290.60,1200.44 L292.10,1200.66 L293.60,1200.87 L295.10,1201.09 L296.60,1201.31 L298.10,1201.52 L299.60,1201.74 L301.10,1201.96 L302.60,1202.18 L304.10,1202.40 L305.60,1202.63 L307.10,1202.86 L308.60,1203.09 L310.10,1203.32 L311.60,1203.56 L313.10,1203.81 L314.60,1204.05 L316.10,1204.31 L317.60,1204.57 L319.10,1204.83 L320.60,1205.11 L322.10,1205.38 L323.60,1205.67 L325.10,1205.96 L326.60,1206.27 L328.10,1206.58 L329.60,1206.89 L331.10,1207.22 L332.60,1207.56 L334.10,1207.91 L335.60,1208.26 L337.10,1208.63 L338.60,1209.01 L340.10,1209.40 L341.60,1209.81 L343.10,1210.22 L344.60,1210.65 L346.10,1211.09 L347.60,1211.54 L349.10,1212.01 L350.60,1212.49 L352.10,1212.98 L353.60,1213.48 L355.10,1213.99 L356.60,1214.50 L358.10,1215.03 L359.60,1215.56 L361.10,1216.09 L362.60,1216.63 L364.10,1217.17 L365.60,1217.71 L367.10,1218.25 L368.60,1218.79 L370.10,1219.34 L371.60,1219.88 L373.10,1220.41 L374.60,1220.94 L376.10,1221.47 L377.60,1221.99 L379.10,1222.50 L380.60,1223.01 L382.10,1223.51 L383.60,1223.99 L385.10,1224.47 L386.60,1224.94 L388.10,1225.40 L389.60,1225.85 L391.10,1226.29 L392.60,1226.72 L394.10,1227.14 L395.60,1227.54 L397.10,1227.94 L398.60,1228.33 L400.10,1228.70 L401.60,1229.07 L403.10,1229.42 L404.60,1229.76 L406.10,1230.09 L407.60,1230.41 L409.10,1230.72 L410.60,1231.01 L412.10,1231.29 L413.60,1231.56 L415.10,1231.81 L416.60,1232.06 L418.10,1232.29 L419.60,1232.50 L421.10,1232.70 L422.60,1232.89 L424.10,1233.07 L425.60,1233.23 L427.10,1233.39 L428.60,1233.53 L430.10,1233.66 L431.60,1233.78 L433.10,1233.89 L434.60,1233.99 L436.10,1234.08 L437.60,1234.16 L439.10,1234.24 L440.60,1234.31 L442.10,1234.37 L443.60,1234.42 L445.10,1234.47 L446.60,1234.52 L448.10,1234.56 L449.60,1234.59 L451.10,1234.62 L452.60,1234.65 L454.10,1234.67 L455.60,1234.70 L457.10,1234.72 L458.60,1234.73 L460.10,1234.75 L461.60,1234.77 L463.10,1234.79 L464.60,1234.80 L466.10,1234.82 L467.60,1234.84 L469.10,1234.86 L470.60,1234.89 L472.10,1234.92 L473.60,1234.95 L475.10,1234.98 L476.60,1235.02 L478.10,1235.07 L479.60,1235.12 L480.00,1235.13" fill="none" stroke="#cc78bc" stroke-width="3.3" stroke-linejoin="round"/>
<path d="M150.90,1194.48 L152.40,1193.13 L153.90,1191.80 L155.40,1190.49 L156.90,1189.20 L158.40,1187.93 L159.90,1186.68 L161.40,1185.44 L162.90,1184.21 L164.40,1183.00 L165.90,1181.80 L167.40,1180.62 L168.90,1179.45 L170.40,1178.28 L171.90,1177.13 L173.40,1175.99 L174.90,1174.85 L176.40,1173.73 L177.90,1172.61 L179.40,1171.49 L180.90,1170.38 L182.40,1169.28 L183.90,1168.17 L185.40,1167.07 L186.90,1165.98 L188.40,1164.88 L189.90,1163.78 L191.40,1162.68 L192.90,1161.58 L194.40,1160.48 L195.90,1159.38 L197.40,1158.27 L198.90,1157.15 L200.40,1156.03 L201.90,1154.90 L203.40,1153.77 L204.90,1152.63 L206.40,1151.47 L207.90,1150.31 L209.40,1149.14 L210.90,1147.95 L212.40,1146.76 L213.90,1145.55 L215.40,1144.33 L216.90,1143.10 L218.40,1141.87 L219.90,1140.63 L221.40,1139.39 L222.90,1138.15 L224.40,1136.92 L225.90,1135.68 L227.40,1134.46 L228.90,1133.24 L230.40,1132.02 L231.90,1130.83 L233.40,1129.64 L234.90,1128.47 L236.40,1127.32 L237.90,1126.19 L239.40,1125.07 L240.90,1123.99 L242.40,1122.92 L243.90,1121.89 L245.40,1120.88 L246.90,1119.91 L248.40,1118.96 L249.90,1118.06 L251.40,1117.19 L252.90,1116.36 L254.40,1115.57 L255.90,1114.81 L257.40,1114.09 L258.90,1113.41 L260.40,1112.76 L261.90,1112.15 L263.40,1111.56 L264.90,1111.01 L266.40,1110.48 L267.90,1109.98 L269.40,1109.51 L270.90,1109.06 L272.40,1108.64 L273.90,1108.24 L275.40,1107.86 L276.90,1107.50 L278.40,1107.16 L279.90,1106.83 L281.40,1106.53 L282.90,1106.23 L284.40,1105.95 L285.90,1105.69 L287.40,1105.43 L288.90,1105.18 L290.40,1104.94 L291.90,1104.71 L293.40,1104.49 L294.90,1104.27 L296.40,1104.05 L297.90,1103.83 L299.40,1103.62 L300.90,1103.40 L302.40,1103.18 L303.90,1102.96 L305.40,1102.74 L306.90,1102.52 L308.40,1102.29 L309.90,1102.06 L311.40,1101.84 L312.90,1101.61 L314.40,1101.39 L315.90,1101.17 L317.40,1100.96 L318.90,1100.75 L320.40,1100.55 L321.90,1100.35 L323.40,1100.17 L324.90,1099.99 L326.40,1099.82 L327.90,1099.66 L329.40,1099.51 L330.90,1099.38 L332.40,1099.25 L333.90,1099.15 L335.40,1099.05 L336.90,1098.98 L338.40,1098.91 L339.90,1098.87 L341.40,1098.85 L342.90,1098.84 L344.40,1098.86 L345.90,1098.89 L347.40,1098.95 L348.90,1099.03 L350.40,1099.14 L351.90,1099.27 L353.40,1099.42 L354.90,1099.60 L356.40,1099.81 L357.90,1100.05 L359.40,1100.31 L360.90,1100.61 L362.40,1100.94 L363.90,1101.29 L365.40,1101.69 L366.90,1102.11 L368.40,1102.57 L369.90,1103.06 L371.40,1103.59 L372.90,1104.16 L374.40,1104.77 L375.90,1105.41 L377.40,1106.10 L378.90,1106.82 L380.40,1107.59 L381.90,1108.39 L383.40,1109.25 L384.90,1110.14 L386.40,1111.08 L387.90,1112.07 L389.40,1113.11 L390.90,1114.20 L392.40,1115.34 L393.90,1116.53 L395.40,1117.77 L396.90,1119.08 L398.40,1120.44 L399.90,1121.86 L401.40,1123.34 L402.90,1124.88 L404.40,1126.48 L405.90,1128.16 L407.40,1129.89 L408.90,1131.67 L410.40,1133.51 L411.90,1135.38 L413.40,1137.30 L414.90,1139.24 L416.40,1141.21 L417.90,1143.20 L419.40,1145.20 L420.90,1147.21 L422.40,1149.22 L423.90,1151.22 L425.40,1153.21 L426.90,1155.19 L428.40,1157.14 L429.90,1159.06 L431.40,1160.95 L432.90,1162.80 L434.40,1164.60 L435.90,1166.35 L437.40,1168.05 L438.90,1169.69 L440.40,1171.28 L441.90,1172.82 L443.40,1174.32 L444.90,1175.76 L446.40,1177.16 L447.90,1178.51 L449.40,1179.83 L450.90,1181.10 L452.40,1182.33 L453.90,1183.52 L455.40,1184.67 L456.90,1185.79 L458.40,1186.87 L459.90,1187.92 L461.40,1188.93 L462.90,1189.92 L464.40,1190.88 L465.90,1191.81 L467.40,1192.71 L468.90,1193.59 L470.40,1194.44 L471.90,1195.27 L473.40,1196.08 L474.90,1196.87 L476.40,1197.64 L477.90,1198.40 L479.40,1199.14 L480.90,1199.86 L482.40,1200.57 L483.90,1201.27 L485.40,1201.95 L486.90,1202.61 L488.40,1203.27 L489.90,1203.90 L491.40,1204.53 L492.90,1205.14 L494.40,1205.74 L495.90,1206.33 L497.40,1206.91 L498.90,1207.47 L500.40,1208.02 L501.90,1208.57 L503.40,1209.10 L504.90,1209.62 L506.40,1210.13 L507.90,1210.63 L509.40,1211.12 L510.90,1211.60 L512.40,1212.07 L513.90,1212.53 L515.40,1212.99 L516.90,1213.44 L518.40,1213.87 L519.90,1214.31 L521.40,1214.73 L522.90,1215.15 L524.40,1215.56 L525.90,1215.96 L527.40,1216.36 L528.90,1216.75 L530.40,1217.14 L531.90,1217.52 L533.40,1217.90 L534.90,1218.27 L536.40,1218.64 L537.90,1219.00 L539.40,1219.36 L540.90,1219.72 L542.40,1220.07 L543.90,1220.42 L545.40,1220.77 L546.90,1221.12 L548.40,1221.46 L549.90,1221.81 L551.40,1222.15 L552.90,1222.49 L554.40,1222.83 L555.90,1223.17 L557.40,1223.51 L558.90,1223.85 L560.40,1224.19 L561.90,1224.53 L563.40,1224.87 L564.90,1225.21 L566.40,1225.55 L567.90,1225.89 L569.40,1226.23 L570.90,1226.57 L572.40,1226.91 L573.90,1227.24 L575.40,1227.57 L576.90,1227.91 L578.40,1228.23 L579.90,1228.56 L581.40,1228.88 L582.90,1229.20 L584.40,1229.51 L585.90,1229.82 L587.40,1230.13 L588.90,1230.43 L590.40,1230.73 L591.90,1231.02 L593.40,1231.31 L594.90,1231.59 L596.40,1231.86 L597.90,1232.13 L599.40,1232.39 L600.90,1232.64 L602.40,1232.88 L603.90,1233.12 L605.40,1233.35 L606.90,1233.58 L608.40,1233.79 L609.90,1233.99 L611.40,1234.19 L612.90,1234.37 L614.40,1234.55 L615.90,1234.72 L617.40,1234.87 L618.90,1235.02 L620.40,1235.15 L621.90,1235.20 L623.40,1235.20 L624.90,1235.20 L626.40,1235.20 L627.90,1235.20 L629.40,1235.20 L630.90,1235.20 L632.40,1235.20 L633.90,1235.20 L635.40,1235.20 L636.90,1235.20 L638.40,1235.20 L639.90,1235.20 L641.40,1235.20 L642.90,1235.20 L644.40,1235.20 L645.90,1235.20 L647.40,1235.20 L648.90,1235.20 L650.00,1235.13" fill="none" stroke="#d55e00" stroke-width="3.3" stroke-linejoin="round"/>
<path d="M150.50,1192.44 L152.00,1191.74 L153.50,1191.09 L155.00,1190.50 L156.50,1189.96 L158.00,1189.47 L159.50,1189.04 L161.00,1188.66 L162.50,1188.32 L164.00,1188.03 L165.50,1187.79 L167.00,1187.60 L168.50,1187.45 L170.00,1187.35 L171.50,1187.29 L173.00,1187.27 L174.50,1187.29 L176.00,1187.35 L177.50,1187.44 L179.00,1187.58 L180.50,1187.75 L182.00,1187.96 L183.50,1188.20 L185.00,1188.48 L186.50,1188.79 L188.00,1189.13 L189.50,1189.50 L191.00,1189.90 L192.50,1190.32 L194.00,1190.78 L195.50,1191.26 L197.00,1191.76 L198.50,1192.29 L200.00,1192.83 L201.50,1193.40 L203.00,1193.99 L204.50,1194.60 L206.00,1195.23 L207.50,1195.87 L209.00,1196.52 L210.50,1197.19 L212.00,1197.87 L213.50,1198.57 L215.00,1199.27 L216.50,1199.98 L218.00,1200.70 L219.50,1201.43 L221.00,1202.16 L222.50,1202.89 L224.00,1203.63 L225.50,1204.37 L227.00,1205.12 L228.50,1205.86 L230.00,1206.60 L231.50,1207.34 L233.00,1208.07 L234.50,1208.81 L236.00,1209.54 L237.50,1210.26 L239.00,1210.98 L240.50,1211.70 L242.00,1212.40 L243.50,1213.10 L245.00,1213.79 L246.50,1214.47 L248.00,1215.14 L249.50,1215.80 L251.00,1216.44 L252.50,1217.08 L254.00,1217.70 L255.50,1218.30 L257.00,1218.89 L258.50,1219.47 L260.00,1220.03 L261.50,1220.57 L263.00,1221.09 L264.50,1221.59 L266.00,1222.07 L267.50,1222.54 L269.00,1222.98 L270.50,1223.39 L272.00,1223.79 L273.50,1224.16 L275.00,1224.51 L276.50,1224.83 L278.00,1225.13 L279.50,1225.40 L281.00,1225.66 L282.50,1225.90 L284.00,1226.11 L285.50,1226.31 L287.00,1226.48 L288.50,1226.64 L290.00,1226.79 L291.50,1226.91 L293.00,1227.02 L294.50,1227.12 L296.00,1227.20 L297.50,1227.27 L299.00,1227.33 L300.50,1227.38 L302.00,1227.41 L303.50,1227.44 L305.00,1227.45 L306.50,1227.46 L308.00,1227.46 L309.50,1227.45 L311.00,1227.44 L312.50,1227.42 L314.00,1227.40 L315.50,1227.37 L317.00,1227.34 L318.50,1227.31 L320.00,1227.28 L321.50,1227.25 L323.00,1227.21 L324.50,1227.18 L326.00,1227.15 L327.50,1227.12 L329.00,1227.09 L330.50,1227.07 L332.00,1227.05 L333.50,1227.03 L335.00,1227.02 L336.50,1227.01 L338.00,1227.00 L339.50,1227.00 L341.00,1227.00 L342.50,1227.00 L344.00,1227.01 L345.50,1227.02 L347.00,1227.03 L348.50,1227.05 L350.00,1227.06 L351.50,1227.08 L353.00,1227.11 L354.50,1227.13 L356.00,1227.16 L357.50,1227.19 L359.00,1227.22 L360.50,1227.26 L362.00,1227.29 L363.50,1227.33 L365.00,1227.38 L366.50,1227.42 L368.00,1227.47 L369.50,1227.51 L371.00,1227.56 L372.50,1227.62 L374.00,1227.67 L375.50,1227.73 L377.00,1227.78 L378.50,1227.84 L380.00,1227.90 L381.50,1227.97 L383.00,1228.03 L384.50,1228.09 L386.00,1228.16 L387.50,1228.23 L389.00,1228.30 L390.50,1228.37 L392.00,1228.44 L393.50,1228.52 L395.00,1228.59 L396.50,1228.67 L398.00,1228.74 L399.50,1228.82 L401.00,1228.90 L402.50,1228.98 L404.00,1229.06 L405.50,1229.14 L407.00,1229.22 L408.50,1229.30 L410.00,1229.38 L411.50,1229.46 L413.00,1229.55 L414.50,1229.63 L416.00,1229.72 L417.50,1229.80 L419.00,1229.88 L420.50,1229.97 L422.00,1230.05 L423.50,1230.14 L425.00,1230.22 L426.50,1230.31 L428.00,1230.39 L429.50,1230.48 L431.00,1230.56 L432.50,1230.65 L434.00,1230.73 L435.50,1230.81 L437.00,1230.90 L438.50,1230.98 L440.00,1231.06 L441.50,1231.14 L443.00,1231.22 L444.50,1231.30 L446.00,1231.38 L447.50,1231.46 L449.00,1231.54 L450.50,1231.62 L452.00,1231.69 L453.50,1231.77 L455.00,1231.84 L456.50,1231.91 L458.00,1231.98 L459.50,1232.05 L461.00,1232.12 L462.50,1232.19 L464.00,1232.26 L465.50,1232.32 L467.00,1232.39 L468.50,1232.45 L470.00,1232.52 L471.50,1232.58 L473.00,1232.64 L474.50,1232.70 L476.00,1232.76 L477.50,1232.82 L479.00,1232.88 L480.50,1232.93 L482.00,1232.99 L483.50,1233.04 L485.00,1233.10 L486.50,1233.15 L488.00,1233.20 L489.50,1233.25 L491.00,1233.30 L492.50,1233.35 L494.00,1233.40 L495.50,1233.44 L497.00,1233.49 L498.50,1233.54 L500.00,1233.58 L501.50,1233.63 L503.00,1233.67 L504.50,1233.71 L506.00,1233.75 L507.50,1233.79 L509.00,1233.83 L510.50,1233.87 L512.00,1233.91 L513.50,1233.95 L515.00,1233.98 L516.50,1234.02 L518.00,1234.05 L519.50,1234.09 L521.00,1234.12 L522.50,1234.16 L524.00,1234.19 L525.50,1234.22 L527.00,1234.25 L528.50,1234.28 L530.00,1234.31 L531.50,1234.34 L533.00,1234.36 L534.50,1234.39 L536.00,1234.42 L537.50,1234.44 L539.00,1234.47 L540.50,1234.49 L542.00,1234.52 L543.50,1234.54 L545.00,1234.56 L546.50,1234.59 L548.00,1234.61 L549.50,1234.63 L551.00,1234.65 L552.50,1234.67 L554.00,1234.69 L555.50,1234.71 L557.00,1234.72 L558.50,1234.74 L560.00,1234.76 L561.50,1234.78 L563.00,1234.79 L564.50,1234.81 L566.00,1234.82 L567.50,1234.84 L569.00,1234.85 L570.50,1234.86 L572.00,1234.88 L573.50,1234.89 L575.00,1234.90 L576.50,1234.91 L578.00,1234.92 L579.50,1234.93 L581.00,1234.94 L582.50,1234.95 L584.00,1234.96 L585.50,1234.97 L587.00,1234.98 L588.50,1234.99 L590.00,1234.99 L591.50,1235.00 L593.00,1235.01 L594.50,1235.01 L596.00,1235.02 L597.50,1235.03 L599.00,1235.03 L600.50,1235.04 L602.00,1235.04 L603.50,1235.05 L605.00,1235.05 L606.50,1235.05 L608.00,1235.06 L609.50,1235.06 L611.00,1235.06 L612.50,1235.06 L614.00,1235.07 L615.50,1235.07 L617.00,1235.07 L618.50,1235.07 L620.00,1235.07 L621.50,1235.07 L623.00,1235.08 L624.50,1235.08 L626.00,1235.08 L627.50,1235.08 L629.00,1235.08 L630.50,1235.08 L632.00,1235.08 L633.50,1235.08 L635.00,1235.07 L636.50,1235.07 L638.00,1235.07 L639.50,1235.07 L641.00,1235.07 L642.50,1235.07 L644.00,1235.07 L645.50,1235.07 L647.00,1235.06 L648.50,1235.06 L650.00,1235.06 L651.50,1235.06 L653.00,1235.06 L654.50,1235.05 L656.00,1235.05 L657.50,1235.05 L659.00,1235.05 L660.50,1235.04 L662.00,1235.04 L663.50,1235.04 L665.00,1235.04 L666.50,1235.03 L668.00,1235.03 L669.50,1235.03 L671.00,1235.03 L672.50,1235.03 L674.00,1235.02 L675.50,1235.02 L677.00,1235.02 L678.50,1235.02 L680.00,1235.01 L681.50,1235.01 L683.00,1235.01 L684.50,1235.01 L686.00,1235.01 L687.50,1235.00 L689.00,1235.00 L690.50,1235.00 L692.00,1235.00 L693.50,1235.00 L695.00,1235.00 L696.50,1235.00 L698.00,1235.00 L699.50,1235.00 L701.00,1234.99 L702.50,1234.99 L704.00,1234.99 L705.50,1234.99 L707.00,1234.99 L708.50,1235.00 L710.00,1235.00 L711.50,1235.00 L713.00,1235.00 L714.50,1235.00 L716.00,1235.00 L717.50,1235.00 L719.00,1235.01 L720.50,1235.01 L722.00,1235.01 L723.50,1235.01 L725.00,1235.02 L726.50,1235.02 L728.00,1235.02 L729.50,1235.03 L731.00,1235.03 L732.50,1235.04 L734.00,1235.04 L735.50,1235.05 L737.00,1235.05 L738.50,1235.06 L740.00,1235.07 L741.50,1235.07 L743.00,1235.08 L744.50,1235.09 L746.00,1235.10 L747.50,1235.11 L748.00,1235.11" fill="none" stroke="#029e73" stroke-width="3.3" stroke-linejoin="round"/>
<path d="M151.20,1090.13 L152.70,1086.57 L154.20,1083.14 L155.70,1079.83 L157.20,1076.64 L158.70,1073.57 L160.20,1070.60 L161.70,1067.73 L163.20,1064.96 L164.70,1062.28 L166.20,1059.68 L167.70,1057.16 L169.20,1054.72 L170.70,1052.34 L172.20,1050.02 L173.70,1047.76 L175.20,1045.54 L176.70,1043.37 L178.20,1041.24 L179.70,1039.13 L181.20,1037.06 L182.70,1035.00 L184.20,1032.97 L185.70,1030.97 L187.20,1028.99 L188.70,1027.04 L190.20,1025.12 L191.70,1023.22 L193.20,1021.36 L194.70,1019.53 L196.20,1017.74 L197.70,1015.98 L199.20,1014.26 L200.70,1012.58 L202.20,1010.93 L203.70,1009.33 L205.20,1007.76 L206.70,1006.24 L208.20,1004.77 L209.70,1003.34 L211.20,1001.95 L212.70,1000.62 L214.20,999.33 L215.70,998.09 L217.20,996.91 L218.70,995.78 L220.20,994.71 L221.70,993.69 L223.20,992.72 L224.70,991.82 L226.20,990.97 L227.70,990.19 L229.20,989.47 L230.70,988.81 L232.20,988.21 L233.70,987.68 L235.20,987.22 L236.70,986.82 L238.20,986.49 L239.70,986.24 L241.20,986.05 L242.70,985.94 L244.20,985.90 L245.70,985.93 L247.20,986.04 L248.70,986.23 L250.20,986.49 L251.70,986.84 L253.20,987.26 L254.70,987.77 L256.20,988.35 L257.70,989.01 L259.20,989.75 L260.70,990.56 L262.20,991.44 L263.70,992.40 L265.20,993.43 L266.70,994.53 L268.20,995.70 L269.70,996.93 L271.20,998.24 L272.70,999.61 L274.20,1001.04 L275.70,1002.54 L277.20,1004.09 L278.70,1005.71 L280.20,1007.39 L281.70,1009.13 L283.20,1010.92 L284.70,1012.77 L286.20,1014.68 L287.70,1016.65 L289.20,1018.67 L290.70,1020.76 L292.20,1022.90 L293.70,1025.10 L295.20,1027.36 L296.70,1029.68 L298.20,1032.06 L299.70,1034.51 L301.20,1037.01 L302.70,1039.58 L304.20,1042.20 L305.70,1044.89 L307.20,1047.65 L308.70,1050.47 L310.20,1053.35 L311.70,1056.29 L313.20,1059.30 L314.70,1062.38 L316.20,1065.52 L317.70,1068.73 L319.20,1072.00 L320.70,1075.34 L322.20,1078.75 L323.70,1082.22 L325.20,1085.76 L326.70,1089.34 L328.20,1092.96 L329.70,1096.58 L331.20,1100.21 L332.70,1103.83 L334.20,1107.41 L335.70,1110.94 L337.20,1114.41 L338.70,1117.80 L340.20,1121.09 L341.70,1124.27 L343.20,1127.33 L344.70,1130.24 L346.20,1133.02 L347.70,1135.68 L349.20,1138.22 L350.70,1140.66 L352.20,1143.01 L353.70,1145.28 L355.20,1147.49 L356.70,1149.64 L358.20,1151.75 L359.70,1153.82 L361.20,1155.88 L362.70,1157.92 L364.20,1159.94 L365.70,1161.93 L367.20,1163.90 L368.70,1165.84 L370.20,1167.74 L371.70,1169.60 L373.20,1171.43 L374.70,1173.21 L376.20,1174.94 L377.70,1176.62 L379.20,1178.26 L380.70,1179.86 L382.20,1181.41 L383.70,1182.91 L385.20,1184.37 L386.70,1185.79 L388.20,1187.17 L389.70,1188.51 L391.20,1189.81 L392.70,1191.07 L394.20,1192.29 L395.70,1193.47 L397.20,1194.62 L398.70,1195.73 L400.20,1196.80 L401.70,1197.85 L403.20,1198.86 L404.70,1199.83 L406.20,1200.78 L407.70,1201.69 L409.20,1202.58 L410.70,1203.43 L412.20,1204.26 L413.70,1205.06 L415.20,1205.84 L416.70,1206.58 L418.20,1207.31 L419.70,1208.01 L421.20,1208.68 L422.70,1209.34 L424.20,1209.97 L425.70,1210.58 L427.20,1211.17 L428.70,1211.74 L430.20,1212.30 L431.70,1212.84 L433.20,1213.36 L434.70,1213.86 L436.20,1214.35 L437.70,1214.82 L439.20,1215.29 L440.70,1215.74 L442.20,1216.17 L443.70,1216.60 L445.20,1217.02 L446.70,1217.43 L448.20,1217.83 L449.70,1218.22 L451.20,1218.61 L452.70,1218.98 L454.20,1219.36 L455.70,1219.73 L457.20,1220.09 L458.70,1220.44 L460.20,1220.79 L461.70,1221.14 L463.20,1221.48 L464.70,1221.81 L466.20,1222.14 L467.70,1222.46 L469.20,1222.78 L470.70,1223.09 L472.20,1223.40 L473.70,1223.70 L475.20,1223.99 L476.70,1224.29 L478.20,1224.57 L479.70,1224.85 L481.20,1225.13 L482.70,1225.40 L484.20,1225.66 L485.70,1225.92 L487.20,1226.18 L488.70,1226.43 L490.20,1226.68 L491.70,1226.92 L493.20,1227.16 L494.70,1227.39 L496.20,1227.62 L497.70,1227.84 L499.20,1228.06 L500.70,1228.28 L502.20,1228.49 L503.70,1228.70 L505.20,1228.90 L506.70,1229.10 L508.20,1229.29 L509.70,1229.49 L511.20,1229.67 L512.70,1229.86 L514.20,1230.03 L515.70,1230.21 L517.20,1230.38 L518.70,1230.55 L520.20,1230.71 L521.70,1230.88 L523.20,1231.03 L524.70,1231.19 L526.20,1231.34 L527.70,1231.48 L529.20,1231.63 L530.70,1231.77 L532.20,1231.91 L533.70,1232.04 L535.20,1232.17 L536.70,1232.30 L538.20,1232.43 L539.70,1232.55 L541.20,1232.67 L542.70,1232.79 L544.20,1232.90 L545.70,1233.01 L547.20,1233.12 L548.70,1233.22 L550.20,1233.33 L551.70,1233.43 L553.20,1233.52 L554.70,1233.62 L556.20,1233.71 L557.70,1233.80 L559.20,1233.88 L560.70,1233.96 L562.20,1234.04 L563.70,1234.12 L565.20,1234.20 L566.70,1234.27 L568.20,1234.34 L569.70,1234.40 L571.20,1234.47 L572.70,1234.53 L574.20,1234.59 L575.70,1234.64 L577.20,1234.70 L578.70,1234.75 L580.20,1234.79 L581.70,1234.84 L583.20,1234.88 L584.70,1234.92 L586.20,1234.96 L587.70,1234.99 L589.20,1235.02 L590.70,1235.05 L592.20,1235.08 L593.70,1235.10 L595.20,1235.12 L596.70,1235.14 L598.20,1235.16 L599.70,1235.17 L601.20,1235.18 L602.70,1235.19 L604.20,1235.20 L605.70,1235.20 L607.20,1235.20 L608.70,1235.20 L610.20,1235.19 L611.70,1235.19 L613.20,1235.18 L614.70,1235.17 L616.20,1235.15 L617.70,1235.13 L619.20,1235.12 L620.70,1235.09 L622.20,1235.07 L623.70,1235.04 L625.20,1235.01 L626.70,1234.98 L628.20,1234.95 L629.70,1234.91 L631.20,1234.87 L632.70,1234.83 L634.20,1234.79 L635.70,1234.74 L637.20,1234.70 L638.70,1234.65 L640.20,1234.59 L641.70,1234.54 L643.20,1234.48 L644.70,1234.42 L646.20,1234.36 L647.70,1234.29 L649.20,1234.23 L650.70,1234.16 L652.20,1234.09 L653.70,1234.01 L655.20,1233.94 L656.70,1233.86 L658.20,1233.78 L659.70,1233.70 L661.20,1233.61 L662.70,1233.52 L664.20,1233.43 L665.70,1233.34 L667.20,1233.25 L668.70,1233.15 L670.20,1233.06 L671.70,1232.96 L673.20,1232.85 L674.70,1232.75 L676.20,1232.64 L677.70,1232.53 L679.20,1232.42 L680.70,1232.31 L682.20,1232.19 L683.70,1232.08 L685.20,1231.96 L686.70,1231.83 L688.20,1231.71 L689.70,1231.58 L691.20,1231.46 L692.70,1231.33 L694.20,1231.19 L695.70,1231.06 L697.20,1230.92 L698.70,1230.79 L700.20,1230.65 L701.70,1230.50 L703.20,1230.36 L704.70,1230.21 L706.20,1230.06 L707.70,1229.91 L709.20,1229.76 L710.70,1229.61 L712.20,1229.45 L713.70,1229.29 L715.20,1229.13 L716.70,1228.97 L718.20,1228.81 L719.70,1228.64 L721.20,1228.47 L722.70,1228.30 L724.20,1228.13 L725.70,1227.96 L727.20,1227.78 L728.70,1227.61 L730.20,1227.43 L731.70,1227.25 L733.20,1227.06 L734.70,1226.88 L736.20,1226.69 L737.70,1226.51 L739.20,1226.32 L740.70,1226.12 L742.20,1225.93 L743.70,1225.73 L745.20,1225.54 L746.70,1225.34 L748.00,1225.16" fill="none" stroke="#0173b2" stroke-width="3.3" stroke-linejoin="round"/>
<line x1="122.60" y1="806.50" x2="122.60" y2="1236.30" stroke="#000" stroke-width="1.6"/>
<line x1="777.10" y1="806.50" x2="777.10" y2="1236.30" stroke="#000" stroke-width="1.6"/>
<line x1="121.80" y1="806.50" x2="777.90" y2="806.50" stroke="#000" stroke-width="1.6"/>
<line x1="121.80" y1="1235.50" x2="777.90" y2="1235.50" stroke="#000" stroke-width="1.6"/>
<line x1="113.80" y1="1235.50" x2="122.60" y2="1235.50" stroke="#000" stroke-width="1.6"/>
<text x="103.30" y="1242.90" font-size="21" text-anchor="end" fill="#000">0.0</text>
<line x1="113.80" y1="1183.35" x2="122.60" y2="1183.35" stroke="#000" stroke-width="1.6"/>
<text x="103.30" y="1190.75" font-size="21" text-anchor="end" fill="#000">0.5</text>
<line x1="113.80" y1="1131.20" x2="122.60" y2="1131.20" stroke="#000" stroke-width="1.6"/>
<text x="103.30" y="1138.60" font-size="21" text-anchor="end" fill="#000">1.0</text>
<line x1="113.80" y1="1079.05" x2="122.60" y2="1079.05" stroke="#000" stroke-width="1.6"/>
<text x="103.30" y="1086.45" font-size="21" text-anchor="end" fill="#000">1.5</text>
<line x1="113.80" y1="1026.90" x2="122.60" y2="1026.90" stroke="#000" stroke-width="1.6"/>
<text x="103.30" y="1034.30" font-size="21" text-anchor="end" fill="#000">2.0</text>
<line x1="113.80" y1="974.75" x2="122.60" y2="974.75" stroke="#000" stroke-width="1.6"/>
<text x="103.30" y="982.15" font-size="21" text-anchor="end" fill="#000">2.5</text>
<line x1="113.80" y1="922.60" x2="122.60" y2="922.60" stroke="#000" stroke-width="1.6"/>
<text x="103.30" y="930.00" font-size="21" text-anchor="end" fill="#000">3.0</text>
<line x1="113.80" y1="870.45" x2="122.60" y2="870.45" stroke="#000" stroke-width="1.6"/>
<text x="103.30" y="877.85" font-size="21" text-anchor="end" fill="#000">3.5</text>
<line x1="113.80" y1="818.30" x2="122.60" y2="818.30" stroke="#000" stroke-width="1.6"/>
<text x="103.30" y="825.70" font-size="21" text-anchor="end" fill="#000">4.0</text>
<line x1="146.10" y1="1235.50" x2="146.10" y2="1240.70" stroke="#000" stroke-width="1.6"/>
<text x="146.10" y="1265.60" font-size="21" text-anchor="middle" fill="#000">0.00</text>
<line x1="254.70" y1="1235.50" x2="254.70" y2="1240.70" stroke="#000" stroke-width="1.6"/>
<text x="254.70" y="1265.60" font-size="21" text-anchor="middle" fill="#000">0.05</text>
<line x1="363.30" y1="1235.50" x2="363.30" y2="1240.70" stroke="#000" stroke-width="1.6"/>
<text x="363.30" y="1265.60" font-size="21" text-anchor="middle" fill="#000">0.10</text>
<line x1="471.90" y1="1235.50" x2="471.90" y2="1240.70" stroke="#000" stroke-width="1.6"/>
<text x="471.90" y="1265.60" font-size="21" text-anchor="middle" fill="#000">0.15</text>
<line x1="580.50" y1="1235.50" x2="580.50" y2="1240.70" stroke="#000" stroke-width="1.6"/>
<text x="580.50" y="1265.60" font-size="21" text-anchor="middle" fill="#000">0.20</text>
<line x1="689.10" y1="1235.50" x2="689.10" y2="1240.70" stroke="#000" stroke-width="1.6"/>
<text x="689.10" y="1265.60" font-size="21" text-anchor="middle" fill="#000">0.25</text>
<text x="450.60" y="1302.30" font-size="31.5" text-anchor="middle" fill="#000" textLength="604.4" lengthAdjust="spacingAndGlyphs">Functional Gini Coefficient (KO occurence)</text>
<text x="55.90" y="1019.60" font-size="31.5" text-anchor="middle" fill="#000" textLength="105.8" lengthAdjust="spacingAndGlyphs" transform="rotate(-90 55.90 1019.60)">Density</text>
<text transform="translate(3.2,786.8) scale(0.91,1.04)" font-size="49" fill="#000">c</text>
<rect x="417.2" y="819.0" width="347.9" height="201.9" rx="5" ry="5" fill="#fff" fill-opacity="0.8" stroke="#cfcfcf" stroke-width="2.4"/>
<text x="429.10" y="852.90" font-size="30.8" text-anchor="start" fill="#000" textLength="302.9" lengthAdjust="spacingAndGlyphs">Community category</text>
<rect x="438.40" y="874.10" width="53.70" height="18.50" fill="#0173b2" stroke="#000" stroke-width="2.2" fill-opacity="0.5"/>
<text x="513.20" y="891.80" font-size="23.9" text-anchor="start" fill="#000" textLength="199.0" lengthAdjust="spacingAndGlyphs">LPD - LCP (N=47)</text>
<rect x="438.40" y="911.70" width="53.70" height="18.50" fill="#029e73" stroke="#000" stroke-width="2.2" fill-opacity="0.5"/>
<text x="513.20" y="929.60" font-size="23.9" text-anchor="start" fill="#000" textLength="190.5" lengthAdjust="spacingAndGlyphs">LPD - HCP (N=7)</text>
<rect x="438.40" y="949.50" width="53.70" height="18.50" fill="#d55e00" stroke="#000" stroke-width="2.2" fill-opacity="0.5"/>
<text x="513.20" y="967.50" font-size="23.9" text-anchor="start" fill="#000" textLength="204.3" lengthAdjust="spacingAndGlyphs">HPD - LCP (N=33)</text>
<rect x="438.40" y="987.30" width="53.70" height="18.50" fill="#cc78bc" stroke="#000" stroke-width="2.2" fill-opacity="0.5"/>
<text x="513.20" y="1005.00" font-size="23.9" text-anchor="start" fill="#000" textLength="195.8" lengthAdjust="spacingAndGlyphs">HPD - HCP (N=8)</text>
<line x1="918.70" y1="860.00" x2="954.30" y2="860.00" stroke="#3d3d3d" stroke-width="2.2"/>
<line x1="1036.70" y1="860.00" x2="1109.00" y2="860.00" stroke="#3d3d3d" stroke-width="2.2"/>
<line x1="918.70" y1="837.70" x2="918.70" y2="882.30" stroke="#3d3d3d" stroke-width="2.2"/>
<line x1="1109.00" y1="837.70" x2="1109.00" y2="882.30" stroke="#3d3d3d" stroke-width="2.2"/>
<rect x="954.30" y="817.00" width="82.40" height="86.00" fill="#176d9c" stroke="#3d3d3d" stroke-width="2.2"/>
<line x1="996.00" y1="817.00" x2="996.00" y2="903.00" stroke="#3d3d3d" stroke-width="2.2"/>
<path d="M1162.90,855.50 L1165.65,860.00 L1162.90,864.50 L1160.15,860.00 Z" fill="#3d3d3d"/>
<path d="M1394.40,855.50 L1397.15,860.00 L1394.40,864.50 L1391.65,860.00 Z" fill="#3d3d3d"/>
<line x1="919.10" y1="967.30" x2="927.20" y2="967.30" stroke="#3d3d3d" stroke-width="2.2"/>
<line x1="960.40" y1="967.30" x2="965.50" y2="967.30" stroke="#3d3d3d" stroke-width="2.2"/>
<line x1="919.10" y1="945.00" x2="919.10" y2="989.60" stroke="#3d3d3d" stroke-width="2.2"/>
<line x1="965.50" y1="945.00" x2="965.50" y2="989.60" stroke="#3d3d3d" stroke-width="2.2"/>
<rect x="927.20" y="924.30" width="33.20" height="86.00" fill="#168a6a" stroke="#3d3d3d" stroke-width="2.2"/>
<line x1="934.50" y1="924.30" x2="934.50" y2="1010.30" stroke="#3d3d3d" stroke-width="2.2"/>
<path d="M1091.70,962.80 L1094.45,967.30 L1091.70,971.80 L1088.95,967.30 Z" fill="#3d3d3d"/>
<line x1="920.90" y1="1074.60" x2="999.20" y2="1074.60" stroke="#3d3d3d" stroke-width="2.2"/>
<line x1="1099.30" y1="1074.60" x2="1208.30" y2="1074.60" stroke="#3d3d3d" stroke-width="2.2"/>
<line x1="920.90" y1="1052.30" x2="920.90" y2="1096.90" stroke="#3d3d3d" stroke-width="2.2"/>
<line x1="1208.30" y1="1052.30" x2="1208.30" y2="1096.90" stroke="#3d3d3d" stroke-width="2.2"/>
<rect x="999.20" y="1031.60" width="100.10" height="86.00" fill="#ba611b" stroke="#3d3d3d" stroke-width="2.2"/>
<line x1="1040.80" y1="1031.60" x2="1040.80" y2="1117.60" stroke="#3d3d3d" stroke-width="2.2"/>
<line x1="946.80" y1="1181.90" x2="956.90" y2="1181.90" stroke="#3d3d3d" stroke-width="2.2"/>
<line x1="1037.00" y1="1181.90" x2="1081.30" y2="1181.90" stroke="#3d3d3d" stroke-width="2.2"/>
<line x1="946.80" y1="1159.60" x2="946.80" y2="1204.20" stroke="#3d3d3d" stroke-width="2.2"/>
<line x1="1081.30" y1="1159.60" x2="1081.30" y2="1204.20" stroke="#3d3d3d" stroke-width="2.2"/>
<rect x="956.90" y="1138.90" width="80.10" height="86.00" fill="#c282b6" stroke="#3d3d3d" stroke-width="2.2"/>
<line x1="986.80" y1="1138.90" x2="986.80" y2="1224.90" stroke="#3d3d3d" stroke-width="2.2"/>
<path d="M1176.9,859.7 L1189.9,859.7 L1189.9,967.6 L1176.9,967.6" fill="none" stroke="#3a3a3a" stroke-width="3"/>
<path d="M1242.3,967.6 L1254.9,967.6 L1254.9,1074.8 L1242.3,1074.8" fill="none" stroke="#3a3a3a" stroke-width="3"/>
<path d="M1307.2,1074.6 L1320.0,1074.6 L1320.0,1182.3 L1307.2,1182.3" fill="none" stroke="#3a3a3a" stroke-width="3"/>
<path d="M1372.3,859.7 L1384.8,859.7 L1384.8,1074.8 L1372.3,1074.8" fill="none" stroke="#3a3a3a" stroke-width="3"/>
<path d="M1211.00,914.00 L1216.60,914.00 M1211.00,914.00 L1212.16,919.48 M1211.00,914.00 L1212.16,908.52 M1211.00,914.00 L1206.15,916.80 M1211.00,914.00 L1206.15,911.20 " stroke="#000" stroke-width="1.9" stroke-linecap="round" fill="none"/>
<path d="M1276.30,1014.00 L1281.90,1014.00 M1276.30,1014.00 L1277.46,1019.48 M1276.30,1014.00 L1277.46,1008.52 M1276.30,1014.00 L1271.45,1016.80 M1276.30,1014.00 L1271.45,1011.20 " stroke="#000" stroke-width="1.9" stroke-linecap="round" fill="none"/>
<path d="M1276.30,1028.00 L1281.90,1028.00 M1276.30,1028.00 L1277.46,1033.48 M1276.30,1028.00 L1277.46,1022.52 M1276.30,1028.00 L1271.45,1030.80 M1276.30,1028.00 L1271.45,1025.20 " stroke="#000" stroke-width="1.9" stroke-linecap="round" fill="none"/>
<path d="M1341.80,1129.50 L1347.40,1129.50 M1341.80,1129.50 L1342.96,1134.98 M1341.80,1129.50 L1342.96,1124.02 M1341.80,1129.50 L1336.95,1132.30 M1341.80,1129.50 L1336.95,1126.70 " stroke="#000" stroke-width="1.9" stroke-linecap="round" fill="none"/>
<path d="M1406.80,960.60 L1412.40,960.60 M1406.80,960.60 L1407.96,966.08 M1406.80,960.60 L1407.96,955.12 M1406.80,960.60 L1401.95,963.40 M1406.80,960.60 L1401.95,957.80 " stroke="#000" stroke-width="1.9" stroke-linecap="round" fill="none"/>
<path d="M1406.80,974.60 L1412.40,974.60 M1406.80,974.60 L1407.96,980.08 M1406.80,974.60 L1407.96,969.12 M1406.80,974.60 L1401.95,977.40 M1406.80,974.60 L1401.95,971.80 " stroke="#000" stroke-width="1.9" stroke-linecap="round" fill="none"/>
<line x1="894.70" y1="806.40" x2="894.70" y2="1236.70" stroke="#000" stroke-width="1.6"/>
<line x1="1419.00" y1="806.40" x2="1419.00" y2="1236.70" stroke="#000" stroke-width="1.6"/>
<line x1="893.90" y1="806.40" x2="1419.80" y2="806.40" stroke="#000" stroke-width="1.6"/>
<line x1="893.90" y1="1235.90" x2="1419.80" y2="1235.90" stroke="#000" stroke-width="1.6"/>
<line x1="913.90" y1="1235.90" x2="913.90" y2="1241.10" stroke="#000" stroke-width="1.6"/>
<text x="913.90" y="1265.60" font-size="21" text-anchor="middle" fill="#000">0.00</text>
<line x1="1000.85" y1="1235.90" x2="1000.85" y2="1241.10" stroke="#000" stroke-width="1.6"/>
<text x="1000.85" y="1265.60" font-size="21" text-anchor="middle" fill="#000">0.05</text>
<line x1="1087.80" y1="1235.90" x2="1087.80" y2="1241.10" stroke="#000" stroke-width="1.6"/>
<text x="1087.80" y="1265.60" font-size="21" text-anchor="middle" fill="#000">0.10</text>
<line x1="1174.75" y1="1235.90" x2="1174.75" y2="1241.10" stroke="#000" stroke-width="1.6"/>
<text x="1174.75" y="1265.60" font-size="21" text-anchor="middle" fill="#000">0.15</text>
<line x1="1261.70" y1="1235.90" x2="1261.70" y2="1241.10" stroke="#000" stroke-width="1.6"/>
<text x="1261.70" y="1265.60" font-size="21" text-anchor="middle" fill="#000">0.20</text>
<line x1="1348.65" y1="1235.90" x2="1348.65" y2="1241.10" stroke="#000" stroke-width="1.6"/>
<text x="1348.65" y="1265.60" font-size="21" text-anchor="middle" fill="#000">0.25</text>
<text x="1157.40" y="1303.30" font-size="31.5" text-anchor="middle" fill="#000" textLength="604.4" lengthAdjust="spacingAndGlyphs">Functional Gini Coefficient (KO occurence)</text>
</svg>
</body></html>
